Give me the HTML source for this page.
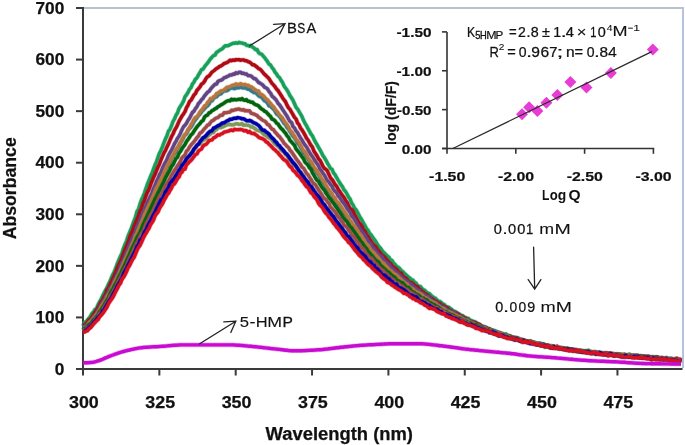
<!DOCTYPE html>
<html><head><meta charset="utf-8"><style>
html,body{margin:0;padding:0;background:#fff;width:685px;height:445px;overflow:hidden}
svg{display:block;filter:blur(0.3px)}
text{font-family:"Liberation Sans",sans-serif;fill:#111}
.b17{font-size:17.2px;font-weight:bold;stroke:#111;stroke-width:0.25px}
.b18{font-size:18px;font-weight:bold;stroke:#111;stroke-width:0.25px}
.b13{font-size:13.5px;font-weight:bold;stroke:#111;stroke-width:0.2px}
.b14{font-size:14px;font-weight:bold;stroke:#111;stroke-width:0.2px}
.r13{font-size:13px}
.r15{font-size:15.8px;stroke:#111;stroke-width:0.25px}
</style></head><body>
<svg width="685" height="445" viewBox="0 0 685 445">
<rect width="685" height="445" fill="#fff"/>
<rect x="84" y="7" width="600" height="2" fill="#B9C2CC"/><rect x="682" y="7" width="2" height="361" fill="#B6C3DC"/><rect x="82" y="7" width="2" height="363" fill="#3a3a3a"/><rect x="76" y="368" width="606.5" height="2" fill="#3a3a3a"/>
<g fill="none" stroke-width="3.4" stroke-linejoin="round" stroke-linecap="butt">
<path d="M83.0,325.8 L84.5,322.3 L86.0,322.1 L87.5,319.9 L89.0,318.2 L90.5,316.3 L92.0,313.4 L93.5,312.0 L95.0,309.4 L96.5,308.9 L98.0,304.9 L99.5,302.0 L101.0,299.3 L102.5,296.3 L104.0,293.1 L105.5,290.4 L107.0,287.7 L108.5,284.1 L110.0,281.4 L111.5,277.5 L113.0,274.2 L114.5,271.3 L116.0,267.3 L117.5,263.2 L119.0,259.7 L120.5,256.3 L122.0,253.1 L123.5,248.3 L125.0,244.4 L126.5,241.1 L128.0,236.3 L129.5,232.6 L131.0,229.2 L132.5,225.0 L134.0,220.8 L135.5,217.0 L137.0,211.4 L138.5,209.1 L140.0,204.1 L141.5,199.8 L143.0,196.6 L144.5,192.8 L146.0,188.2 L147.5,184.0 L149.0,180.5 L150.5,176.5 L152.0,173.2 L153.5,169.1 L155.0,165.0 L156.5,161.6 L158.0,157.2 L159.5,153.2 L161.0,150.2 L162.5,146.6 L164.0,142.6 L165.5,138.8 L167.0,135.8 L168.5,131.1 L170.0,129.2 L171.5,125.7 L173.0,121.5 L174.5,119.0 L176.0,115.3 L177.5,113.0 L179.0,108.6 L180.5,106.1 L182.0,103.9 L183.5,101.2 L185.0,96.8 L186.5,94.8 L188.0,92.4 L189.5,89.3 L191.0,87.7 L192.5,83.9 L194.0,82.1 L195.5,79.0 L197.0,77.8 L198.5,74.9 L200.0,72.5 L201.5,69.7 L203.0,69.2 L204.5,66.8 L206.0,64.8 L207.5,63.1 L209.0,61.0 L210.5,58.8 L212.0,57.1 L213.5,55.6 L215.0,55.1 L216.5,52.4 L218.0,51.5 L219.5,50.4 L221.0,49.5 L222.5,48.6 L224.0,46.8 L225.5,45.7 L227.0,45.7 L228.5,45.5 L230.0,44.7 L231.5,44.0 L233.0,43.3 L234.5,43.3 L236.0,42.8 L237.5,43.2 L239.0,42.4 L240.5,42.9 L242.0,43.0 L243.5,43.6 L245.0,43.8 L246.5,45.3 L248.0,45.5 L249.5,46.2 L251.0,45.4 L252.5,47.1 L254.0,48.0 L255.5,49.6 L257.0,49.5 L258.5,52.4 L260.0,53.7 L261.5,54.1 L263.0,55.8 L264.5,57.5 L266.0,59.6 L267.5,61.6 L269.0,64.1 L270.5,65.0 L272.0,67.5 L273.5,69.3 L275.0,72.1 L276.5,73.8 L278.0,76.4 L279.5,77.5 L281.0,80.3 L282.5,82.4 L284.0,85.9 L285.5,88.0 L287.0,90.1 L288.5,92.7 L290.0,95.7 L291.5,97.8 L293.0,100.4 L294.5,103.7 L296.0,107.3 L297.5,108.9 L299.0,111.5 L300.5,114.0 L302.0,116.7 L303.5,120.3 L305.0,123.3 L306.5,125.7 L308.0,128.6 L309.5,131.3 L311.0,134.1 L312.5,136.1 L314.0,139.3 L315.5,142.3 L317.0,144.6 L318.5,147.4 L320.0,149.9 L321.5,152.7 L323.0,155.8 L324.5,157.8 L326.0,160.4 L327.5,163.3 L329.0,165.7 L330.5,168.5 L332.0,169.2 L333.5,172.9 L335.0,174.7 L336.5,177.3 L338.0,180.0 L339.5,182.5 L341.0,184.8 L342.5,186.8 L344.0,189.9 L345.5,191.5 L347.0,194.0 L348.5,197.0 L350.0,198.9 L351.5,202.7 L353.0,204.9 L354.5,208.1 L356.0,209.7 L357.5,212.3 L359.0,215.2 L360.5,218.1 L362.0,220.2 L363.5,223.2 L365.0,225.6 L366.5,228.8 L368.0,230.2 L369.5,233.3 L371.0,234.8 L372.5,236.9 L374.0,239.2 L375.5,241.0 L377.0,243.7 L378.5,246.0 L380.0,247.6 L381.5,249.6 L383.0,251.9 L384.5,253.1 L386.0,254.8 L387.5,256.2 L389.0,257.3 L390.5,260.0 L392.0,260.4 L393.5,263.0 L395.0,264.3 L396.5,266.3 L398.0,267.2 L399.5,268.3 L401.0,270.3 L402.5,271.3 L404.0,272.9 L405.5,274.4 L407.0,275.7 L408.5,277.0 L410.0,278.1 L411.5,279.7 L413.0,280.1 L414.5,282.3 L416.0,283.1 L417.5,285.4 L419.0,286.7 L420.5,286.5 L422.0,288.7 L423.5,289.7 L425.0,290.5 L426.5,292.4 L428.0,293.1 L429.5,293.6 L431.0,295.4 L432.5,296.6 L434.0,297.8 L435.5,298.3 L437.0,300.2 L438.5,301.3 L440.0,301.5 L441.5,302.7 L443.0,304.0 L444.5,304.7 L446.0,306.8 L447.5,307.0 L449.0,307.4 L450.5,308.5 L452.0,309.7 L453.5,311.7 L455.0,311.5 L456.5,312.5 L458.0,313.5 L459.5,314.1 L461.0,316.0 L462.5,315.6 L464.0,317.0 L465.5,317.5 L467.0,318.5 L468.5,318.5 L470.0,320.6 L471.5,320.5 L473.0,321.3 L474.5,321.6 L476.0,322.4 L477.5,323.7 L479.0,324.6 L480.5,325.2 L482.0,326.1 L483.5,326.5 L485.0,326.8 L486.5,327.8 L488.0,328.4 L489.5,328.7 L491.0,329.7 L492.5,330.5 L494.0,330.6 L495.5,330.9 L497.0,332.0 L498.5,333.1 L500.0,332.7 L501.5,333.3 L503.0,333.8 L504.5,334.9 L506.0,334.1 L507.5,335.5 L509.0,336.4 L510.5,336.0 L512.0,337.5 L513.5,337.5 L515.0,337.5 L516.5,338.3 L518.0,337.9 L519.5,338.8 L521.0,340.3 L522.5,339.5 L524.0,341.1 L525.5,340.7 L527.0,341.5 L528.5,341.5 L530.0,340.8 L531.5,342.0 L533.0,342.7 L534.5,342.4 L536.0,342.7 L537.5,343.8 L539.0,343.7 L540.5,343.5 L542.0,344.3 L543.5,345.3 L545.0,345.0 L546.5,345.9 L548.0,346.5 L549.5,346.1 L551.0,345.8 L552.5,346.0 L554.0,346.9 L555.5,347.6 L557.0,347.5 L558.5,347.9 L560.0,347.7 L561.5,348.3 L563.0,348.2 L564.5,348.5 L566.0,348.3 L567.5,348.3 L569.0,349.1 L570.5,349.0 L572.0,349.3 L573.5,350.2 L575.0,350.0 L576.5,351.6 L578.0,350.9 L579.5,350.4 L581.0,351.2 L582.5,351.2 L584.0,350.9 L585.5,351.8 L587.0,351.2 L588.5,350.3 L590.0,352.2 L591.5,351.7 L593.0,352.8 L594.5,352.0 L596.0,351.9 L597.5,353.3 L599.0,352.2 L600.5,353.0 L602.0,353.7 L603.5,353.2 L605.0,353.2 L606.5,353.5 L608.0,353.9 L609.5,353.3 L611.0,354.1 L612.5,354.2 L614.0,355.1 L615.5,354.0 L617.0,353.9 L618.5,354.7 L620.0,354.3 L621.5,354.8 L623.0,354.8 L624.5,355.4 L626.0,354.7 L627.5,355.1 L629.0,354.1 L630.5,354.9 L632.0,356.1 L633.5,355.3 L635.0,355.4 L636.5,355.2 L638.0,356.2 L639.5,356.1 L641.0,355.6 L642.5,356.6 L644.0,356.5 L645.5,356.8 L647.0,356.3 L648.5,357.5 L650.0,357.0 L651.5,356.9 L653.0,356.9 L654.5,357.1 L656.0,357.8 L657.5,357.4 L659.0,358.1 L660.5,358.0 L662.0,358.5 L663.5,358.4 L665.0,358.2 L666.5,357.5 L668.0,358.6 L669.5,359.0 L671.0,358.8 L672.5,359.2 L674.0,358.9 L675.5,359.1 L677.0,359.0 L678.5,360.2 L680.0,359.8 L681.0,359.7" stroke="#16A05A" stroke-width="4.6" stroke-opacity="0.35"/><path d="M83.0,325.8 L84.5,322.3 L86.0,322.1 L87.5,319.9 L89.0,318.2 L90.5,316.3 L92.0,313.4 L93.5,312.0 L95.0,309.4 L96.5,308.9 L98.0,304.9 L99.5,302.0 L101.0,299.3 L102.5,296.3 L104.0,293.1 L105.5,290.4 L107.0,287.7 L108.5,284.1 L110.0,281.4 L111.5,277.5 L113.0,274.2 L114.5,271.3 L116.0,267.3 L117.5,263.2 L119.0,259.7 L120.5,256.3 L122.0,253.1 L123.5,248.3 L125.0,244.4 L126.5,241.1 L128.0,236.3 L129.5,232.6 L131.0,229.2 L132.5,225.0 L134.0,220.8 L135.5,217.0 L137.0,211.4 L138.5,209.1 L140.0,204.1 L141.5,199.8 L143.0,196.6 L144.5,192.8 L146.0,188.2 L147.5,184.0 L149.0,180.5 L150.5,176.5 L152.0,173.2 L153.5,169.1 L155.0,165.0 L156.5,161.6 L158.0,157.2 L159.5,153.2 L161.0,150.2 L162.5,146.6 L164.0,142.6 L165.5,138.8 L167.0,135.8 L168.5,131.1 L170.0,129.2 L171.5,125.7 L173.0,121.5 L174.5,119.0 L176.0,115.3 L177.5,113.0 L179.0,108.6 L180.5,106.1 L182.0,103.9 L183.5,101.2 L185.0,96.8 L186.5,94.8 L188.0,92.4 L189.5,89.3 L191.0,87.7 L192.5,83.9 L194.0,82.1 L195.5,79.0 L197.0,77.8 L198.5,74.9 L200.0,72.5 L201.5,69.7 L203.0,69.2 L204.5,66.8 L206.0,64.8 L207.5,63.1 L209.0,61.0 L210.5,58.8 L212.0,57.1 L213.5,55.6 L215.0,55.1 L216.5,52.4 L218.0,51.5 L219.5,50.4 L221.0,49.5 L222.5,48.6 L224.0,46.8 L225.5,45.7 L227.0,45.7 L228.5,45.5 L230.0,44.7 L231.5,44.0 L233.0,43.3 L234.5,43.3 L236.0,42.8 L237.5,43.2 L239.0,42.4 L240.5,42.9 L242.0,43.0 L243.5,43.6 L245.0,43.8 L246.5,45.3 L248.0,45.5 L249.5,46.2 L251.0,45.4 L252.5,47.1 L254.0,48.0 L255.5,49.6 L257.0,49.5 L258.5,52.4 L260.0,53.7 L261.5,54.1 L263.0,55.8 L264.5,57.5 L266.0,59.6 L267.5,61.6 L269.0,64.1 L270.5,65.0 L272.0,67.5 L273.5,69.3 L275.0,72.1 L276.5,73.8 L278.0,76.4 L279.5,77.5 L281.0,80.3 L282.5,82.4 L284.0,85.9 L285.5,88.0 L287.0,90.1 L288.5,92.7 L290.0,95.7 L291.5,97.8 L293.0,100.4 L294.5,103.7 L296.0,107.3 L297.5,108.9 L299.0,111.5 L300.5,114.0 L302.0,116.7 L303.5,120.3 L305.0,123.3 L306.5,125.7 L308.0,128.6 L309.5,131.3 L311.0,134.1 L312.5,136.1 L314.0,139.3 L315.5,142.3 L317.0,144.6 L318.5,147.4 L320.0,149.9 L321.5,152.7 L323.0,155.8 L324.5,157.8 L326.0,160.4 L327.5,163.3 L329.0,165.7 L330.5,168.5 L332.0,169.2 L333.5,172.9 L335.0,174.7 L336.5,177.3 L338.0,180.0 L339.5,182.5 L341.0,184.8 L342.5,186.8 L344.0,189.9 L345.5,191.5 L347.0,194.0 L348.5,197.0 L350.0,198.9 L351.5,202.7 L353.0,204.9 L354.5,208.1 L356.0,209.7 L357.5,212.3 L359.0,215.2 L360.5,218.1 L362.0,220.2 L363.5,223.2 L365.0,225.6 L366.5,228.8 L368.0,230.2 L369.5,233.3 L371.0,234.8 L372.5,236.9 L374.0,239.2 L375.5,241.0 L377.0,243.7 L378.5,246.0 L380.0,247.6 L381.5,249.6 L383.0,251.9 L384.5,253.1 L386.0,254.8 L387.5,256.2 L389.0,257.3 L390.5,260.0 L392.0,260.4 L393.5,263.0 L395.0,264.3 L396.5,266.3 L398.0,267.2 L399.5,268.3 L401.0,270.3 L402.5,271.3 L404.0,272.9 L405.5,274.4 L407.0,275.7 L408.5,277.0 L410.0,278.1 L411.5,279.7 L413.0,280.1 L414.5,282.3 L416.0,283.1 L417.5,285.4 L419.0,286.7 L420.5,286.5 L422.0,288.7 L423.5,289.7 L425.0,290.5 L426.5,292.4 L428.0,293.1 L429.5,293.6 L431.0,295.4 L432.5,296.6 L434.0,297.8 L435.5,298.3 L437.0,300.2 L438.5,301.3 L440.0,301.5 L441.5,302.7 L443.0,304.0 L444.5,304.7 L446.0,306.8 L447.5,307.0 L449.0,307.4 L450.5,308.5 L452.0,309.7 L453.5,311.7 L455.0,311.5 L456.5,312.5 L458.0,313.5 L459.5,314.1 L461.0,316.0 L462.5,315.6 L464.0,317.0 L465.5,317.5 L467.0,318.5 L468.5,318.5 L470.0,320.6 L471.5,320.5 L473.0,321.3 L474.5,321.6 L476.0,322.4 L477.5,323.7 L479.0,324.6 L480.5,325.2 L482.0,326.1 L483.5,326.5 L485.0,326.8 L486.5,327.8 L488.0,328.4 L489.5,328.7 L491.0,329.7 L492.5,330.5 L494.0,330.6 L495.5,330.9 L497.0,332.0 L498.5,333.1 L500.0,332.7 L501.5,333.3 L503.0,333.8 L504.5,334.9 L506.0,334.1 L507.5,335.5 L509.0,336.4 L510.5,336.0 L512.0,337.5 L513.5,337.5 L515.0,337.5 L516.5,338.3 L518.0,337.9 L519.5,338.8 L521.0,340.3 L522.5,339.5 L524.0,341.1 L525.5,340.7 L527.0,341.5 L528.5,341.5 L530.0,340.8 L531.5,342.0 L533.0,342.7 L534.5,342.4 L536.0,342.7 L537.5,343.8 L539.0,343.7 L540.5,343.5 L542.0,344.3 L543.5,345.3 L545.0,345.0 L546.5,345.9 L548.0,346.5 L549.5,346.1 L551.0,345.8 L552.5,346.0 L554.0,346.9 L555.5,347.6 L557.0,347.5 L558.5,347.9 L560.0,347.7 L561.5,348.3 L563.0,348.2 L564.5,348.5 L566.0,348.3 L567.5,348.3 L569.0,349.1 L570.5,349.0 L572.0,349.3 L573.5,350.2 L575.0,350.0 L576.5,351.6 L578.0,350.9 L579.5,350.4 L581.0,351.2 L582.5,351.2 L584.0,350.9 L585.5,351.8 L587.0,351.2 L588.5,350.3 L590.0,352.2 L591.5,351.7 L593.0,352.8 L594.5,352.0 L596.0,351.9 L597.5,353.3 L599.0,352.2 L600.5,353.0 L602.0,353.7 L603.5,353.2 L605.0,353.2 L606.5,353.5 L608.0,353.9 L609.5,353.3 L611.0,354.1 L612.5,354.2 L614.0,355.1 L615.5,354.0 L617.0,353.9 L618.5,354.7 L620.0,354.3 L621.5,354.8 L623.0,354.8 L624.5,355.4 L626.0,354.7 L627.5,355.1 L629.0,354.1 L630.5,354.9 L632.0,356.1 L633.5,355.3 L635.0,355.4 L636.5,355.2 L638.0,356.2 L639.5,356.1 L641.0,355.6 L642.5,356.6 L644.0,356.5 L645.5,356.8 L647.0,356.3 L648.5,357.5 L650.0,357.0 L651.5,356.9 L653.0,356.9 L654.5,357.1 L656.0,357.8 L657.5,357.4 L659.0,358.1 L660.5,358.0 L662.0,358.5 L663.5,358.4 L665.0,358.2 L666.5,357.5 L668.0,358.6 L669.5,359.0 L671.0,358.8 L672.5,359.2 L674.0,358.9 L675.5,359.1 L677.0,359.0 L678.5,360.2 L680.0,359.8 L681.0,359.7" stroke="#16A05A"/><path d="M83.0,325.6 L84.5,324.9 L86.0,324.1 L87.5,322.1 L89.0,319.9 L90.5,319.0 L92.0,317.1 L93.5,314.8 L95.0,312.5 L96.5,310.4 L98.0,307.7 L99.5,305.3 L101.0,301.9 L102.5,300.3 L104.0,296.9 L105.5,294.8 L107.0,290.0 L108.5,288.1 L110.0,285.1 L111.5,281.3 L113.0,278.4 L114.5,275.2 L116.0,271.7 L117.5,267.7 L119.0,264.4 L120.5,261.3 L122.0,257.8 L123.5,253.6 L125.0,249.9 L126.5,246.3 L128.0,242.9 L129.5,238.2 L131.0,234.3 L132.5,231.1 L134.0,226.7 L135.5,223.1 L137.0,219.6 L138.5,215.9 L140.0,211.4 L141.5,208.4 L143.0,203.4 L144.5,200.6 L146.0,195.8 L147.5,192.2 L149.0,189.3 L150.5,185.1 L152.0,181.2 L153.5,177.7 L155.0,174.4 L156.5,170.6 L158.0,167.0 L159.5,164.0 L161.0,159.7 L162.5,156.4 L164.0,152.9 L165.5,150.3 L167.0,146.9 L168.5,143.8 L170.0,140.0 L171.5,136.7 L173.0,134.0 L174.5,130.4 L176.0,127.9 L177.5,124.9 L179.0,121.3 L180.5,118.7 L182.0,115.9 L183.5,113.9 L185.0,111.6 L186.5,107.7 L188.0,105.2 L189.5,101.6 L191.0,100.2 L192.5,97.7 L194.0,94.9 L195.5,93.5 L197.0,90.2 L198.5,88.7 L200.0,86.8 L201.5,84.1 L203.0,83.2 L204.5,81.4 L206.0,78.5 L207.5,76.7 L209.0,76.0 L210.5,74.1 L212.0,72.1 L213.5,71.0 L215.0,69.8 L216.5,68.5 L218.0,67.7 L219.5,66.4 L221.0,66.0 L222.5,64.9 L224.0,63.7 L225.5,63.1 L227.0,62.5 L228.5,61.6 L230.0,60.2 L231.5,60.7 L233.0,60.0 L234.5,60.4 L236.0,59.6 L237.5,59.7 L239.0,59.6 L240.5,60.3 L242.0,59.9 L243.5,59.9 L245.0,60.6 L246.5,60.8 L248.0,61.6 L249.5,62.2 L251.0,63.2 L252.5,64.8 L254.0,64.7 L255.5,66.0 L257.0,67.0 L258.5,68.6 L260.0,69.1 L261.5,70.7 L263.0,72.5 L264.5,74.3 L266.0,75.6 L267.5,77.1 L269.0,78.7 L270.5,81.1 L272.0,83.4 L273.5,84.9 L275.0,86.8 L276.5,89.0 L278.0,90.5 L279.5,92.9 L281.0,95.2 L282.5,97.7 L284.0,99.9 L285.5,101.7 L287.0,105.1 L288.5,107.8 L290.0,109.4 L291.5,112.2 L293.0,114.6 L294.5,117.4 L296.0,118.9 L297.5,122.9 L299.0,124.6 L300.5,128.0 L302.0,130.0 L303.5,132.4 L305.0,135.1 L306.5,138.2 L308.0,140.0 L309.5,142.8 L311.0,145.3 L312.5,147.3 L314.0,151.3 L315.5,153.5 L317.0,155.7 L318.5,158.8 L320.0,160.3 L321.5,163.2 L323.0,166.4 L324.5,168.5 L326.0,169.4 L327.5,171.3 L329.0,174.6 L330.5,177.9 L332.0,179.5 L333.5,181.8 L335.0,184.5 L336.5,186.1 L338.0,188.8 L339.5,191.3 L341.0,193.5 L342.5,195.7 L344.0,197.5 L345.5,200.4 L347.0,202.3 L348.5,205.4 L350.0,208.4 L351.5,209.4 L353.0,211.2 L354.5,214.5 L356.0,217.4 L357.5,220.2 L359.0,222.7 L360.5,224.3 L362.0,226.8 L363.5,230.1 L365.0,231.5 L366.5,234.8 L368.0,236.4 L369.5,239.1 L371.0,241.2 L372.5,243.3 L374.0,245.3 L375.5,246.5 L377.0,249.0 L378.5,250.7 L380.0,252.6 L381.5,254.8 L383.0,255.9 L384.5,257.3 L386.0,259.0 L387.5,260.7 L389.0,262.8 L390.5,263.6 L392.0,266.0 L393.5,267.1 L395.0,268.3 L396.5,269.2 L398.0,271.3 L399.5,272.9 L401.0,273.1 L402.5,275.8 L404.0,277.3 L405.5,278.0 L407.0,279.4 L408.5,281.5 L410.0,282.3 L411.5,282.6 L413.0,284.2 L414.5,285.3 L416.0,286.5 L417.5,286.7 L419.0,289.3 L420.5,289.8 L422.0,291.4 L423.5,292.3 L425.0,293.9 L426.5,294.5 L428.0,295.3 L429.5,297.0 L431.0,298.5 L432.5,298.7 L434.0,300.5 L435.5,301.0 L437.0,301.7 L438.5,303.6 L440.0,303.5 L441.5,305.3 L443.0,305.6 L444.5,307.0 L446.0,307.1 L447.5,308.2 L449.0,310.0 L450.5,310.5 L452.0,311.3 L453.5,311.9 L455.0,313.2 L456.5,313.2 L458.0,314.1 L459.5,315.4 L461.0,315.9 L462.5,316.7 L464.0,317.8 L465.5,318.5 L467.0,319.2 L468.5,320.8 L470.0,321.3 L471.5,322.1 L473.0,322.2 L474.5,322.7 L476.0,323.0 L477.5,324.2 L479.0,324.0 L480.5,325.4 L482.0,326.6 L483.5,327.6 L485.0,328.0 L486.5,327.8 L488.0,329.0 L489.5,329.0 L491.0,330.3 L492.5,330.5 L494.0,331.5 L495.5,332.8 L497.0,332.6 L498.5,333.8 L500.0,333.3 L501.5,333.6 L503.0,334.9 L504.5,335.6 L506.0,335.0 L507.5,335.8 L509.0,335.6 L510.5,336.6 L512.0,337.6 L513.5,337.6 L515.0,337.8 L516.5,337.9 L518.0,339.1 L519.5,339.7 L521.0,340.0 L522.5,340.3 L524.0,340.0 L525.5,341.7 L527.0,341.3 L528.5,341.6 L530.0,342.4 L531.5,341.4 L533.0,342.7 L534.5,343.1 L536.0,343.6 L537.5,344.4 L539.0,344.3 L540.5,343.6 L542.0,344.6 L543.5,345.1 L545.0,345.4 L546.5,345.1 L548.0,345.2 L549.5,346.5 L551.0,346.6 L552.5,346.8 L554.0,346.3 L555.5,348.1 L557.0,346.2 L558.5,347.6 L560.0,349.0 L561.5,348.2 L563.0,348.6 L564.5,348.2 L566.0,349.6 L567.5,348.6 L569.0,349.5 L570.5,349.7 L572.0,349.3 L573.5,350.4 L575.0,349.6 L576.5,350.1 L578.0,350.6 L579.5,350.6 L581.0,351.2 L582.5,351.6 L584.0,351.2 L585.5,351.3 L587.0,351.4 L588.5,351.7 L590.0,352.4 L591.5,352.1 L593.0,352.5 L594.5,352.4 L596.0,352.2 L597.5,353.2 L599.0,352.4 L600.5,353.1 L602.0,353.9 L603.5,352.8 L605.0,353.5 L606.5,352.9 L608.0,353.5 L609.5,353.2 L611.0,353.8 L612.5,353.9 L614.0,354.3 L615.5,355.1 L617.0,354.6 L618.5,354.9 L620.0,354.7 L621.5,354.8 L623.0,354.6 L624.5,354.3 L626.0,355.3 L627.5,356.1 L629.0,355.7 L630.5,355.4 L632.0,356.5 L633.5,355.6 L635.0,355.7 L636.5,355.5 L638.0,355.8 L639.5,356.2 L641.0,357.3 L642.5,356.5 L644.0,356.2 L645.5,356.5 L647.0,356.8 L648.5,356.3 L650.0,357.2 L651.5,357.6 L653.0,357.5 L654.5,357.8 L656.0,357.1 L657.5,357.0 L659.0,358.5 L660.5,358.5 L662.0,357.5 L663.5,358.4 L665.0,358.5 L666.5,358.8 L668.0,358.8 L669.5,358.7 L671.0,359.1 L672.5,359.3 L674.0,359.3 L675.5,358.7 L677.0,358.3 L678.5,359.5 L680.0,359.2 L681.0,360.2" stroke="#B00A14" stroke-width="4.6" stroke-opacity="0.35"/><path d="M83.0,325.6 L84.5,324.9 L86.0,324.1 L87.5,322.1 L89.0,319.9 L90.5,319.0 L92.0,317.1 L93.5,314.8 L95.0,312.5 L96.5,310.4 L98.0,307.7 L99.5,305.3 L101.0,301.9 L102.5,300.3 L104.0,296.9 L105.5,294.8 L107.0,290.0 L108.5,288.1 L110.0,285.1 L111.5,281.3 L113.0,278.4 L114.5,275.2 L116.0,271.7 L117.5,267.7 L119.0,264.4 L120.5,261.3 L122.0,257.8 L123.5,253.6 L125.0,249.9 L126.5,246.3 L128.0,242.9 L129.5,238.2 L131.0,234.3 L132.5,231.1 L134.0,226.7 L135.5,223.1 L137.0,219.6 L138.5,215.9 L140.0,211.4 L141.5,208.4 L143.0,203.4 L144.5,200.6 L146.0,195.8 L147.5,192.2 L149.0,189.3 L150.5,185.1 L152.0,181.2 L153.5,177.7 L155.0,174.4 L156.5,170.6 L158.0,167.0 L159.5,164.0 L161.0,159.7 L162.5,156.4 L164.0,152.9 L165.5,150.3 L167.0,146.9 L168.5,143.8 L170.0,140.0 L171.5,136.7 L173.0,134.0 L174.5,130.4 L176.0,127.9 L177.5,124.9 L179.0,121.3 L180.5,118.7 L182.0,115.9 L183.5,113.9 L185.0,111.6 L186.5,107.7 L188.0,105.2 L189.5,101.6 L191.0,100.2 L192.5,97.7 L194.0,94.9 L195.5,93.5 L197.0,90.2 L198.5,88.7 L200.0,86.8 L201.5,84.1 L203.0,83.2 L204.5,81.4 L206.0,78.5 L207.5,76.7 L209.0,76.0 L210.5,74.1 L212.0,72.1 L213.5,71.0 L215.0,69.8 L216.5,68.5 L218.0,67.7 L219.5,66.4 L221.0,66.0 L222.5,64.9 L224.0,63.7 L225.5,63.1 L227.0,62.5 L228.5,61.6 L230.0,60.2 L231.5,60.7 L233.0,60.0 L234.5,60.4 L236.0,59.6 L237.5,59.7 L239.0,59.6 L240.5,60.3 L242.0,59.9 L243.5,59.9 L245.0,60.6 L246.5,60.8 L248.0,61.6 L249.5,62.2 L251.0,63.2 L252.5,64.8 L254.0,64.7 L255.5,66.0 L257.0,67.0 L258.5,68.6 L260.0,69.1 L261.5,70.7 L263.0,72.5 L264.5,74.3 L266.0,75.6 L267.5,77.1 L269.0,78.7 L270.5,81.1 L272.0,83.4 L273.5,84.9 L275.0,86.8 L276.5,89.0 L278.0,90.5 L279.5,92.9 L281.0,95.2 L282.5,97.7 L284.0,99.9 L285.5,101.7 L287.0,105.1 L288.5,107.8 L290.0,109.4 L291.5,112.2 L293.0,114.6 L294.5,117.4 L296.0,118.9 L297.5,122.9 L299.0,124.6 L300.5,128.0 L302.0,130.0 L303.5,132.4 L305.0,135.1 L306.5,138.2 L308.0,140.0 L309.5,142.8 L311.0,145.3 L312.5,147.3 L314.0,151.3 L315.5,153.5 L317.0,155.7 L318.5,158.8 L320.0,160.3 L321.5,163.2 L323.0,166.4 L324.5,168.5 L326.0,169.4 L327.5,171.3 L329.0,174.6 L330.5,177.9 L332.0,179.5 L333.5,181.8 L335.0,184.5 L336.5,186.1 L338.0,188.8 L339.5,191.3 L341.0,193.5 L342.5,195.7 L344.0,197.5 L345.5,200.4 L347.0,202.3 L348.5,205.4 L350.0,208.4 L351.5,209.4 L353.0,211.2 L354.5,214.5 L356.0,217.4 L357.5,220.2 L359.0,222.7 L360.5,224.3 L362.0,226.8 L363.5,230.1 L365.0,231.5 L366.5,234.8 L368.0,236.4 L369.5,239.1 L371.0,241.2 L372.5,243.3 L374.0,245.3 L375.5,246.5 L377.0,249.0 L378.5,250.7 L380.0,252.6 L381.5,254.8 L383.0,255.9 L384.5,257.3 L386.0,259.0 L387.5,260.7 L389.0,262.8 L390.5,263.6 L392.0,266.0 L393.5,267.1 L395.0,268.3 L396.5,269.2 L398.0,271.3 L399.5,272.9 L401.0,273.1 L402.5,275.8 L404.0,277.3 L405.5,278.0 L407.0,279.4 L408.5,281.5 L410.0,282.3 L411.5,282.6 L413.0,284.2 L414.5,285.3 L416.0,286.5 L417.5,286.7 L419.0,289.3 L420.5,289.8 L422.0,291.4 L423.5,292.3 L425.0,293.9 L426.5,294.5 L428.0,295.3 L429.5,297.0 L431.0,298.5 L432.5,298.7 L434.0,300.5 L435.5,301.0 L437.0,301.7 L438.5,303.6 L440.0,303.5 L441.5,305.3 L443.0,305.6 L444.5,307.0 L446.0,307.1 L447.5,308.2 L449.0,310.0 L450.5,310.5 L452.0,311.3 L453.5,311.9 L455.0,313.2 L456.5,313.2 L458.0,314.1 L459.5,315.4 L461.0,315.9 L462.5,316.7 L464.0,317.8 L465.5,318.5 L467.0,319.2 L468.5,320.8 L470.0,321.3 L471.5,322.1 L473.0,322.2 L474.5,322.7 L476.0,323.0 L477.5,324.2 L479.0,324.0 L480.5,325.4 L482.0,326.6 L483.5,327.6 L485.0,328.0 L486.5,327.8 L488.0,329.0 L489.5,329.0 L491.0,330.3 L492.5,330.5 L494.0,331.5 L495.5,332.8 L497.0,332.6 L498.5,333.8 L500.0,333.3 L501.5,333.6 L503.0,334.9 L504.5,335.6 L506.0,335.0 L507.5,335.8 L509.0,335.6 L510.5,336.6 L512.0,337.6 L513.5,337.6 L515.0,337.8 L516.5,337.9 L518.0,339.1 L519.5,339.7 L521.0,340.0 L522.5,340.3 L524.0,340.0 L525.5,341.7 L527.0,341.3 L528.5,341.6 L530.0,342.4 L531.5,341.4 L533.0,342.7 L534.5,343.1 L536.0,343.6 L537.5,344.4 L539.0,344.3 L540.5,343.6 L542.0,344.6 L543.5,345.1 L545.0,345.4 L546.5,345.1 L548.0,345.2 L549.5,346.5 L551.0,346.6 L552.5,346.8 L554.0,346.3 L555.5,348.1 L557.0,346.2 L558.5,347.6 L560.0,349.0 L561.5,348.2 L563.0,348.6 L564.5,348.2 L566.0,349.6 L567.5,348.6 L569.0,349.5 L570.5,349.7 L572.0,349.3 L573.5,350.4 L575.0,349.6 L576.5,350.1 L578.0,350.6 L579.5,350.6 L581.0,351.2 L582.5,351.6 L584.0,351.2 L585.5,351.3 L587.0,351.4 L588.5,351.7 L590.0,352.4 L591.5,352.1 L593.0,352.5 L594.5,352.4 L596.0,352.2 L597.5,353.2 L599.0,352.4 L600.5,353.1 L602.0,353.9 L603.5,352.8 L605.0,353.5 L606.5,352.9 L608.0,353.5 L609.5,353.2 L611.0,353.8 L612.5,353.9 L614.0,354.3 L615.5,355.1 L617.0,354.6 L618.5,354.9 L620.0,354.7 L621.5,354.8 L623.0,354.6 L624.5,354.3 L626.0,355.3 L627.5,356.1 L629.0,355.7 L630.5,355.4 L632.0,356.5 L633.5,355.6 L635.0,355.7 L636.5,355.5 L638.0,355.8 L639.5,356.2 L641.0,357.3 L642.5,356.5 L644.0,356.2 L645.5,356.5 L647.0,356.8 L648.5,356.3 L650.0,357.2 L651.5,357.6 L653.0,357.5 L654.5,357.8 L656.0,357.1 L657.5,357.0 L659.0,358.5 L660.5,358.5 L662.0,357.5 L663.5,358.4 L665.0,358.5 L666.5,358.8 L668.0,358.8 L669.5,358.7 L671.0,359.1 L672.5,359.3 L674.0,359.3 L675.5,358.7 L677.0,358.3 L678.5,359.5 L680.0,359.2 L681.0,360.2" stroke="#B00A14"/><path d="M83.0,328.1 L84.5,326.8 L86.0,325.2 L87.5,324.0 L89.0,322.9 L90.5,320.4 L92.0,319.3 L93.5,317.3 L95.0,315.0 L96.5,313.4 L98.0,310.2 L99.5,308.5 L101.0,305.2 L102.5,302.7 L104.0,300.0 L105.5,297.9 L107.0,294.5 L108.5,292.0 L110.0,288.5 L111.5,286.5 L113.0,283.7 L114.5,279.8 L116.0,277.2 L117.5,273.5 L119.0,270.9 L120.5,266.5 L122.0,262.4 L123.5,260.3 L125.0,256.1 L126.5,252.2 L128.0,248.8 L129.5,244.8 L131.0,241.9 L132.5,237.9 L134.0,235.5 L135.5,231.5 L137.0,226.8 L138.5,223.3 L140.0,220.1 L141.5,215.9 L143.0,213.1 L144.5,209.6 L146.0,205.7 L147.5,202.3 L149.0,199.2 L150.5,196.1 L152.0,192.7 L153.5,188.6 L155.0,185.5 L156.5,181.4 L158.0,178.6 L159.5,174.7 L161.0,172.1 L162.5,168.0 L164.0,164.9 L165.5,162.2 L167.0,159.3 L168.5,155.4 L170.0,152.7 L171.5,150.0 L173.0,147.1 L174.5,143.7 L176.0,141.3 L177.5,138.3 L179.0,136.3 L180.5,133.2 L182.0,129.7 L183.5,126.7 L185.0,125.2 L186.5,123.2 L188.0,120.3 L189.5,118.2 L191.0,115.2 L192.5,112.4 L194.0,111.1 L195.5,108.5 L197.0,106.6 L198.5,103.5 L200.0,102.1 L201.5,99.7 L203.0,98.4 L204.5,95.9 L206.0,94.1 L207.5,92.3 L209.0,91.4 L210.5,89.3 L212.0,87.4 L213.5,85.8 L215.0,84.3 L216.5,84.1 L218.0,81.4 L219.5,80.6 L221.0,80.2 L222.5,79.4 L224.0,77.8 L225.5,77.4 L227.0,76.6 L228.5,76.0 L230.0,74.9 L231.5,75.1 L233.0,74.0 L234.5,74.2 L236.0,72.7 L237.5,73.4 L239.0,72.3 L240.5,72.2 L242.0,73.4 L243.5,73.1 L245.0,74.0 L246.5,73.9 L248.0,75.6 L249.5,75.6 L251.0,75.9 L252.5,77.3 L254.0,78.6 L255.5,78.8 L257.0,80.5 L258.5,82.4 L260.0,83.1 L261.5,84.1 L263.0,85.2 L264.5,87.2 L266.0,87.8 L267.5,88.8 L269.0,91.5 L270.5,93.1 L272.0,96.1 L273.5,97.3 L275.0,98.7 L276.5,100.5 L278.0,103.3 L279.5,104.8 L281.0,107.0 L282.5,109.4 L284.0,111.6 L285.5,113.9 L287.0,116.1 L288.5,119.0 L290.0,121.5 L291.5,122.4 L293.0,126.6 L294.5,128.0 L296.0,130.9 L297.5,132.5 L299.0,135.4 L300.5,137.8 L302.0,140.1 L303.5,142.8 L305.0,145.1 L306.5,146.8 L308.0,149.6 L309.5,152.4 L311.0,154.7 L312.5,156.7 L314.0,159.1 L315.5,161.5 L317.0,163.5 L318.5,165.7 L320.0,169.4 L321.5,170.8 L323.0,173.3 L324.5,175.2 L326.0,178.3 L327.5,180.8 L329.0,182.1 L330.5,184.6 L332.0,186.2 L333.5,189.5 L335.0,191.3 L336.5,192.6 L338.0,195.7 L339.5,197.4 L341.0,199.6 L342.5,201.8 L344.0,203.5 L345.5,205.7 L347.0,208.4 L348.5,210.4 L350.0,212.2 L351.5,215.9 L353.0,217.3 L354.5,219.5 L356.0,221.9 L357.5,224.9 L359.0,227.4 L360.5,229.4 L362.0,232.1 L363.5,233.3 L365.0,236.1 L366.5,238.2 L368.0,240.6 L369.5,242.9 L371.0,243.8 L372.5,248.1 L374.0,248.3 L375.5,250.7 L377.0,252.7 L378.5,254.5 L380.0,256.0 L381.5,256.3 L383.0,258.7 L384.5,261.2 L386.0,262.0 L387.5,263.4 L389.0,264.4 L390.5,267.4 L392.0,268.5 L393.5,269.3 L395.0,271.0 L396.5,272.4 L398.0,273.3 L399.5,275.0 L401.0,276.5 L402.5,278.0 L404.0,279.5 L405.5,280.2 L407.0,281.3 L408.5,282.9 L410.0,283.6 L411.5,284.5 L413.0,286.8 L414.5,287.3 L416.0,288.6 L417.5,290.0 L419.0,290.4 L420.5,292.3 L422.0,293.3 L423.5,294.1 L425.0,295.4 L426.5,295.9 L428.0,296.3 L429.5,298.2 L431.0,299.0 L432.5,300.8 L434.0,301.5 L435.5,302.1 L437.0,303.3 L438.5,304.9 L440.0,305.7 L441.5,306.3 L443.0,307.2 L444.5,307.8 L446.0,308.8 L447.5,310.0 L449.0,310.5 L450.5,311.6 L452.0,311.8 L453.5,312.4 L455.0,313.2 L456.5,314.5 L458.0,316.1 L459.5,316.8 L461.0,316.6 L462.5,317.2 L464.0,319.0 L465.5,319.6 L467.0,319.5 L468.5,321.3 L470.0,321.6 L471.5,322.8 L473.0,323.0 L474.5,324.0 L476.0,324.4 L477.5,324.5 L479.0,325.4 L480.5,325.9 L482.0,327.2 L483.5,327.0 L485.0,327.3 L486.5,328.9 L488.0,329.7 L489.5,330.4 L491.0,330.8 L492.5,330.2 L494.0,331.2 L495.5,331.8 L497.0,332.5 L498.5,332.1 L500.0,333.6 L501.5,334.2 L503.0,334.2 L504.5,335.1 L506.0,336.1 L507.5,336.1 L509.0,337.0 L510.5,337.4 L512.0,337.6 L513.5,338.0 L515.0,338.1 L516.5,339.3 L518.0,338.9 L519.5,339.2 L521.0,340.3 L522.5,340.0 L524.0,340.9 L525.5,341.6 L527.0,341.5 L528.5,341.9 L530.0,342.6 L531.5,342.9 L533.0,342.2 L534.5,342.7 L536.0,344.2 L537.5,344.1 L539.0,343.3 L540.5,343.9 L542.0,344.9 L543.5,344.7 L545.0,345.7 L546.5,345.8 L548.0,346.3 L549.5,345.8 L551.0,346.9 L552.5,347.7 L554.0,346.8 L555.5,348.0 L557.0,348.1 L558.5,348.2 L560.0,348.1 L561.5,347.8 L563.0,348.2 L564.5,349.2 L566.0,349.5 L567.5,349.8 L569.0,349.9 L570.5,350.1 L572.0,349.7 L573.5,349.6 L575.0,350.4 L576.5,350.7 L578.0,350.7 L579.5,350.2 L581.0,350.8 L582.5,350.6 L584.0,351.5 L585.5,351.1 L587.0,351.7 L588.5,352.1 L590.0,352.2 L591.5,352.9 L593.0,351.9 L594.5,351.6 L596.0,353.2 L597.5,353.5 L599.0,353.7 L600.5,353.3 L602.0,353.6 L603.5,353.5 L605.0,353.0 L606.5,353.5 L608.0,354.1 L609.5,353.8 L611.0,355.0 L612.5,353.6 L614.0,354.2 L615.5,355.1 L617.0,354.4 L618.5,354.3 L620.0,354.3 L621.5,354.7 L623.0,355.9 L624.5,355.5 L626.0,355.7 L627.5,355.3 L629.0,356.1 L630.5,355.8 L632.0,355.5 L633.5,355.8 L635.0,356.2 L636.5,356.8 L638.0,356.4 L639.5,356.7 L641.0,357.5 L642.5,356.4 L644.0,356.3 L645.5,357.4 L647.0,357.3 L648.5,357.2 L650.0,357.5 L651.5,357.3 L653.0,357.8 L654.5,357.6 L656.0,358.2 L657.5,357.5 L659.0,357.7 L660.5,358.3 L662.0,358.2 L663.5,358.8 L665.0,358.6 L666.5,358.5 L668.0,359.0 L669.5,358.8 L671.0,358.5 L672.5,358.9 L674.0,359.2 L675.5,359.5 L677.0,359.9 L678.5,360.4 L680.0,360.4 L681.0,361.0" stroke="#634485" stroke-width="4.6" stroke-opacity="0.35"/><path d="M83.0,328.1 L84.5,326.8 L86.0,325.2 L87.5,324.0 L89.0,322.9 L90.5,320.4 L92.0,319.3 L93.5,317.3 L95.0,315.0 L96.5,313.4 L98.0,310.2 L99.5,308.5 L101.0,305.2 L102.5,302.7 L104.0,300.0 L105.5,297.9 L107.0,294.5 L108.5,292.0 L110.0,288.5 L111.5,286.5 L113.0,283.7 L114.5,279.8 L116.0,277.2 L117.5,273.5 L119.0,270.9 L120.5,266.5 L122.0,262.4 L123.5,260.3 L125.0,256.1 L126.5,252.2 L128.0,248.8 L129.5,244.8 L131.0,241.9 L132.5,237.9 L134.0,235.5 L135.5,231.5 L137.0,226.8 L138.5,223.3 L140.0,220.1 L141.5,215.9 L143.0,213.1 L144.5,209.6 L146.0,205.7 L147.5,202.3 L149.0,199.2 L150.5,196.1 L152.0,192.7 L153.5,188.6 L155.0,185.5 L156.5,181.4 L158.0,178.6 L159.5,174.7 L161.0,172.1 L162.5,168.0 L164.0,164.9 L165.5,162.2 L167.0,159.3 L168.5,155.4 L170.0,152.7 L171.5,150.0 L173.0,147.1 L174.5,143.7 L176.0,141.3 L177.5,138.3 L179.0,136.3 L180.5,133.2 L182.0,129.7 L183.5,126.7 L185.0,125.2 L186.5,123.2 L188.0,120.3 L189.5,118.2 L191.0,115.2 L192.5,112.4 L194.0,111.1 L195.5,108.5 L197.0,106.6 L198.5,103.5 L200.0,102.1 L201.5,99.7 L203.0,98.4 L204.5,95.9 L206.0,94.1 L207.5,92.3 L209.0,91.4 L210.5,89.3 L212.0,87.4 L213.5,85.8 L215.0,84.3 L216.5,84.1 L218.0,81.4 L219.5,80.6 L221.0,80.2 L222.5,79.4 L224.0,77.8 L225.5,77.4 L227.0,76.6 L228.5,76.0 L230.0,74.9 L231.5,75.1 L233.0,74.0 L234.5,74.2 L236.0,72.7 L237.5,73.4 L239.0,72.3 L240.5,72.2 L242.0,73.4 L243.5,73.1 L245.0,74.0 L246.5,73.9 L248.0,75.6 L249.5,75.6 L251.0,75.9 L252.5,77.3 L254.0,78.6 L255.5,78.8 L257.0,80.5 L258.5,82.4 L260.0,83.1 L261.5,84.1 L263.0,85.2 L264.5,87.2 L266.0,87.8 L267.5,88.8 L269.0,91.5 L270.5,93.1 L272.0,96.1 L273.5,97.3 L275.0,98.7 L276.5,100.5 L278.0,103.3 L279.5,104.8 L281.0,107.0 L282.5,109.4 L284.0,111.6 L285.5,113.9 L287.0,116.1 L288.5,119.0 L290.0,121.5 L291.5,122.4 L293.0,126.6 L294.5,128.0 L296.0,130.9 L297.5,132.5 L299.0,135.4 L300.5,137.8 L302.0,140.1 L303.5,142.8 L305.0,145.1 L306.5,146.8 L308.0,149.6 L309.5,152.4 L311.0,154.7 L312.5,156.7 L314.0,159.1 L315.5,161.5 L317.0,163.5 L318.5,165.7 L320.0,169.4 L321.5,170.8 L323.0,173.3 L324.5,175.2 L326.0,178.3 L327.5,180.8 L329.0,182.1 L330.5,184.6 L332.0,186.2 L333.5,189.5 L335.0,191.3 L336.5,192.6 L338.0,195.7 L339.5,197.4 L341.0,199.6 L342.5,201.8 L344.0,203.5 L345.5,205.7 L347.0,208.4 L348.5,210.4 L350.0,212.2 L351.5,215.9 L353.0,217.3 L354.5,219.5 L356.0,221.9 L357.5,224.9 L359.0,227.4 L360.5,229.4 L362.0,232.1 L363.5,233.3 L365.0,236.1 L366.5,238.2 L368.0,240.6 L369.5,242.9 L371.0,243.8 L372.5,248.1 L374.0,248.3 L375.5,250.7 L377.0,252.7 L378.5,254.5 L380.0,256.0 L381.5,256.3 L383.0,258.7 L384.5,261.2 L386.0,262.0 L387.5,263.4 L389.0,264.4 L390.5,267.4 L392.0,268.5 L393.5,269.3 L395.0,271.0 L396.5,272.4 L398.0,273.3 L399.5,275.0 L401.0,276.5 L402.5,278.0 L404.0,279.5 L405.5,280.2 L407.0,281.3 L408.5,282.9 L410.0,283.6 L411.5,284.5 L413.0,286.8 L414.5,287.3 L416.0,288.6 L417.5,290.0 L419.0,290.4 L420.5,292.3 L422.0,293.3 L423.5,294.1 L425.0,295.4 L426.5,295.9 L428.0,296.3 L429.5,298.2 L431.0,299.0 L432.5,300.8 L434.0,301.5 L435.5,302.1 L437.0,303.3 L438.5,304.9 L440.0,305.7 L441.5,306.3 L443.0,307.2 L444.5,307.8 L446.0,308.8 L447.5,310.0 L449.0,310.5 L450.5,311.6 L452.0,311.8 L453.5,312.4 L455.0,313.2 L456.5,314.5 L458.0,316.1 L459.5,316.8 L461.0,316.6 L462.5,317.2 L464.0,319.0 L465.5,319.6 L467.0,319.5 L468.5,321.3 L470.0,321.6 L471.5,322.8 L473.0,323.0 L474.5,324.0 L476.0,324.4 L477.5,324.5 L479.0,325.4 L480.5,325.9 L482.0,327.2 L483.5,327.0 L485.0,327.3 L486.5,328.9 L488.0,329.7 L489.5,330.4 L491.0,330.8 L492.5,330.2 L494.0,331.2 L495.5,331.8 L497.0,332.5 L498.5,332.1 L500.0,333.6 L501.5,334.2 L503.0,334.2 L504.5,335.1 L506.0,336.1 L507.5,336.1 L509.0,337.0 L510.5,337.4 L512.0,337.6 L513.5,338.0 L515.0,338.1 L516.5,339.3 L518.0,338.9 L519.5,339.2 L521.0,340.3 L522.5,340.0 L524.0,340.9 L525.5,341.6 L527.0,341.5 L528.5,341.9 L530.0,342.6 L531.5,342.9 L533.0,342.2 L534.5,342.7 L536.0,344.2 L537.5,344.1 L539.0,343.3 L540.5,343.9 L542.0,344.9 L543.5,344.7 L545.0,345.7 L546.5,345.8 L548.0,346.3 L549.5,345.8 L551.0,346.9 L552.5,347.7 L554.0,346.8 L555.5,348.0 L557.0,348.1 L558.5,348.2 L560.0,348.1 L561.5,347.8 L563.0,348.2 L564.5,349.2 L566.0,349.5 L567.5,349.8 L569.0,349.9 L570.5,350.1 L572.0,349.7 L573.5,349.6 L575.0,350.4 L576.5,350.7 L578.0,350.7 L579.5,350.2 L581.0,350.8 L582.5,350.6 L584.0,351.5 L585.5,351.1 L587.0,351.7 L588.5,352.1 L590.0,352.2 L591.5,352.9 L593.0,351.9 L594.5,351.6 L596.0,353.2 L597.5,353.5 L599.0,353.7 L600.5,353.3 L602.0,353.6 L603.5,353.5 L605.0,353.0 L606.5,353.5 L608.0,354.1 L609.5,353.8 L611.0,355.0 L612.5,353.6 L614.0,354.2 L615.5,355.1 L617.0,354.4 L618.5,354.3 L620.0,354.3 L621.5,354.7 L623.0,355.9 L624.5,355.5 L626.0,355.7 L627.5,355.3 L629.0,356.1 L630.5,355.8 L632.0,355.5 L633.5,355.8 L635.0,356.2 L636.5,356.8 L638.0,356.4 L639.5,356.7 L641.0,357.5 L642.5,356.4 L644.0,356.3 L645.5,357.4 L647.0,357.3 L648.5,357.2 L650.0,357.5 L651.5,357.3 L653.0,357.8 L654.5,357.6 L656.0,358.2 L657.5,357.5 L659.0,357.7 L660.5,358.3 L662.0,358.2 L663.5,358.8 L665.0,358.6 L666.5,358.5 L668.0,359.0 L669.5,358.8 L671.0,358.5 L672.5,358.9 L674.0,359.2 L675.5,359.5 L677.0,359.9 L678.5,360.4 L680.0,360.4 L681.0,361.0" stroke="#634485"/><path d="M83.0,329.6 L84.5,327.8 L86.0,327.5 L87.5,325.9 L89.0,323.7 L90.5,322.5 L92.0,321.1 L93.5,318.9 L95.0,317.3 L96.5,315.0 L98.0,313.0 L99.5,310.3 L101.0,308.2 L102.5,305.5 L104.0,303.4 L105.5,299.7 L107.0,297.9 L108.5,295.6 L110.0,292.4 L111.5,289.2 L113.0,286.5 L114.5,282.8 L116.0,279.8 L117.5,276.8 L119.0,273.7 L120.5,271.0 L122.0,266.9 L123.5,264.4 L125.0,259.9 L126.5,256.9 L128.0,253.9 L129.5,251.0 L131.0,246.8 L132.5,242.7 L134.0,240.4 L135.5,236.8 L137.0,232.8 L138.5,229.4 L140.0,226.2 L141.5,223.1 L143.0,219.9 L144.5,215.6 L146.0,213.9 L147.5,209.5 L149.0,205.9 L150.5,203.1 L152.0,199.5 L153.5,197.2 L155.0,193.4 L156.5,189.6 L158.0,186.4 L159.5,183.2 L161.0,180.1 L162.5,177.5 L164.0,173.8 L165.5,171.8 L167.0,168.1 L168.5,165.1 L170.0,162.7 L171.5,158.5 L173.0,156.2 L174.5,154.1 L176.0,151.1 L177.5,148.4 L179.0,146.0 L180.5,142.9 L182.0,140.6 L183.5,137.5 L185.0,134.9 L186.5,133.9 L188.0,130.6 L189.5,128.4 L191.0,127.1 L192.5,124.7 L194.0,121.8 L195.5,119.6 L197.0,117.8 L198.5,115.4 L200.0,114.1 L201.5,112.0 L203.0,110.2 L204.5,108.7 L206.0,107.0 L207.5,105.8 L209.0,104.1 L210.5,101.2 L212.0,100.9 L213.5,98.6 L215.0,97.2 L216.5,96.9 L218.0,95.1 L219.5,94.2 L221.0,93.8 L222.5,92.1 L224.0,91.1 L225.5,90.9 L227.0,90.6 L228.5,89.7 L230.0,88.2 L231.5,88.1 L233.0,87.9 L234.5,88.6 L236.0,87.9 L237.5,87.7 L239.0,87.8 L240.5,87.1 L242.0,87.7 L243.5,88.0 L245.0,87.7 L246.5,88.5 L248.0,89.3 L249.5,89.2 L251.0,90.7 L252.5,91.5 L254.0,92.5 L255.5,92.6 L257.0,94.0 L258.5,95.7 L260.0,96.6 L261.5,97.1 L263.0,98.9 L264.5,100.8 L266.0,101.5 L267.5,103.2 L269.0,105.8 L270.5,106.2 L272.0,107.8 L273.5,109.1 L275.0,111.1 L276.5,113.8 L278.0,115.0 L279.5,116.4 L281.0,118.5 L282.5,120.9 L284.0,123.3 L285.5,124.7 L287.0,127.5 L288.5,129.1 L290.0,131.6 L291.5,133.9 L293.0,136.2 L294.5,138.0 L296.0,140.4 L297.5,143.0 L299.0,144.5 L300.5,147.5 L302.0,149.9 L303.5,152.5 L305.0,154.4 L306.5,156.7 L308.0,159.2 L309.5,161.1 L311.0,163.7 L312.5,166.4 L314.0,168.7 L315.5,170.4 L317.0,173.1 L318.5,174.6 L320.0,178.2 L321.5,179.9 L323.0,182.6 L324.5,184.2 L326.0,186.9 L327.5,189.4 L329.0,191.8 L330.5,193.0 L332.0,196.1 L333.5,197.8 L335.0,199.7 L336.5,202.4 L338.0,204.2 L339.5,206.4 L341.0,208.3 L342.5,210.9 L344.0,212.9 L345.5,215.0 L347.0,216.8 L348.5,219.1 L350.0,221.7 L351.5,224.3 L353.0,226.0 L354.5,228.8 L356.0,230.4 L357.5,232.1 L359.0,235.1 L360.5,236.5 L362.0,239.3 L363.5,241.7 L365.0,243.1 L366.5,245.3 L368.0,248.4 L369.5,249.3 L371.0,251.2 L372.5,253.3 L374.0,254.7 L375.5,256.4 L377.0,258.3 L378.5,258.8 L380.0,262.1 L381.5,262.5 L383.0,264.1 L384.5,266.3 L386.0,267.5 L387.5,268.4 L389.0,270.4 L390.5,271.2 L392.0,272.7 L393.5,273.7 L395.0,275.2 L396.5,277.1 L398.0,278.2 L399.5,279.5 L401.0,281.0 L402.5,281.7 L404.0,282.6 L405.5,284.0 L407.0,286.0 L408.5,286.4 L410.0,287.6 L411.5,288.6 L413.0,289.8 L414.5,291.0 L416.0,291.9 L417.5,292.8 L419.0,293.6 L420.5,294.6 L422.0,296.2 L423.5,297.4 L425.0,298.4 L426.5,299.0 L428.0,299.6 L429.5,301.2 L431.0,302.2 L432.5,302.1 L434.0,304.1 L435.5,304.9 L437.0,306.3 L438.5,305.9 L440.0,306.7 L441.5,308.5 L443.0,308.2 L444.5,309.6 L446.0,310.2 L447.5,311.1 L449.0,311.5 L450.5,313.1 L452.0,314.4 L453.5,314.9 L455.0,315.7 L456.5,316.1 L458.0,317.7 L459.5,318.0 L461.0,318.9 L462.5,318.5 L464.0,320.1 L465.5,320.1 L467.0,321.4 L468.5,322.1 L470.0,322.1 L471.5,323.4 L473.0,324.5 L474.5,324.8 L476.0,325.5 L477.5,325.4 L479.0,326.1 L480.5,326.6 L482.0,327.7 L483.5,328.8 L485.0,329.0 L486.5,329.4 L488.0,329.4 L489.5,330.7 L491.0,330.9 L492.5,330.7 L494.0,331.3 L495.5,332.5 L497.0,332.7 L498.5,334.4 L500.0,334.1 L501.5,334.1 L503.0,334.9 L504.5,336.3 L506.0,335.6 L507.5,336.8 L509.0,337.1 L510.5,338.0 L512.0,338.0 L513.5,338.0 L515.0,338.9 L516.5,339.1 L518.0,339.9 L519.5,339.8 L521.0,341.1 L522.5,340.6 L524.0,341.2 L525.5,341.1 L527.0,341.8 L528.5,342.1 L530.0,342.5 L531.5,343.2 L533.0,342.9 L534.5,343.1 L536.0,344.3 L537.5,344.0 L539.0,344.1 L540.5,345.2 L542.0,345.4 L543.5,344.1 L545.0,345.4 L546.5,346.3 L548.0,346.6 L549.5,346.2 L551.0,347.4 L552.5,346.6 L554.0,347.2 L555.5,347.6 L557.0,347.8 L558.5,348.4 L560.0,348.7 L561.5,348.5 L563.0,349.4 L564.5,348.7 L566.0,349.1 L567.5,350.2 L569.0,349.7 L570.5,350.3 L572.0,349.9 L573.5,350.1 L575.0,350.4 L576.5,350.7 L578.0,350.7 L579.5,351.1 L581.0,351.5 L582.5,352.0 L584.0,351.7 L585.5,352.1 L587.0,352.4 L588.5,351.7 L590.0,351.6 L591.5,353.2 L593.0,353.2 L594.5,352.8 L596.0,353.1 L597.5,352.7 L599.0,352.6 L600.5,353.6 L602.0,352.9 L603.5,354.1 L605.0,353.6 L606.5,354.1 L608.0,355.0 L609.5,355.1 L611.0,354.3 L612.5,355.0 L614.0,354.2 L615.5,354.6 L617.0,355.1 L618.5,355.7 L620.0,355.0 L621.5,355.6 L623.0,355.5 L624.5,355.0 L626.0,355.7 L627.5,356.5 L629.0,355.9 L630.5,356.3 L632.0,356.6 L633.5,356.0 L635.0,357.0 L636.5,357.3 L638.0,357.4 L639.5,357.4 L641.0,356.7 L642.5,356.8 L644.0,356.8 L645.5,356.9 L647.0,357.1 L648.5,358.0 L650.0,358.3 L651.5,357.5 L653.0,358.3 L654.5,357.5 L656.0,358.0 L657.5,357.8 L659.0,357.7 L660.5,358.6 L662.0,358.7 L663.5,358.6 L665.0,358.7 L666.5,358.6 L668.0,359.2 L669.5,359.1 L671.0,359.6 L672.5,359.1 L674.0,359.9 L675.5,360.1 L677.0,360.6 L678.5,360.7 L680.0,360.4 L681.0,360.2" stroke="#327A8C" stroke-width="4.6" stroke-opacity="0.35"/><path d="M83.0,329.6 L84.5,327.8 L86.0,327.5 L87.5,325.9 L89.0,323.7 L90.5,322.5 L92.0,321.1 L93.5,318.9 L95.0,317.3 L96.5,315.0 L98.0,313.0 L99.5,310.3 L101.0,308.2 L102.5,305.5 L104.0,303.4 L105.5,299.7 L107.0,297.9 L108.5,295.6 L110.0,292.4 L111.5,289.2 L113.0,286.5 L114.5,282.8 L116.0,279.8 L117.5,276.8 L119.0,273.7 L120.5,271.0 L122.0,266.9 L123.5,264.4 L125.0,259.9 L126.5,256.9 L128.0,253.9 L129.5,251.0 L131.0,246.8 L132.5,242.7 L134.0,240.4 L135.5,236.8 L137.0,232.8 L138.5,229.4 L140.0,226.2 L141.5,223.1 L143.0,219.9 L144.5,215.6 L146.0,213.9 L147.5,209.5 L149.0,205.9 L150.5,203.1 L152.0,199.5 L153.5,197.2 L155.0,193.4 L156.5,189.6 L158.0,186.4 L159.5,183.2 L161.0,180.1 L162.5,177.5 L164.0,173.8 L165.5,171.8 L167.0,168.1 L168.5,165.1 L170.0,162.7 L171.5,158.5 L173.0,156.2 L174.5,154.1 L176.0,151.1 L177.5,148.4 L179.0,146.0 L180.5,142.9 L182.0,140.6 L183.5,137.5 L185.0,134.9 L186.5,133.9 L188.0,130.6 L189.5,128.4 L191.0,127.1 L192.5,124.7 L194.0,121.8 L195.5,119.6 L197.0,117.8 L198.5,115.4 L200.0,114.1 L201.5,112.0 L203.0,110.2 L204.5,108.7 L206.0,107.0 L207.5,105.8 L209.0,104.1 L210.5,101.2 L212.0,100.9 L213.5,98.6 L215.0,97.2 L216.5,96.9 L218.0,95.1 L219.5,94.2 L221.0,93.8 L222.5,92.1 L224.0,91.1 L225.5,90.9 L227.0,90.6 L228.5,89.7 L230.0,88.2 L231.5,88.1 L233.0,87.9 L234.5,88.6 L236.0,87.9 L237.5,87.7 L239.0,87.8 L240.5,87.1 L242.0,87.7 L243.5,88.0 L245.0,87.7 L246.5,88.5 L248.0,89.3 L249.5,89.2 L251.0,90.7 L252.5,91.5 L254.0,92.5 L255.5,92.6 L257.0,94.0 L258.5,95.7 L260.0,96.6 L261.5,97.1 L263.0,98.9 L264.5,100.8 L266.0,101.5 L267.5,103.2 L269.0,105.8 L270.5,106.2 L272.0,107.8 L273.5,109.1 L275.0,111.1 L276.5,113.8 L278.0,115.0 L279.5,116.4 L281.0,118.5 L282.5,120.9 L284.0,123.3 L285.5,124.7 L287.0,127.5 L288.5,129.1 L290.0,131.6 L291.5,133.9 L293.0,136.2 L294.5,138.0 L296.0,140.4 L297.5,143.0 L299.0,144.5 L300.5,147.5 L302.0,149.9 L303.5,152.5 L305.0,154.4 L306.5,156.7 L308.0,159.2 L309.5,161.1 L311.0,163.7 L312.5,166.4 L314.0,168.7 L315.5,170.4 L317.0,173.1 L318.5,174.6 L320.0,178.2 L321.5,179.9 L323.0,182.6 L324.5,184.2 L326.0,186.9 L327.5,189.4 L329.0,191.8 L330.5,193.0 L332.0,196.1 L333.5,197.8 L335.0,199.7 L336.5,202.4 L338.0,204.2 L339.5,206.4 L341.0,208.3 L342.5,210.9 L344.0,212.9 L345.5,215.0 L347.0,216.8 L348.5,219.1 L350.0,221.7 L351.5,224.3 L353.0,226.0 L354.5,228.8 L356.0,230.4 L357.5,232.1 L359.0,235.1 L360.5,236.5 L362.0,239.3 L363.5,241.7 L365.0,243.1 L366.5,245.3 L368.0,248.4 L369.5,249.3 L371.0,251.2 L372.5,253.3 L374.0,254.7 L375.5,256.4 L377.0,258.3 L378.5,258.8 L380.0,262.1 L381.5,262.5 L383.0,264.1 L384.5,266.3 L386.0,267.5 L387.5,268.4 L389.0,270.4 L390.5,271.2 L392.0,272.7 L393.5,273.7 L395.0,275.2 L396.5,277.1 L398.0,278.2 L399.5,279.5 L401.0,281.0 L402.5,281.7 L404.0,282.6 L405.5,284.0 L407.0,286.0 L408.5,286.4 L410.0,287.6 L411.5,288.6 L413.0,289.8 L414.5,291.0 L416.0,291.9 L417.5,292.8 L419.0,293.6 L420.5,294.6 L422.0,296.2 L423.5,297.4 L425.0,298.4 L426.5,299.0 L428.0,299.6 L429.5,301.2 L431.0,302.2 L432.5,302.1 L434.0,304.1 L435.5,304.9 L437.0,306.3 L438.5,305.9 L440.0,306.7 L441.5,308.5 L443.0,308.2 L444.5,309.6 L446.0,310.2 L447.5,311.1 L449.0,311.5 L450.5,313.1 L452.0,314.4 L453.5,314.9 L455.0,315.7 L456.5,316.1 L458.0,317.7 L459.5,318.0 L461.0,318.9 L462.5,318.5 L464.0,320.1 L465.5,320.1 L467.0,321.4 L468.5,322.1 L470.0,322.1 L471.5,323.4 L473.0,324.5 L474.5,324.8 L476.0,325.5 L477.5,325.4 L479.0,326.1 L480.5,326.6 L482.0,327.7 L483.5,328.8 L485.0,329.0 L486.5,329.4 L488.0,329.4 L489.5,330.7 L491.0,330.9 L492.5,330.7 L494.0,331.3 L495.5,332.5 L497.0,332.7 L498.5,334.4 L500.0,334.1 L501.5,334.1 L503.0,334.9 L504.5,336.3 L506.0,335.6 L507.5,336.8 L509.0,337.1 L510.5,338.0 L512.0,338.0 L513.5,338.0 L515.0,338.9 L516.5,339.1 L518.0,339.9 L519.5,339.8 L521.0,341.1 L522.5,340.6 L524.0,341.2 L525.5,341.1 L527.0,341.8 L528.5,342.1 L530.0,342.5 L531.5,343.2 L533.0,342.9 L534.5,343.1 L536.0,344.3 L537.5,344.0 L539.0,344.1 L540.5,345.2 L542.0,345.4 L543.5,344.1 L545.0,345.4 L546.5,346.3 L548.0,346.6 L549.5,346.2 L551.0,347.4 L552.5,346.6 L554.0,347.2 L555.5,347.6 L557.0,347.8 L558.5,348.4 L560.0,348.7 L561.5,348.5 L563.0,349.4 L564.5,348.7 L566.0,349.1 L567.5,350.2 L569.0,349.7 L570.5,350.3 L572.0,349.9 L573.5,350.1 L575.0,350.4 L576.5,350.7 L578.0,350.7 L579.5,351.1 L581.0,351.5 L582.5,352.0 L584.0,351.7 L585.5,352.1 L587.0,352.4 L588.5,351.7 L590.0,351.6 L591.5,353.2 L593.0,353.2 L594.5,352.8 L596.0,353.1 L597.5,352.7 L599.0,352.6 L600.5,353.6 L602.0,352.9 L603.5,354.1 L605.0,353.6 L606.5,354.1 L608.0,355.0 L609.5,355.1 L611.0,354.3 L612.5,355.0 L614.0,354.2 L615.5,354.6 L617.0,355.1 L618.5,355.7 L620.0,355.0 L621.5,355.6 L623.0,355.5 L624.5,355.0 L626.0,355.7 L627.5,356.5 L629.0,355.9 L630.5,356.3 L632.0,356.6 L633.5,356.0 L635.0,357.0 L636.5,357.3 L638.0,357.4 L639.5,357.4 L641.0,356.7 L642.5,356.8 L644.0,356.8 L645.5,356.9 L647.0,357.1 L648.5,358.0 L650.0,358.3 L651.5,357.5 L653.0,358.3 L654.5,357.5 L656.0,358.0 L657.5,357.8 L659.0,357.7 L660.5,358.6 L662.0,358.7 L663.5,358.6 L665.0,358.7 L666.5,358.6 L668.0,359.2 L669.5,359.1 L671.0,359.6 L672.5,359.1 L674.0,359.9 L675.5,360.1 L677.0,360.6 L678.5,360.7 L680.0,360.4 L681.0,360.2" stroke="#327A8C"/><path d="M83.0,328.0 L84.5,327.7 L86.0,327.2 L87.5,325.9 L89.0,322.6 L90.5,321.8 L92.0,320.2 L93.5,318.1 L95.0,316.7 L96.5,314.6 L98.0,312.1 L99.5,310.1 L101.0,307.0 L102.5,304.8 L104.0,302.3 L105.5,300.5 L107.0,296.6 L108.5,294.5 L110.0,292.1 L111.5,288.8 L113.0,286.2 L114.5,282.4 L116.0,279.8 L117.5,276.9 L119.0,274.3 L120.5,270.3 L122.0,267.4 L123.5,263.4 L125.0,260.1 L126.5,257.3 L128.0,253.5 L129.5,250.5 L131.0,246.7 L132.5,243.9 L134.0,240.5 L135.5,235.6 L137.0,233.4 L138.5,229.3 L140.0,225.9 L141.5,222.1 L143.0,219.1 L144.5,214.8 L146.0,211.6 L147.5,208.2 L149.0,205.3 L150.5,202.2 L152.0,198.8 L153.5,195.3 L155.0,191.6 L156.5,187.9 L158.0,185.6 L159.5,182.3 L161.0,179.3 L162.5,176.7 L164.0,172.9 L165.5,169.8 L167.0,165.9 L168.5,164.2 L170.0,161.0 L171.5,157.8 L173.0,155.5 L174.5,152.1 L176.0,149.5 L177.5,148.0 L179.0,144.8 L180.5,142.2 L182.0,139.6 L183.5,137.0 L185.0,134.4 L186.5,132.9 L188.0,129.5 L189.5,127.6 L191.0,124.8 L192.5,122.5 L194.0,119.3 L195.5,117.4 L197.0,116.8 L198.5,114.7 L200.0,111.8 L201.5,110.1 L203.0,108.5 L204.5,105.9 L206.0,105.4 L207.5,102.4 L209.0,101.0 L210.5,98.5 L212.0,98.9 L213.5,96.8 L215.0,96.2 L216.5,93.7 L218.0,93.1 L219.5,91.9 L221.0,90.8 L222.5,90.7 L224.0,89.9 L225.5,88.6 L227.0,87.1 L228.5,87.0 L230.0,86.6 L231.5,85.7 L233.0,85.2 L234.5,84.8 L236.0,83.9 L237.5,84.3 L239.0,84.8 L240.5,83.6 L242.0,84.3 L243.5,84.9 L245.0,84.3 L246.5,85.3 L248.0,85.2 L249.5,86.3 L251.0,86.7 L252.5,87.7 L254.0,88.8 L255.5,89.8 L257.0,90.9 L258.5,91.0 L260.0,94.0 L261.5,94.4 L263.0,95.4 L264.5,97.0 L266.0,98.9 L267.5,99.8 L269.0,101.7 L270.5,103.3 L272.0,105.4 L273.5,106.6 L275.0,109.0 L276.5,110.8 L278.0,112.5 L279.5,115.0 L281.0,116.5 L282.5,118.0 L284.0,120.7 L285.5,122.8 L287.0,124.8 L288.5,127.1 L290.0,130.3 L291.5,131.6 L293.0,134.0 L294.5,136.0 L296.0,139.0 L297.5,140.7 L299.0,142.7 L300.5,144.9 L302.0,148.0 L303.5,150.5 L305.0,151.8 L306.5,154.5 L308.0,157.5 L309.5,160.0 L311.0,161.4 L312.5,164.1 L314.0,167.0 L315.5,168.8 L317.0,171.2 L318.5,173.5 L320.0,175.4 L321.5,178.3 L323.0,180.7 L324.5,182.2 L326.0,185.2 L327.5,187.8 L329.0,189.6 L330.5,192.2 L332.0,193.7 L333.5,196.7 L335.0,197.9 L336.5,201.2 L338.0,202.3 L339.5,204.3 L341.0,206.4 L342.5,208.7 L344.0,210.9 L345.5,212.9 L347.0,215.2 L348.5,217.9 L350.0,220.2 L351.5,221.8 L353.0,224.8 L354.5,226.0 L356.0,228.3 L357.5,230.5 L359.0,233.5 L360.5,234.7 L362.0,237.0 L363.5,240.3 L365.0,242.6 L366.5,244.5 L368.0,245.3 L369.5,247.9 L371.0,250.2 L372.5,251.7 L374.0,252.8 L375.5,255.1 L377.0,256.2 L378.5,258.1 L380.0,261.3 L381.5,262.2 L383.0,262.8 L384.5,264.3 L386.0,266.7 L387.5,267.6 L389.0,269.6 L390.5,270.4 L392.0,272.0 L393.5,273.5 L395.0,274.2 L396.5,275.1 L398.0,276.7 L399.5,278.2 L401.0,279.6 L402.5,280.9 L404.0,282.1 L405.5,283.5 L407.0,284.1 L408.5,286.3 L410.0,287.7 L411.5,288.1 L413.0,289.1 L414.5,290.7 L416.0,291.5 L417.5,292.4 L419.0,293.3 L420.5,294.1 L422.0,294.9 L423.5,296.7 L425.0,298.0 L426.5,298.0 L428.0,299.4 L429.5,300.5 L431.0,301.2 L432.5,302.0 L434.0,303.1 L435.5,303.3 L437.0,305.1 L438.5,305.9 L440.0,307.8 L441.5,308.2 L443.0,308.5 L444.5,309.5 L446.0,311.1 L447.5,311.9 L449.0,312.1 L450.5,312.8 L452.0,313.0 L453.5,314.3 L455.0,315.1 L456.5,315.6 L458.0,317.5 L459.5,316.6 L461.0,318.1 L462.5,319.1 L464.0,319.8 L465.5,321.1 L467.0,320.4 L468.5,321.4 L470.0,322.4 L471.5,323.1 L473.0,323.6 L474.5,324.0 L476.0,325.5 L477.5,325.2 L479.0,326.0 L480.5,327.5 L482.0,328.2 L483.5,328.5 L485.0,328.3 L486.5,328.8 L488.0,329.4 L489.5,329.8 L491.0,330.7 L492.5,332.0 L494.0,332.1 L495.5,332.1 L497.0,332.6 L498.5,333.0 L500.0,334.5 L501.5,333.6 L503.0,335.1 L504.5,334.8 L506.0,335.4 L507.5,335.7 L509.0,337.2 L510.5,337.2 L512.0,338.9 L513.5,337.6 L515.0,338.0 L516.5,339.2 L518.0,339.6 L519.5,339.6 L521.0,339.2 L522.5,341.2 L524.0,341.2 L525.5,341.5 L527.0,341.4 L528.5,342.3 L530.0,342.1 L531.5,342.7 L533.0,343.0 L534.5,343.9 L536.0,343.5 L537.5,343.9 L539.0,344.8 L540.5,344.8 L542.0,345.0 L543.5,345.2 L545.0,346.0 L546.5,345.5 L548.0,346.3 L549.5,347.3 L551.0,346.9 L552.5,346.6 L554.0,346.7 L555.5,347.5 L557.0,347.2 L558.5,347.2 L560.0,347.9 L561.5,347.9 L563.0,349.1 L564.5,348.3 L566.0,349.8 L567.5,349.0 L569.0,349.6 L570.5,350.1 L572.0,350.1 L573.5,350.5 L575.0,350.0 L576.5,349.6 L578.0,350.7 L579.5,350.2 L581.0,350.9 L582.5,351.8 L584.0,351.4 L585.5,351.4 L587.0,351.4 L588.5,351.9 L590.0,352.1 L591.5,351.7 L593.0,352.7 L594.5,352.2 L596.0,353.0 L597.5,352.8 L599.0,353.6 L600.5,353.7 L602.0,353.5 L603.5,353.6 L605.0,354.0 L606.5,354.5 L608.0,354.5 L609.5,354.3 L611.0,354.5 L612.5,355.2 L614.0,353.9 L615.5,355.0 L617.0,354.5 L618.5,355.6 L620.0,354.9 L621.5,355.2 L623.0,354.9 L624.5,355.5 L626.0,356.0 L627.5,356.5 L629.0,355.3 L630.5,355.8 L632.0,357.9 L633.5,356.7 L635.0,356.4 L636.5,356.7 L638.0,355.4 L639.5,357.5 L641.0,356.9 L642.5,356.3 L644.0,357.6 L645.5,356.9 L647.0,356.9 L648.5,357.7 L650.0,357.8 L651.5,357.5 L653.0,357.8 L654.5,357.4 L656.0,357.4 L657.5,358.6 L659.0,358.9 L660.5,358.7 L662.0,358.8 L663.5,358.6 L665.0,358.8 L666.5,358.6 L668.0,359.9 L669.5,359.0 L671.0,359.6 L672.5,359.6 L674.0,359.1 L675.5,360.7 L677.0,359.8 L678.5,359.8 L680.0,360.4 L681.0,360.0" stroke="#B8763E" stroke-width="4.6" stroke-opacity="0.35"/><path d="M83.0,328.0 L84.5,327.7 L86.0,327.2 L87.5,325.9 L89.0,322.6 L90.5,321.8 L92.0,320.2 L93.5,318.1 L95.0,316.7 L96.5,314.6 L98.0,312.1 L99.5,310.1 L101.0,307.0 L102.5,304.8 L104.0,302.3 L105.5,300.5 L107.0,296.6 L108.5,294.5 L110.0,292.1 L111.5,288.8 L113.0,286.2 L114.5,282.4 L116.0,279.8 L117.5,276.9 L119.0,274.3 L120.5,270.3 L122.0,267.4 L123.5,263.4 L125.0,260.1 L126.5,257.3 L128.0,253.5 L129.5,250.5 L131.0,246.7 L132.5,243.9 L134.0,240.5 L135.5,235.6 L137.0,233.4 L138.5,229.3 L140.0,225.9 L141.5,222.1 L143.0,219.1 L144.5,214.8 L146.0,211.6 L147.5,208.2 L149.0,205.3 L150.5,202.2 L152.0,198.8 L153.5,195.3 L155.0,191.6 L156.5,187.9 L158.0,185.6 L159.5,182.3 L161.0,179.3 L162.5,176.7 L164.0,172.9 L165.5,169.8 L167.0,165.9 L168.5,164.2 L170.0,161.0 L171.5,157.8 L173.0,155.5 L174.5,152.1 L176.0,149.5 L177.5,148.0 L179.0,144.8 L180.5,142.2 L182.0,139.6 L183.5,137.0 L185.0,134.4 L186.5,132.9 L188.0,129.5 L189.5,127.6 L191.0,124.8 L192.5,122.5 L194.0,119.3 L195.5,117.4 L197.0,116.8 L198.5,114.7 L200.0,111.8 L201.5,110.1 L203.0,108.5 L204.5,105.9 L206.0,105.4 L207.5,102.4 L209.0,101.0 L210.5,98.5 L212.0,98.9 L213.5,96.8 L215.0,96.2 L216.5,93.7 L218.0,93.1 L219.5,91.9 L221.0,90.8 L222.5,90.7 L224.0,89.9 L225.5,88.6 L227.0,87.1 L228.5,87.0 L230.0,86.6 L231.5,85.7 L233.0,85.2 L234.5,84.8 L236.0,83.9 L237.5,84.3 L239.0,84.8 L240.5,83.6 L242.0,84.3 L243.5,84.9 L245.0,84.3 L246.5,85.3 L248.0,85.2 L249.5,86.3 L251.0,86.7 L252.5,87.7 L254.0,88.8 L255.5,89.8 L257.0,90.9 L258.5,91.0 L260.0,94.0 L261.5,94.4 L263.0,95.4 L264.5,97.0 L266.0,98.9 L267.5,99.8 L269.0,101.7 L270.5,103.3 L272.0,105.4 L273.5,106.6 L275.0,109.0 L276.5,110.8 L278.0,112.5 L279.5,115.0 L281.0,116.5 L282.5,118.0 L284.0,120.7 L285.5,122.8 L287.0,124.8 L288.5,127.1 L290.0,130.3 L291.5,131.6 L293.0,134.0 L294.5,136.0 L296.0,139.0 L297.5,140.7 L299.0,142.7 L300.5,144.9 L302.0,148.0 L303.5,150.5 L305.0,151.8 L306.5,154.5 L308.0,157.5 L309.5,160.0 L311.0,161.4 L312.5,164.1 L314.0,167.0 L315.5,168.8 L317.0,171.2 L318.5,173.5 L320.0,175.4 L321.5,178.3 L323.0,180.7 L324.5,182.2 L326.0,185.2 L327.5,187.8 L329.0,189.6 L330.5,192.2 L332.0,193.7 L333.5,196.7 L335.0,197.9 L336.5,201.2 L338.0,202.3 L339.5,204.3 L341.0,206.4 L342.5,208.7 L344.0,210.9 L345.5,212.9 L347.0,215.2 L348.5,217.9 L350.0,220.2 L351.5,221.8 L353.0,224.8 L354.5,226.0 L356.0,228.3 L357.5,230.5 L359.0,233.5 L360.5,234.7 L362.0,237.0 L363.5,240.3 L365.0,242.6 L366.5,244.5 L368.0,245.3 L369.5,247.9 L371.0,250.2 L372.5,251.7 L374.0,252.8 L375.5,255.1 L377.0,256.2 L378.5,258.1 L380.0,261.3 L381.5,262.2 L383.0,262.8 L384.5,264.3 L386.0,266.7 L387.5,267.6 L389.0,269.6 L390.5,270.4 L392.0,272.0 L393.5,273.5 L395.0,274.2 L396.5,275.1 L398.0,276.7 L399.5,278.2 L401.0,279.6 L402.5,280.9 L404.0,282.1 L405.5,283.5 L407.0,284.1 L408.5,286.3 L410.0,287.7 L411.5,288.1 L413.0,289.1 L414.5,290.7 L416.0,291.5 L417.5,292.4 L419.0,293.3 L420.5,294.1 L422.0,294.9 L423.5,296.7 L425.0,298.0 L426.5,298.0 L428.0,299.4 L429.5,300.5 L431.0,301.2 L432.5,302.0 L434.0,303.1 L435.5,303.3 L437.0,305.1 L438.5,305.9 L440.0,307.8 L441.5,308.2 L443.0,308.5 L444.5,309.5 L446.0,311.1 L447.5,311.9 L449.0,312.1 L450.5,312.8 L452.0,313.0 L453.5,314.3 L455.0,315.1 L456.5,315.6 L458.0,317.5 L459.5,316.6 L461.0,318.1 L462.5,319.1 L464.0,319.8 L465.5,321.1 L467.0,320.4 L468.5,321.4 L470.0,322.4 L471.5,323.1 L473.0,323.6 L474.5,324.0 L476.0,325.5 L477.5,325.2 L479.0,326.0 L480.5,327.5 L482.0,328.2 L483.5,328.5 L485.0,328.3 L486.5,328.8 L488.0,329.4 L489.5,329.8 L491.0,330.7 L492.5,332.0 L494.0,332.1 L495.5,332.1 L497.0,332.6 L498.5,333.0 L500.0,334.5 L501.5,333.6 L503.0,335.1 L504.5,334.8 L506.0,335.4 L507.5,335.7 L509.0,337.2 L510.5,337.2 L512.0,338.9 L513.5,337.6 L515.0,338.0 L516.5,339.2 L518.0,339.6 L519.5,339.6 L521.0,339.2 L522.5,341.2 L524.0,341.2 L525.5,341.5 L527.0,341.4 L528.5,342.3 L530.0,342.1 L531.5,342.7 L533.0,343.0 L534.5,343.9 L536.0,343.5 L537.5,343.9 L539.0,344.8 L540.5,344.8 L542.0,345.0 L543.5,345.2 L545.0,346.0 L546.5,345.5 L548.0,346.3 L549.5,347.3 L551.0,346.9 L552.5,346.6 L554.0,346.7 L555.5,347.5 L557.0,347.2 L558.5,347.2 L560.0,347.9 L561.5,347.9 L563.0,349.1 L564.5,348.3 L566.0,349.8 L567.5,349.0 L569.0,349.6 L570.5,350.1 L572.0,350.1 L573.5,350.5 L575.0,350.0 L576.5,349.6 L578.0,350.7 L579.5,350.2 L581.0,350.9 L582.5,351.8 L584.0,351.4 L585.5,351.4 L587.0,351.4 L588.5,351.9 L590.0,352.1 L591.5,351.7 L593.0,352.7 L594.5,352.2 L596.0,353.0 L597.5,352.8 L599.0,353.6 L600.5,353.7 L602.0,353.5 L603.5,353.6 L605.0,354.0 L606.5,354.5 L608.0,354.5 L609.5,354.3 L611.0,354.5 L612.5,355.2 L614.0,353.9 L615.5,355.0 L617.0,354.5 L618.5,355.6 L620.0,354.9 L621.5,355.2 L623.0,354.9 L624.5,355.5 L626.0,356.0 L627.5,356.5 L629.0,355.3 L630.5,355.8 L632.0,357.9 L633.5,356.7 L635.0,356.4 L636.5,356.7 L638.0,355.4 L639.5,357.5 L641.0,356.9 L642.5,356.3 L644.0,357.6 L645.5,356.9 L647.0,356.9 L648.5,357.7 L650.0,357.8 L651.5,357.5 L653.0,357.8 L654.5,357.4 L656.0,357.4 L657.5,358.6 L659.0,358.9 L660.5,358.7 L662.0,358.8 L663.5,358.6 L665.0,358.8 L666.5,358.6 L668.0,359.9 L669.5,359.0 L671.0,359.6 L672.5,359.6 L674.0,359.1 L675.5,360.7 L677.0,359.8 L678.5,359.8 L680.0,360.4 L681.0,360.0" stroke="#B8763E"/><path d="M83.0,329.9 L84.5,328.5 L86.0,328.0 L87.5,326.6 L89.0,324.5 L90.5,324.1 L92.0,322.1 L93.5,319.8 L95.0,318.6 L96.5,316.7 L98.0,315.2 L99.5,311.8 L101.0,310.3 L102.5,307.6 L104.0,305.4 L105.5,302.5 L107.0,300.0 L108.5,297.6 L110.0,294.1 L111.5,290.9 L113.0,288.9 L114.5,285.8 L116.0,283.0 L117.5,280.3 L119.0,276.8 L120.5,274.3 L122.0,270.6 L123.5,267.5 L125.0,264.6 L126.5,261.2 L128.0,257.7 L129.5,254.5 L131.0,250.8 L132.5,247.5 L134.0,244.6 L135.5,241.6 L137.0,237.7 L138.5,235.0 L140.0,232.2 L141.5,229.0 L143.0,224.8 L144.5,222.0 L146.0,218.5 L147.5,215.4 L149.0,212.2 L150.5,208.9 L152.0,205.8 L153.5,202.4 L155.0,199.1 L156.5,196.2 L158.0,193.2 L159.5,190.5 L161.0,187.2 L162.5,184.4 L164.0,181.7 L165.5,177.8 L167.0,175.2 L168.5,172.7 L170.0,169.7 L171.5,166.5 L173.0,164.7 L174.5,161.5 L176.0,158.5 L177.5,157.2 L179.0,153.2 L180.5,151.3 L182.0,148.6 L183.5,146.5 L185.0,144.4 L186.5,141.5 L188.0,139.5 L189.5,137.3 L191.0,134.8 L192.5,133.7 L194.0,131.2 L195.5,128.9 L197.0,126.8 L198.5,125.1 L200.0,123.5 L201.5,121.4 L203.0,120.5 L204.5,117.1 L206.0,115.7 L207.5,115.1 L209.0,112.9 L210.5,112.3 L212.0,110.7 L213.5,110.0 L215.0,108.8 L216.5,108.1 L218.0,106.8 L219.5,106.0 L221.0,104.8 L222.5,104.2 L224.0,103.2 L225.5,102.0 L227.0,101.1 L228.5,100.6 L230.0,100.9 L231.5,99.2 L233.0,100.0 L234.5,99.4 L236.0,99.9 L237.5,99.6 L239.0,99.1 L240.5,99.6 L242.0,98.6 L243.5,100.0 L245.0,100.3 L246.5,99.7 L248.0,101.3 L249.5,101.4 L251.0,102.2 L252.5,102.1 L254.0,103.8 L255.5,104.6 L257.0,105.2 L258.5,105.8 L260.0,107.6 L261.5,108.9 L263.0,109.7 L264.5,111.2 L266.0,111.8 L267.5,113.5 L269.0,115.0 L270.5,116.4 L272.0,119.1 L273.5,119.6 L275.0,120.8 L276.5,123.1 L278.0,123.9 L279.5,126.3 L281.0,128.3 L282.5,129.6 L284.0,131.6 L285.5,133.2 L287.0,135.7 L288.5,137.3 L290.0,140.4 L291.5,142.0 L293.0,143.7 L294.5,145.2 L296.0,148.9 L297.5,150.7 L299.0,152.5 L300.5,154.6 L302.0,156.8 L303.5,158.8 L305.0,162.1 L306.5,163.6 L308.0,165.1 L309.5,167.8 L311.0,169.2 L312.5,172.9 L314.0,175.2 L315.5,178.0 L317.0,180.4 L318.5,181.3 L320.0,184.1 L321.5,186.6 L323.0,188.7 L324.5,190.4 L326.0,193.1 L327.5,195.2 L329.0,197.7 L330.5,199.2 L332.0,201.3 L333.5,203.3 L335.0,205.4 L336.5,207.4 L338.0,209.7 L339.5,212.1 L341.0,214.2 L342.5,216.7 L344.0,218.7 L345.5,220.5 L347.0,221.8 L348.5,224.7 L350.0,227.0 L351.5,228.0 L353.0,230.2 L354.5,232.4 L356.0,234.5 L357.5,236.9 L359.0,238.7 L360.5,241.4 L362.0,242.7 L363.5,245.2 L365.0,247.0 L366.5,248.7 L368.0,251.5 L369.5,252.9 L371.0,254.9 L372.5,256.3 L374.0,258.4 L375.5,260.1 L377.0,261.3 L378.5,262.2 L380.0,264.9 L381.5,266.4 L383.0,267.6 L384.5,269.1 L386.0,270.4 L387.5,271.8 L389.0,272.6 L390.5,274.3 L392.0,275.8 L393.5,276.6 L395.0,277.7 L396.5,280.2 L398.0,280.8 L399.5,281.6 L401.0,282.7 L402.5,282.8 L404.0,284.5 L405.5,286.2 L407.0,287.9 L408.5,287.5 L410.0,289.2 L411.5,291.4 L413.0,291.9 L414.5,292.9 L416.0,294.2 L417.5,294.7 L419.0,295.6 L420.5,297.0 L422.0,298.1 L423.5,298.2 L425.0,300.3 L426.5,299.8 L428.0,301.2 L429.5,303.8 L431.0,303.1 L432.5,304.5 L434.0,304.6 L435.5,305.8 L437.0,306.5 L438.5,307.5 L440.0,308.8 L441.5,310.2 L443.0,310.6 L444.5,311.7 L446.0,311.6 L447.5,313.3 L449.0,313.6 L450.5,314.8 L452.0,314.7 L453.5,315.6 L455.0,317.0 L456.5,317.4 L458.0,317.9 L459.5,318.3 L461.0,319.2 L462.5,320.2 L464.0,321.0 L465.5,321.1 L467.0,321.8 L468.5,322.8 L470.0,322.8 L471.5,324.3 L473.0,324.5 L474.5,325.1 L476.0,324.7 L477.5,325.7 L479.0,326.5 L480.5,327.3 L482.0,327.6 L483.5,328.9 L485.0,329.3 L486.5,329.7 L488.0,329.4 L489.5,331.5 L491.0,331.3 L492.5,332.2 L494.0,332.1 L495.5,332.9 L497.0,333.7 L498.5,334.0 L500.0,334.8 L501.5,334.8 L503.0,336.2 L504.5,334.9 L506.0,336.0 L507.5,337.1 L509.0,337.0 L510.5,337.4 L512.0,337.2 L513.5,338.9 L515.0,338.0 L516.5,339.4 L518.0,339.7 L519.5,340.4 L521.0,341.0 L522.5,340.4 L524.0,340.8 L525.5,341.3 L527.0,341.1 L528.5,342.6 L530.0,342.4 L531.5,343.0 L533.0,342.7 L534.5,343.5 L536.0,343.6 L537.5,344.1 L539.0,344.0 L540.5,345.3 L542.0,344.8 L543.5,344.2 L545.0,346.0 L546.5,345.8 L548.0,345.8 L549.5,347.6 L551.0,346.8 L552.5,346.5 L554.0,347.0 L555.5,347.7 L557.0,347.7 L558.5,348.6 L560.0,348.8 L561.5,348.2 L563.0,348.8 L564.5,349.3 L566.0,349.1 L567.5,349.3 L569.0,350.1 L570.5,350.1 L572.0,349.5 L573.5,350.1 L575.0,350.3 L576.5,350.7 L578.0,350.6 L579.5,351.7 L581.0,350.9 L582.5,351.0 L584.0,351.8 L585.5,350.8 L587.0,351.6 L588.5,352.5 L590.0,351.8 L591.5,352.2 L593.0,353.2 L594.5,353.1 L596.0,353.1 L597.5,353.3 L599.0,353.0 L600.5,353.6 L602.0,353.6 L603.5,354.9 L605.0,354.2 L606.5,353.9 L608.0,354.2 L609.5,354.4 L611.0,353.9 L612.5,354.3 L614.0,355.5 L615.5,354.3 L617.0,354.8 L618.5,355.7 L620.0,356.0 L621.5,355.0 L623.0,356.3 L624.5,355.6 L626.0,356.6 L627.5,356.2 L629.0,356.0 L630.5,356.6 L632.0,356.6 L633.5,356.1 L635.0,357.6 L636.5,356.6 L638.0,357.4 L639.5,356.8 L641.0,356.3 L642.5,356.7 L644.0,357.3 L645.5,357.8 L647.0,358.4 L648.5,357.7 L650.0,357.7 L651.5,357.4 L653.0,358.1 L654.5,358.3 L656.0,357.3 L657.5,359.0 L659.0,359.1 L660.5,359.7 L662.0,358.4 L663.5,359.0 L665.0,359.1 L666.5,358.6 L668.0,359.0 L669.5,359.1 L671.0,359.9 L672.5,360.0 L674.0,360.5 L675.5,359.9 L677.0,359.6 L678.5,360.5 L680.0,360.6 L681.0,360.9" stroke="#03640F" stroke-width="4.6" stroke-opacity="0.35"/><path d="M83.0,329.9 L84.5,328.5 L86.0,328.0 L87.5,326.6 L89.0,324.5 L90.5,324.1 L92.0,322.1 L93.5,319.8 L95.0,318.6 L96.5,316.7 L98.0,315.2 L99.5,311.8 L101.0,310.3 L102.5,307.6 L104.0,305.4 L105.5,302.5 L107.0,300.0 L108.5,297.6 L110.0,294.1 L111.5,290.9 L113.0,288.9 L114.5,285.8 L116.0,283.0 L117.5,280.3 L119.0,276.8 L120.5,274.3 L122.0,270.6 L123.5,267.5 L125.0,264.6 L126.5,261.2 L128.0,257.7 L129.5,254.5 L131.0,250.8 L132.5,247.5 L134.0,244.6 L135.5,241.6 L137.0,237.7 L138.5,235.0 L140.0,232.2 L141.5,229.0 L143.0,224.8 L144.5,222.0 L146.0,218.5 L147.5,215.4 L149.0,212.2 L150.5,208.9 L152.0,205.8 L153.5,202.4 L155.0,199.1 L156.5,196.2 L158.0,193.2 L159.5,190.5 L161.0,187.2 L162.5,184.4 L164.0,181.7 L165.5,177.8 L167.0,175.2 L168.5,172.7 L170.0,169.7 L171.5,166.5 L173.0,164.7 L174.5,161.5 L176.0,158.5 L177.5,157.2 L179.0,153.2 L180.5,151.3 L182.0,148.6 L183.5,146.5 L185.0,144.4 L186.5,141.5 L188.0,139.5 L189.5,137.3 L191.0,134.8 L192.5,133.7 L194.0,131.2 L195.5,128.9 L197.0,126.8 L198.5,125.1 L200.0,123.5 L201.5,121.4 L203.0,120.5 L204.5,117.1 L206.0,115.7 L207.5,115.1 L209.0,112.9 L210.5,112.3 L212.0,110.7 L213.5,110.0 L215.0,108.8 L216.5,108.1 L218.0,106.8 L219.5,106.0 L221.0,104.8 L222.5,104.2 L224.0,103.2 L225.5,102.0 L227.0,101.1 L228.5,100.6 L230.0,100.9 L231.5,99.2 L233.0,100.0 L234.5,99.4 L236.0,99.9 L237.5,99.6 L239.0,99.1 L240.5,99.6 L242.0,98.6 L243.5,100.0 L245.0,100.3 L246.5,99.7 L248.0,101.3 L249.5,101.4 L251.0,102.2 L252.5,102.1 L254.0,103.8 L255.5,104.6 L257.0,105.2 L258.5,105.8 L260.0,107.6 L261.5,108.9 L263.0,109.7 L264.5,111.2 L266.0,111.8 L267.5,113.5 L269.0,115.0 L270.5,116.4 L272.0,119.1 L273.5,119.6 L275.0,120.8 L276.5,123.1 L278.0,123.9 L279.5,126.3 L281.0,128.3 L282.5,129.6 L284.0,131.6 L285.5,133.2 L287.0,135.7 L288.5,137.3 L290.0,140.4 L291.5,142.0 L293.0,143.7 L294.5,145.2 L296.0,148.9 L297.5,150.7 L299.0,152.5 L300.5,154.6 L302.0,156.8 L303.5,158.8 L305.0,162.1 L306.5,163.6 L308.0,165.1 L309.5,167.8 L311.0,169.2 L312.5,172.9 L314.0,175.2 L315.5,178.0 L317.0,180.4 L318.5,181.3 L320.0,184.1 L321.5,186.6 L323.0,188.7 L324.5,190.4 L326.0,193.1 L327.5,195.2 L329.0,197.7 L330.5,199.2 L332.0,201.3 L333.5,203.3 L335.0,205.4 L336.5,207.4 L338.0,209.7 L339.5,212.1 L341.0,214.2 L342.5,216.7 L344.0,218.7 L345.5,220.5 L347.0,221.8 L348.5,224.7 L350.0,227.0 L351.5,228.0 L353.0,230.2 L354.5,232.4 L356.0,234.5 L357.5,236.9 L359.0,238.7 L360.5,241.4 L362.0,242.7 L363.5,245.2 L365.0,247.0 L366.5,248.7 L368.0,251.5 L369.5,252.9 L371.0,254.9 L372.5,256.3 L374.0,258.4 L375.5,260.1 L377.0,261.3 L378.5,262.2 L380.0,264.9 L381.5,266.4 L383.0,267.6 L384.5,269.1 L386.0,270.4 L387.5,271.8 L389.0,272.6 L390.5,274.3 L392.0,275.8 L393.5,276.6 L395.0,277.7 L396.5,280.2 L398.0,280.8 L399.5,281.6 L401.0,282.7 L402.5,282.8 L404.0,284.5 L405.5,286.2 L407.0,287.9 L408.5,287.5 L410.0,289.2 L411.5,291.4 L413.0,291.9 L414.5,292.9 L416.0,294.2 L417.5,294.7 L419.0,295.6 L420.5,297.0 L422.0,298.1 L423.5,298.2 L425.0,300.3 L426.5,299.8 L428.0,301.2 L429.5,303.8 L431.0,303.1 L432.5,304.5 L434.0,304.6 L435.5,305.8 L437.0,306.5 L438.5,307.5 L440.0,308.8 L441.5,310.2 L443.0,310.6 L444.5,311.7 L446.0,311.6 L447.5,313.3 L449.0,313.6 L450.5,314.8 L452.0,314.7 L453.5,315.6 L455.0,317.0 L456.5,317.4 L458.0,317.9 L459.5,318.3 L461.0,319.2 L462.5,320.2 L464.0,321.0 L465.5,321.1 L467.0,321.8 L468.5,322.8 L470.0,322.8 L471.5,324.3 L473.0,324.5 L474.5,325.1 L476.0,324.7 L477.5,325.7 L479.0,326.5 L480.5,327.3 L482.0,327.6 L483.5,328.9 L485.0,329.3 L486.5,329.7 L488.0,329.4 L489.5,331.5 L491.0,331.3 L492.5,332.2 L494.0,332.1 L495.5,332.9 L497.0,333.7 L498.5,334.0 L500.0,334.8 L501.5,334.8 L503.0,336.2 L504.5,334.9 L506.0,336.0 L507.5,337.1 L509.0,337.0 L510.5,337.4 L512.0,337.2 L513.5,338.9 L515.0,338.0 L516.5,339.4 L518.0,339.7 L519.5,340.4 L521.0,341.0 L522.5,340.4 L524.0,340.8 L525.5,341.3 L527.0,341.1 L528.5,342.6 L530.0,342.4 L531.5,343.0 L533.0,342.7 L534.5,343.5 L536.0,343.6 L537.5,344.1 L539.0,344.0 L540.5,345.3 L542.0,344.8 L543.5,344.2 L545.0,346.0 L546.5,345.8 L548.0,345.8 L549.5,347.6 L551.0,346.8 L552.5,346.5 L554.0,347.0 L555.5,347.7 L557.0,347.7 L558.5,348.6 L560.0,348.8 L561.5,348.2 L563.0,348.8 L564.5,349.3 L566.0,349.1 L567.5,349.3 L569.0,350.1 L570.5,350.1 L572.0,349.5 L573.5,350.1 L575.0,350.3 L576.5,350.7 L578.0,350.6 L579.5,351.7 L581.0,350.9 L582.5,351.0 L584.0,351.8 L585.5,350.8 L587.0,351.6 L588.5,352.5 L590.0,351.8 L591.5,352.2 L593.0,353.2 L594.5,353.1 L596.0,353.1 L597.5,353.3 L599.0,353.0 L600.5,353.6 L602.0,353.6 L603.5,354.9 L605.0,354.2 L606.5,353.9 L608.0,354.2 L609.5,354.4 L611.0,353.9 L612.5,354.3 L614.0,355.5 L615.5,354.3 L617.0,354.8 L618.5,355.7 L620.0,356.0 L621.5,355.0 L623.0,356.3 L624.5,355.6 L626.0,356.6 L627.5,356.2 L629.0,356.0 L630.5,356.6 L632.0,356.6 L633.5,356.1 L635.0,357.6 L636.5,356.6 L638.0,357.4 L639.5,356.8 L641.0,356.3 L642.5,356.7 L644.0,357.3 L645.5,357.8 L647.0,358.4 L648.5,357.7 L650.0,357.7 L651.5,357.4 L653.0,358.1 L654.5,358.3 L656.0,357.3 L657.5,359.0 L659.0,359.1 L660.5,359.7 L662.0,358.4 L663.5,359.0 L665.0,359.1 L666.5,358.6 L668.0,359.0 L669.5,359.1 L671.0,359.9 L672.5,360.0 L674.0,360.5 L675.5,359.9 L677.0,359.6 L678.5,360.5 L680.0,360.6 L681.0,360.9" stroke="#03640F"/><path d="M83.0,331.5 L84.5,329.8 L86.0,329.4 L87.5,327.4 L89.0,326.7 L90.5,325.5 L92.0,323.6 L93.5,322.1 L95.0,319.6 L96.5,318.1 L98.0,316.5 L99.5,313.8 L101.0,311.8 L102.5,311.0 L104.0,307.7 L105.5,304.8 L107.0,302.2 L108.5,300.7 L110.0,296.2 L111.5,294.6 L113.0,292.3 L114.5,288.9 L116.0,286.6 L117.5,282.9 L119.0,280.5 L120.5,277.5 L122.0,274.4 L123.5,271.4 L125.0,268.3 L126.5,265.7 L128.0,262.0 L129.5,258.7 L131.0,255.7 L132.5,252.5 L134.0,248.8 L135.5,245.5 L137.0,242.6 L138.5,240.2 L140.0,236.6 L141.5,233.6 L143.0,232.0 L144.5,228.1 L146.0,224.4 L147.5,221.1 L149.0,219.0 L150.5,215.0 L152.0,212.9 L153.5,209.6 L155.0,207.0 L156.5,203.1 L158.0,200.9 L159.5,196.8 L161.0,194.7 L162.5,192.4 L164.0,189.4 L165.5,185.5 L167.0,183.9 L168.5,181.1 L170.0,178.2 L171.5,175.3 L173.0,172.9 L174.5,170.3 L176.0,168.4 L177.5,165.8 L179.0,163.6 L180.5,161.1 L182.0,157.8 L183.5,156.2 L185.0,154.9 L186.5,151.2 L188.0,149.7 L189.5,147.1 L191.0,145.0 L192.5,143.4 L194.0,141.7 L195.5,139.7 L197.0,137.6 L198.5,136.0 L200.0,133.0 L201.5,132.4 L203.0,130.5 L204.5,128.6 L206.0,127.1 L207.5,125.2 L209.0,124.7 L210.5,122.5 L212.0,120.8 L213.5,120.2 L215.0,118.8 L216.5,117.9 L218.0,117.6 L219.5,115.9 L221.0,115.1 L222.5,115.2 L224.0,112.8 L225.5,112.8 L227.0,112.6 L228.5,112.2 L230.0,112.0 L231.5,110.3 L233.0,110.5 L234.5,109.9 L236.0,109.5 L237.5,109.3 L239.0,108.9 L240.5,109.7 L242.0,110.1 L243.5,109.6 L245.0,110.8 L246.5,110.6 L248.0,110.9 L249.5,110.8 L251.0,113.1 L252.5,113.7 L254.0,114.0 L255.5,114.9 L257.0,115.4 L258.5,117.2 L260.0,118.0 L261.5,119.4 L263.0,120.5 L264.5,121.0 L266.0,122.2 L267.5,124.5 L269.0,124.9 L270.5,127.3 L272.0,129.1 L273.5,129.7 L275.0,132.1 L276.5,133.5 L278.0,135.4 L279.5,136.6 L281.0,138.7 L282.5,140.7 L284.0,143.2 L285.5,144.5 L287.0,146.3 L288.5,147.5 L290.0,150.2 L291.5,151.7 L293.0,154.0 L294.5,156.2 L296.0,158.6 L297.5,160.5 L299.0,162.4 L300.5,164.4 L302.0,167.1 L303.5,168.1 L305.0,170.6 L306.5,173.3 L308.0,174.7 L309.5,177.3 L311.0,179.4 L312.5,182.1 L314.0,183.8 L315.5,184.7 L317.0,187.5 L318.5,189.8 L320.0,192.1 L321.5,194.1 L323.0,196.8 L324.5,198.6 L326.0,199.6 L327.5,201.9 L329.0,203.3 L330.5,207.1 L332.0,208.3 L333.5,210.3 L335.0,211.7 L336.5,214.2 L338.0,216.6 L339.5,218.2 L341.0,220.2 L342.5,222.1 L344.0,225.3 L345.5,226.1 L347.0,227.6 L348.5,230.0 L350.0,232.1 L351.5,234.2 L353.0,236.1 L354.5,237.7 L356.0,240.1 L357.5,242.4 L359.0,243.5 L360.5,247.0 L362.0,248.7 L363.5,249.0 L365.0,251.5 L366.5,254.0 L368.0,255.9 L369.5,257.8 L371.0,257.9 L372.5,259.8 L374.0,261.7 L375.5,263.8 L377.0,264.6 L378.5,266.8 L380.0,268.3 L381.5,269.8 L383.0,270.3 L384.5,272.4 L386.0,273.6 L387.5,274.7 L389.0,276.8 L390.5,277.3 L392.0,279.3 L393.5,279.6 L395.0,281.8 L396.5,282.9 L398.0,282.9 L399.5,284.6 L401.0,285.6 L402.5,286.1 L404.0,288.0 L405.5,289.0 L407.0,289.4 L408.5,290.8 L410.0,292.2 L411.5,292.7 L413.0,293.5 L414.5,295.5 L416.0,295.3 L417.5,296.9 L419.0,298.2 L420.5,299.0 L422.0,298.7 L423.5,300.3 L425.0,301.3 L426.5,302.2 L428.0,303.4 L429.5,304.3 L431.0,305.0 L432.5,305.9 L434.0,307.1 L435.5,308.0 L437.0,307.4 L438.5,310.1 L440.0,309.6 L441.5,311.0 L443.0,310.7 L444.5,312.0 L446.0,312.4 L447.5,314.3 L449.0,314.9 L450.5,315.2 L452.0,315.9 L453.5,316.9 L455.0,317.0 L456.5,317.8 L458.0,318.4 L459.5,319.8 L461.0,320.2 L462.5,320.2 L464.0,321.6 L465.5,322.4 L467.0,323.4 L468.5,323.1 L470.0,324.2 L471.5,325.6 L473.0,325.1 L474.5,325.6 L476.0,326.6 L477.5,326.7 L479.0,327.5 L480.5,327.9 L482.0,328.3 L483.5,329.6 L485.0,329.6 L486.5,329.8 L488.0,330.7 L489.5,331.3 L491.0,332.0 L492.5,332.8 L494.0,333.6 L495.5,332.8 L497.0,333.7 L498.5,333.4 L500.0,334.8 L501.5,335.4 L503.0,335.3 L504.5,335.7 L506.0,336.1 L507.5,336.3 L509.0,337.7 L510.5,338.7 L512.0,337.7 L513.5,339.4 L515.0,339.0 L516.5,338.8 L518.0,340.0 L519.5,340.5 L521.0,340.7 L522.5,340.8 L524.0,342.0 L525.5,341.5 L527.0,342.3 L528.5,342.6 L530.0,342.3 L531.5,342.2 L533.0,342.5 L534.5,343.5 L536.0,344.1 L537.5,343.5 L539.0,344.3 L540.5,345.6 L542.0,344.4 L543.5,345.7 L545.0,345.9 L546.5,346.4 L548.0,345.7 L549.5,346.8 L551.0,346.2 L552.5,347.7 L554.0,347.0 L555.5,347.8 L557.0,347.5 L558.5,348.2 L560.0,347.7 L561.5,348.8 L563.0,349.1 L564.5,349.1 L566.0,350.0 L567.5,349.7 L569.0,350.1 L570.5,350.2 L572.0,351.0 L573.5,350.1 L575.0,350.5 L576.5,350.7 L578.0,351.3 L579.5,351.3 L581.0,351.8 L582.5,351.7 L584.0,351.5 L585.5,351.9 L587.0,352.3 L588.5,351.3 L590.0,353.1 L591.5,352.4 L593.0,352.7 L594.5,353.1 L596.0,353.0 L597.5,352.6 L599.0,353.4 L600.5,354.3 L602.0,354.3 L603.5,354.5 L605.0,353.8 L606.5,354.1 L608.0,354.9 L609.5,355.2 L611.0,354.7 L612.5,354.4 L614.0,354.1 L615.5,355.8 L617.0,354.5 L618.5,355.6 L620.0,355.9 L621.5,357.1 L623.0,355.9 L624.5,355.9 L626.0,356.3 L627.5,356.4 L629.0,356.9 L630.5,356.7 L632.0,356.2 L633.5,355.7 L635.0,356.9 L636.5,356.6 L638.0,357.7 L639.5,356.6 L641.0,357.4 L642.5,357.1 L644.0,357.1 L645.5,358.4 L647.0,357.9 L648.5,357.8 L650.0,358.4 L651.5,357.8 L653.0,358.1 L654.5,358.1 L656.0,359.5 L657.5,358.8 L659.0,359.1 L660.5,359.4 L662.0,359.0 L663.5,359.1 L665.0,358.5 L666.5,359.6 L668.0,359.7 L669.5,359.5 L671.0,360.4 L672.5,359.1 L674.0,360.3 L675.5,359.6 L677.0,359.8 L678.5,360.4 L680.0,361.3 L681.0,360.2" stroke="#A24A4A" stroke-width="4.6" stroke-opacity="0.35"/><path d="M83.0,331.5 L84.5,329.8 L86.0,329.4 L87.5,327.4 L89.0,326.7 L90.5,325.5 L92.0,323.6 L93.5,322.1 L95.0,319.6 L96.5,318.1 L98.0,316.5 L99.5,313.8 L101.0,311.8 L102.5,311.0 L104.0,307.7 L105.5,304.8 L107.0,302.2 L108.5,300.7 L110.0,296.2 L111.5,294.6 L113.0,292.3 L114.5,288.9 L116.0,286.6 L117.5,282.9 L119.0,280.5 L120.5,277.5 L122.0,274.4 L123.5,271.4 L125.0,268.3 L126.5,265.7 L128.0,262.0 L129.5,258.7 L131.0,255.7 L132.5,252.5 L134.0,248.8 L135.5,245.5 L137.0,242.6 L138.5,240.2 L140.0,236.6 L141.5,233.6 L143.0,232.0 L144.5,228.1 L146.0,224.4 L147.5,221.1 L149.0,219.0 L150.5,215.0 L152.0,212.9 L153.5,209.6 L155.0,207.0 L156.5,203.1 L158.0,200.9 L159.5,196.8 L161.0,194.7 L162.5,192.4 L164.0,189.4 L165.5,185.5 L167.0,183.9 L168.5,181.1 L170.0,178.2 L171.5,175.3 L173.0,172.9 L174.5,170.3 L176.0,168.4 L177.5,165.8 L179.0,163.6 L180.5,161.1 L182.0,157.8 L183.5,156.2 L185.0,154.9 L186.5,151.2 L188.0,149.7 L189.5,147.1 L191.0,145.0 L192.5,143.4 L194.0,141.7 L195.5,139.7 L197.0,137.6 L198.5,136.0 L200.0,133.0 L201.5,132.4 L203.0,130.5 L204.5,128.6 L206.0,127.1 L207.5,125.2 L209.0,124.7 L210.5,122.5 L212.0,120.8 L213.5,120.2 L215.0,118.8 L216.5,117.9 L218.0,117.6 L219.5,115.9 L221.0,115.1 L222.5,115.2 L224.0,112.8 L225.5,112.8 L227.0,112.6 L228.5,112.2 L230.0,112.0 L231.5,110.3 L233.0,110.5 L234.5,109.9 L236.0,109.5 L237.5,109.3 L239.0,108.9 L240.5,109.7 L242.0,110.1 L243.5,109.6 L245.0,110.8 L246.5,110.6 L248.0,110.9 L249.5,110.8 L251.0,113.1 L252.5,113.7 L254.0,114.0 L255.5,114.9 L257.0,115.4 L258.5,117.2 L260.0,118.0 L261.5,119.4 L263.0,120.5 L264.5,121.0 L266.0,122.2 L267.5,124.5 L269.0,124.9 L270.5,127.3 L272.0,129.1 L273.5,129.7 L275.0,132.1 L276.5,133.5 L278.0,135.4 L279.5,136.6 L281.0,138.7 L282.5,140.7 L284.0,143.2 L285.5,144.5 L287.0,146.3 L288.5,147.5 L290.0,150.2 L291.5,151.7 L293.0,154.0 L294.5,156.2 L296.0,158.6 L297.5,160.5 L299.0,162.4 L300.5,164.4 L302.0,167.1 L303.5,168.1 L305.0,170.6 L306.5,173.3 L308.0,174.7 L309.5,177.3 L311.0,179.4 L312.5,182.1 L314.0,183.8 L315.5,184.7 L317.0,187.5 L318.5,189.8 L320.0,192.1 L321.5,194.1 L323.0,196.8 L324.5,198.6 L326.0,199.6 L327.5,201.9 L329.0,203.3 L330.5,207.1 L332.0,208.3 L333.5,210.3 L335.0,211.7 L336.5,214.2 L338.0,216.6 L339.5,218.2 L341.0,220.2 L342.5,222.1 L344.0,225.3 L345.5,226.1 L347.0,227.6 L348.5,230.0 L350.0,232.1 L351.5,234.2 L353.0,236.1 L354.5,237.7 L356.0,240.1 L357.5,242.4 L359.0,243.5 L360.5,247.0 L362.0,248.7 L363.5,249.0 L365.0,251.5 L366.5,254.0 L368.0,255.9 L369.5,257.8 L371.0,257.9 L372.5,259.8 L374.0,261.7 L375.5,263.8 L377.0,264.6 L378.5,266.8 L380.0,268.3 L381.5,269.8 L383.0,270.3 L384.5,272.4 L386.0,273.6 L387.5,274.7 L389.0,276.8 L390.5,277.3 L392.0,279.3 L393.5,279.6 L395.0,281.8 L396.5,282.9 L398.0,282.9 L399.5,284.6 L401.0,285.6 L402.5,286.1 L404.0,288.0 L405.5,289.0 L407.0,289.4 L408.5,290.8 L410.0,292.2 L411.5,292.7 L413.0,293.5 L414.5,295.5 L416.0,295.3 L417.5,296.9 L419.0,298.2 L420.5,299.0 L422.0,298.7 L423.5,300.3 L425.0,301.3 L426.5,302.2 L428.0,303.4 L429.5,304.3 L431.0,305.0 L432.5,305.9 L434.0,307.1 L435.5,308.0 L437.0,307.4 L438.5,310.1 L440.0,309.6 L441.5,311.0 L443.0,310.7 L444.5,312.0 L446.0,312.4 L447.5,314.3 L449.0,314.9 L450.5,315.2 L452.0,315.9 L453.5,316.9 L455.0,317.0 L456.5,317.8 L458.0,318.4 L459.5,319.8 L461.0,320.2 L462.5,320.2 L464.0,321.6 L465.5,322.4 L467.0,323.4 L468.5,323.1 L470.0,324.2 L471.5,325.6 L473.0,325.1 L474.5,325.6 L476.0,326.6 L477.5,326.7 L479.0,327.5 L480.5,327.9 L482.0,328.3 L483.5,329.6 L485.0,329.6 L486.5,329.8 L488.0,330.7 L489.5,331.3 L491.0,332.0 L492.5,332.8 L494.0,333.6 L495.5,332.8 L497.0,333.7 L498.5,333.4 L500.0,334.8 L501.5,335.4 L503.0,335.3 L504.5,335.7 L506.0,336.1 L507.5,336.3 L509.0,337.7 L510.5,338.7 L512.0,337.7 L513.5,339.4 L515.0,339.0 L516.5,338.8 L518.0,340.0 L519.5,340.5 L521.0,340.7 L522.5,340.8 L524.0,342.0 L525.5,341.5 L527.0,342.3 L528.5,342.6 L530.0,342.3 L531.5,342.2 L533.0,342.5 L534.5,343.5 L536.0,344.1 L537.5,343.5 L539.0,344.3 L540.5,345.6 L542.0,344.4 L543.5,345.7 L545.0,345.9 L546.5,346.4 L548.0,345.7 L549.5,346.8 L551.0,346.2 L552.5,347.7 L554.0,347.0 L555.5,347.8 L557.0,347.5 L558.5,348.2 L560.0,347.7 L561.5,348.8 L563.0,349.1 L564.5,349.1 L566.0,350.0 L567.5,349.7 L569.0,350.1 L570.5,350.2 L572.0,351.0 L573.5,350.1 L575.0,350.5 L576.5,350.7 L578.0,351.3 L579.5,351.3 L581.0,351.8 L582.5,351.7 L584.0,351.5 L585.5,351.9 L587.0,352.3 L588.5,351.3 L590.0,353.1 L591.5,352.4 L593.0,352.7 L594.5,353.1 L596.0,353.0 L597.5,352.6 L599.0,353.4 L600.5,354.3 L602.0,354.3 L603.5,354.5 L605.0,353.8 L606.5,354.1 L608.0,354.9 L609.5,355.2 L611.0,354.7 L612.5,354.4 L614.0,354.1 L615.5,355.8 L617.0,354.5 L618.5,355.6 L620.0,355.9 L621.5,357.1 L623.0,355.9 L624.5,355.9 L626.0,356.3 L627.5,356.4 L629.0,356.9 L630.5,356.7 L632.0,356.2 L633.5,355.7 L635.0,356.9 L636.5,356.6 L638.0,357.7 L639.5,356.6 L641.0,357.4 L642.5,357.1 L644.0,357.1 L645.5,358.4 L647.0,357.9 L648.5,357.8 L650.0,358.4 L651.5,357.8 L653.0,358.1 L654.5,358.1 L656.0,359.5 L657.5,358.8 L659.0,359.1 L660.5,359.4 L662.0,359.0 L663.5,359.1 L665.0,358.5 L666.5,359.6 L668.0,359.7 L669.5,359.5 L671.0,360.4 L672.5,359.1 L674.0,360.3 L675.5,359.6 L677.0,359.8 L678.5,360.4 L680.0,361.3 L681.0,360.2" stroke="#A24A4A"/><path d="M83.0,331.3 L84.5,330.4 L86.0,331.0 L87.5,329.2 L89.0,327.9 L90.5,327.4 L92.0,325.0 L93.5,322.4 L95.0,321.4 L96.5,319.3 L98.0,319.0 L99.5,315.4 L101.0,314.1 L102.5,311.5 L104.0,309.3 L105.5,307.2 L107.0,304.7 L108.5,302.0 L110.0,299.2 L111.5,296.9 L113.0,294.0 L114.5,291.4 L116.0,289.1 L117.5,286.1 L119.0,283.6 L120.5,280.4 L122.0,278.4 L123.5,274.3 L125.0,271.2 L126.5,269.1 L128.0,265.3 L129.5,262.7 L131.0,260.0 L132.5,256.5 L134.0,253.3 L135.5,250.9 L137.0,247.6 L138.5,244.2 L140.0,240.9 L141.5,238.3 L143.0,234.7 L144.5,232.1 L146.0,229.0 L147.5,226.7 L149.0,224.0 L150.5,220.4 L152.0,217.6 L153.5,214.5 L155.0,211.5 L156.5,209.1 L158.0,206.8 L159.5,203.9 L161.0,201.2 L162.5,198.1 L164.0,194.3 L165.5,193.3 L167.0,190.9 L168.5,188.1 L170.0,185.5 L171.5,183.1 L173.0,181.4 L174.5,177.8 L176.0,176.0 L177.5,173.3 L179.0,170.9 L180.5,168.2 L182.0,165.9 L183.5,163.3 L185.0,161.9 L186.5,159.4 L188.0,156.9 L189.5,155.1 L191.0,153.0 L192.5,152.4 L194.0,149.8 L195.5,148.2 L197.0,145.9 L198.5,144.3 L200.0,143.7 L201.5,141.6 L203.0,140.3 L204.5,139.6 L206.0,138.4 L207.5,136.5 L209.0,135.1 L210.5,133.9 L212.0,132.5 L213.5,132.6 L215.0,130.1 L216.5,129.7 L218.0,128.0 L219.5,127.5 L221.0,127.6 L222.5,127.0 L224.0,126.4 L225.5,125.5 L227.0,124.9 L228.5,124.6 L230.0,124.4 L231.5,124.9 L233.0,124.9 L234.5,124.3 L236.0,123.8 L237.5,123.7 L239.0,124.4 L240.5,124.2 L242.0,123.6 L243.5,125.3 L245.0,124.9 L246.5,125.1 L248.0,125.2 L249.5,125.7 L251.0,127.1 L252.5,126.8 L254.0,128.0 L255.5,129.0 L257.0,130.3 L258.5,130.6 L260.0,131.2 L261.5,132.0 L263.0,133.7 L264.5,134.8 L266.0,135.3 L267.5,137.0 L269.0,137.9 L270.5,138.5 L272.0,140.1 L273.5,142.3 L275.0,144.0 L276.5,145.2 L278.0,146.3 L279.5,147.6 L281.0,149.7 L282.5,151.3 L284.0,152.0 L285.5,154.7 L287.0,155.8 L288.5,158.2 L290.0,159.9 L291.5,161.8 L293.0,163.8 L294.5,165.5 L296.0,166.6 L297.5,168.5 L299.0,171.4 L300.5,173.1 L302.0,174.1 L303.5,175.9 L305.0,179.2 L306.5,181.9 L308.0,183.2 L309.5,184.8 L311.0,187.1 L312.5,187.7 L314.0,190.6 L315.5,193.6 L317.0,195.6 L318.5,196.3 L320.0,199.9 L321.5,201.6 L323.0,203.9 L324.5,205.4 L326.0,207.5 L327.5,209.1 L329.0,211.8 L330.5,214.1 L332.0,215.2 L333.5,217.8 L335.0,219.4 L336.5,222.1 L338.0,224.1 L339.5,224.5 L341.0,227.8 L342.5,230.0 L344.0,231.2 L345.5,233.2 L347.0,235.2 L348.5,236.6 L350.0,239.0 L351.5,241.6 L353.0,243.0 L354.5,245.4 L356.0,247.0 L357.5,248.9 L359.0,250.2 L360.5,252.3 L362.0,254.6 L363.5,256.1 L365.0,257.2 L366.5,258.4 L368.0,260.0 L369.5,262.1 L371.0,263.8 L372.5,264.3 L374.0,266.7 L375.5,268.3 L377.0,269.7 L378.5,270.7 L380.0,273.4 L381.5,274.1 L383.0,274.4 L384.5,275.9 L386.0,277.9 L387.5,279.0 L389.0,280.0 L390.5,281.1 L392.0,282.2 L393.5,283.2 L395.0,284.0 L396.5,285.8 L398.0,285.3 L399.5,287.3 L401.0,289.3 L402.5,289.3 L404.0,290.1 L405.5,292.5 L407.0,293.1 L408.5,293.5 L410.0,294.3 L411.5,295.4 L413.0,296.3 L414.5,297.2 L416.0,297.9 L417.5,299.4 L419.0,299.8 L420.5,300.1 L422.0,301.2 L423.5,302.6 L425.0,303.0 L426.5,303.2 L428.0,305.9 L429.5,306.2 L431.0,306.6 L432.5,307.4 L434.0,308.6 L435.5,309.8 L437.0,309.7 L438.5,310.9 L440.0,311.2 L441.5,312.4 L443.0,312.4 L444.5,312.8 L446.0,314.5 L447.5,315.1 L449.0,316.2 L450.5,316.2 L452.0,317.9 L453.5,317.9 L455.0,319.3 L456.5,319.1 L458.0,320.6 L459.5,320.5 L461.0,321.2 L462.5,322.2 L464.0,321.6 L465.5,322.5 L467.0,324.5 L468.5,323.5 L470.0,324.6 L471.5,325.7 L473.0,326.7 L474.5,326.3 L476.0,327.2 L477.5,327.1 L479.0,328.0 L480.5,329.2 L482.0,329.4 L483.5,329.8 L485.0,330.5 L486.5,330.9 L488.0,331.4 L489.5,331.7 L491.0,331.9 L492.5,333.1 L494.0,332.7 L495.5,334.2 L497.0,335.2 L498.5,335.4 L500.0,336.2 L501.5,335.1 L503.0,336.1 L504.5,336.0 L506.0,336.5 L507.5,336.5 L509.0,337.1 L510.5,338.5 L512.0,338.8 L513.5,339.4 L515.0,339.8 L516.5,340.0 L518.0,339.7 L519.5,340.4 L521.0,341.1 L522.5,341.7 L524.0,341.3 L525.5,341.6 L527.0,342.0 L528.5,343.3 L530.0,343.1 L531.5,343.0 L533.0,343.2 L534.5,344.0 L536.0,343.4 L537.5,344.3 L539.0,344.5 L540.5,344.8 L542.0,345.4 L543.5,345.8 L545.0,347.3 L546.5,346.3 L548.0,346.8 L549.5,346.4 L551.0,346.2 L552.5,347.8 L554.0,348.4 L555.5,347.3 L557.0,348.0 L558.5,348.8 L560.0,348.6 L561.5,347.7 L563.0,349.5 L564.5,349.2 L566.0,349.8 L567.5,349.2 L569.0,350.3 L570.5,350.6 L572.0,350.0 L573.5,350.8 L575.0,350.5 L576.5,350.7 L578.0,350.7 L579.5,351.2 L581.0,351.2 L582.5,352.3 L584.0,351.8 L585.5,351.6 L587.0,352.9 L588.5,352.7 L590.0,353.1 L591.5,352.8 L593.0,353.3 L594.5,353.1 L596.0,352.9 L597.5,353.6 L599.0,353.7 L600.5,353.9 L602.0,354.4 L603.5,353.3 L605.0,354.4 L606.5,354.1 L608.0,354.5 L609.5,355.0 L611.0,354.9 L612.5,354.7 L614.0,355.5 L615.5,355.3 L617.0,355.9 L618.5,356.2 L620.0,355.6 L621.5,355.4 L623.0,356.1 L624.5,356.5 L626.0,356.4 L627.5,355.9 L629.0,355.8 L630.5,356.2 L632.0,356.4 L633.5,357.2 L635.0,357.1 L636.5,357.6 L638.0,357.3 L639.5,358.2 L641.0,357.6 L642.5,358.0 L644.0,357.6 L645.5,358.1 L647.0,358.6 L648.5,358.5 L650.0,358.9 L651.5,358.2 L653.0,358.8 L654.5,359.5 L656.0,358.9 L657.5,358.9 L659.0,359.0 L660.5,358.9 L662.0,359.4 L663.5,360.1 L665.0,359.8 L666.5,359.7 L668.0,359.4 L669.5,359.4 L671.0,361.2 L672.5,360.0 L674.0,360.4 L675.5,360.2 L677.0,360.7 L678.5,360.5 L680.0,360.9 L681.0,361.6" stroke="#7D9A5A" stroke-width="4.6" stroke-opacity="0.35"/><path d="M83.0,331.3 L84.5,330.4 L86.0,331.0 L87.5,329.2 L89.0,327.9 L90.5,327.4 L92.0,325.0 L93.5,322.4 L95.0,321.4 L96.5,319.3 L98.0,319.0 L99.5,315.4 L101.0,314.1 L102.5,311.5 L104.0,309.3 L105.5,307.2 L107.0,304.7 L108.5,302.0 L110.0,299.2 L111.5,296.9 L113.0,294.0 L114.5,291.4 L116.0,289.1 L117.5,286.1 L119.0,283.6 L120.5,280.4 L122.0,278.4 L123.5,274.3 L125.0,271.2 L126.5,269.1 L128.0,265.3 L129.5,262.7 L131.0,260.0 L132.5,256.5 L134.0,253.3 L135.5,250.9 L137.0,247.6 L138.5,244.2 L140.0,240.9 L141.5,238.3 L143.0,234.7 L144.5,232.1 L146.0,229.0 L147.5,226.7 L149.0,224.0 L150.5,220.4 L152.0,217.6 L153.5,214.5 L155.0,211.5 L156.5,209.1 L158.0,206.8 L159.5,203.9 L161.0,201.2 L162.5,198.1 L164.0,194.3 L165.5,193.3 L167.0,190.9 L168.5,188.1 L170.0,185.5 L171.5,183.1 L173.0,181.4 L174.5,177.8 L176.0,176.0 L177.5,173.3 L179.0,170.9 L180.5,168.2 L182.0,165.9 L183.5,163.3 L185.0,161.9 L186.5,159.4 L188.0,156.9 L189.5,155.1 L191.0,153.0 L192.5,152.4 L194.0,149.8 L195.5,148.2 L197.0,145.9 L198.5,144.3 L200.0,143.7 L201.5,141.6 L203.0,140.3 L204.5,139.6 L206.0,138.4 L207.5,136.5 L209.0,135.1 L210.5,133.9 L212.0,132.5 L213.5,132.6 L215.0,130.1 L216.5,129.7 L218.0,128.0 L219.5,127.5 L221.0,127.6 L222.5,127.0 L224.0,126.4 L225.5,125.5 L227.0,124.9 L228.5,124.6 L230.0,124.4 L231.5,124.9 L233.0,124.9 L234.5,124.3 L236.0,123.8 L237.5,123.7 L239.0,124.4 L240.5,124.2 L242.0,123.6 L243.5,125.3 L245.0,124.9 L246.5,125.1 L248.0,125.2 L249.5,125.7 L251.0,127.1 L252.5,126.8 L254.0,128.0 L255.5,129.0 L257.0,130.3 L258.5,130.6 L260.0,131.2 L261.5,132.0 L263.0,133.7 L264.5,134.8 L266.0,135.3 L267.5,137.0 L269.0,137.9 L270.5,138.5 L272.0,140.1 L273.5,142.3 L275.0,144.0 L276.5,145.2 L278.0,146.3 L279.5,147.6 L281.0,149.7 L282.5,151.3 L284.0,152.0 L285.5,154.7 L287.0,155.8 L288.5,158.2 L290.0,159.9 L291.5,161.8 L293.0,163.8 L294.5,165.5 L296.0,166.6 L297.5,168.5 L299.0,171.4 L300.5,173.1 L302.0,174.1 L303.5,175.9 L305.0,179.2 L306.5,181.9 L308.0,183.2 L309.5,184.8 L311.0,187.1 L312.5,187.7 L314.0,190.6 L315.5,193.6 L317.0,195.6 L318.5,196.3 L320.0,199.9 L321.5,201.6 L323.0,203.9 L324.5,205.4 L326.0,207.5 L327.5,209.1 L329.0,211.8 L330.5,214.1 L332.0,215.2 L333.5,217.8 L335.0,219.4 L336.5,222.1 L338.0,224.1 L339.5,224.5 L341.0,227.8 L342.5,230.0 L344.0,231.2 L345.5,233.2 L347.0,235.2 L348.5,236.6 L350.0,239.0 L351.5,241.6 L353.0,243.0 L354.5,245.4 L356.0,247.0 L357.5,248.9 L359.0,250.2 L360.5,252.3 L362.0,254.6 L363.5,256.1 L365.0,257.2 L366.5,258.4 L368.0,260.0 L369.5,262.1 L371.0,263.8 L372.5,264.3 L374.0,266.7 L375.5,268.3 L377.0,269.7 L378.5,270.7 L380.0,273.4 L381.5,274.1 L383.0,274.4 L384.5,275.9 L386.0,277.9 L387.5,279.0 L389.0,280.0 L390.5,281.1 L392.0,282.2 L393.5,283.2 L395.0,284.0 L396.5,285.8 L398.0,285.3 L399.5,287.3 L401.0,289.3 L402.5,289.3 L404.0,290.1 L405.5,292.5 L407.0,293.1 L408.5,293.5 L410.0,294.3 L411.5,295.4 L413.0,296.3 L414.5,297.2 L416.0,297.9 L417.5,299.4 L419.0,299.8 L420.5,300.1 L422.0,301.2 L423.5,302.6 L425.0,303.0 L426.5,303.2 L428.0,305.9 L429.5,306.2 L431.0,306.6 L432.5,307.4 L434.0,308.6 L435.5,309.8 L437.0,309.7 L438.5,310.9 L440.0,311.2 L441.5,312.4 L443.0,312.4 L444.5,312.8 L446.0,314.5 L447.5,315.1 L449.0,316.2 L450.5,316.2 L452.0,317.9 L453.5,317.9 L455.0,319.3 L456.5,319.1 L458.0,320.6 L459.5,320.5 L461.0,321.2 L462.5,322.2 L464.0,321.6 L465.5,322.5 L467.0,324.5 L468.5,323.5 L470.0,324.6 L471.5,325.7 L473.0,326.7 L474.5,326.3 L476.0,327.2 L477.5,327.1 L479.0,328.0 L480.5,329.2 L482.0,329.4 L483.5,329.8 L485.0,330.5 L486.5,330.9 L488.0,331.4 L489.5,331.7 L491.0,331.9 L492.5,333.1 L494.0,332.7 L495.5,334.2 L497.0,335.2 L498.5,335.4 L500.0,336.2 L501.5,335.1 L503.0,336.1 L504.5,336.0 L506.0,336.5 L507.5,336.5 L509.0,337.1 L510.5,338.5 L512.0,338.8 L513.5,339.4 L515.0,339.8 L516.5,340.0 L518.0,339.7 L519.5,340.4 L521.0,341.1 L522.5,341.7 L524.0,341.3 L525.5,341.6 L527.0,342.0 L528.5,343.3 L530.0,343.1 L531.5,343.0 L533.0,343.2 L534.5,344.0 L536.0,343.4 L537.5,344.3 L539.0,344.5 L540.5,344.8 L542.0,345.4 L543.5,345.8 L545.0,347.3 L546.5,346.3 L548.0,346.8 L549.5,346.4 L551.0,346.2 L552.5,347.8 L554.0,348.4 L555.5,347.3 L557.0,348.0 L558.5,348.8 L560.0,348.6 L561.5,347.7 L563.0,349.5 L564.5,349.2 L566.0,349.8 L567.5,349.2 L569.0,350.3 L570.5,350.6 L572.0,350.0 L573.5,350.8 L575.0,350.5 L576.5,350.7 L578.0,350.7 L579.5,351.2 L581.0,351.2 L582.5,352.3 L584.0,351.8 L585.5,351.6 L587.0,352.9 L588.5,352.7 L590.0,353.1 L591.5,352.8 L593.0,353.3 L594.5,353.1 L596.0,352.9 L597.5,353.6 L599.0,353.7 L600.5,353.9 L602.0,354.4 L603.5,353.3 L605.0,354.4 L606.5,354.1 L608.0,354.5 L609.5,355.0 L611.0,354.9 L612.5,354.7 L614.0,355.5 L615.5,355.3 L617.0,355.9 L618.5,356.2 L620.0,355.6 L621.5,355.4 L623.0,356.1 L624.5,356.5 L626.0,356.4 L627.5,355.9 L629.0,355.8 L630.5,356.2 L632.0,356.4 L633.5,357.2 L635.0,357.1 L636.5,357.6 L638.0,357.3 L639.5,358.2 L641.0,357.6 L642.5,358.0 L644.0,357.6 L645.5,358.1 L647.0,358.6 L648.5,358.5 L650.0,358.9 L651.5,358.2 L653.0,358.8 L654.5,359.5 L656.0,358.9 L657.5,358.9 L659.0,359.0 L660.5,358.9 L662.0,359.4 L663.5,360.1 L665.0,359.8 L666.5,359.7 L668.0,359.4 L669.5,359.4 L671.0,361.2 L672.5,360.0 L674.0,360.4 L675.5,360.2 L677.0,360.7 L678.5,360.5 L680.0,360.9 L681.0,361.6" stroke="#7D9A5A"/><path d="M83.0,331.5 L84.5,331.2 L86.0,330.0 L87.5,329.3 L89.0,327.4 L90.5,326.5 L92.0,324.5 L93.5,322.5 L95.0,321.0 L96.5,319.4 L98.0,317.4 L99.5,315.8 L101.0,314.4 L102.5,311.2 L104.0,309.7 L105.5,307.2 L107.0,304.4 L108.5,301.8 L110.0,299.9 L111.5,297.3 L113.0,294.2 L114.5,291.6 L116.0,288.9 L117.5,285.5 L119.0,283.3 L120.5,280.5 L122.0,278.2 L123.5,273.9 L125.0,271.1 L126.5,268.5 L128.0,265.2 L129.5,262.3 L131.0,259.4 L132.5,256.2 L134.0,253.3 L135.5,250.5 L137.0,246.5 L138.5,244.5 L140.0,240.2 L141.5,239.0 L143.0,235.7 L144.5,232.0 L146.0,229.8 L147.5,226.3 L149.0,223.6 L150.5,220.8 L152.0,217.8 L153.5,214.7 L155.0,212.2 L156.5,209.0 L158.0,206.1 L159.5,203.0 L161.0,199.9 L162.5,198.7 L164.0,195.6 L165.5,192.0 L167.0,190.2 L168.5,187.5 L170.0,183.8 L171.5,181.9 L173.0,179.8 L174.5,178.1 L176.0,175.4 L177.5,173.1 L179.0,170.4 L180.5,168.4 L182.0,165.2 L183.5,163.8 L185.0,161.7 L186.5,158.6 L188.0,157.3 L189.5,155.8 L191.0,154.0 L192.5,151.7 L194.0,148.8 L195.5,147.2 L197.0,145.2 L198.5,144.1 L200.0,141.5 L201.5,139.7 L203.0,137.8 L204.5,137.0 L206.0,135.6 L207.5,133.7 L209.0,132.2 L210.5,131.2 L212.0,130.6 L213.5,128.2 L215.0,127.6 L216.5,126.6 L218.0,125.7 L219.5,125.1 L221.0,124.0 L222.5,123.0 L224.0,122.8 L225.5,121.9 L227.0,120.9 L228.5,120.4 L230.0,119.2 L231.5,119.4 L233.0,118.7 L234.5,118.2 L236.0,118.4 L237.5,117.6 L239.0,117.9 L240.5,118.2 L242.0,118.8 L243.5,118.8 L245.0,119.6 L246.5,120.6 L248.0,120.8 L249.5,120.5 L251.0,120.9 L252.5,122.1 L254.0,122.9 L255.5,123.3 L257.0,124.4 L258.5,125.4 L260.0,127.0 L261.5,129.0 L263.0,130.3 L264.5,130.3 L266.0,131.9 L267.5,132.8 L269.0,134.1 L270.5,136.2 L272.0,137.8 L273.5,139.0 L275.0,141.1 L276.5,142.3 L278.0,144.6 L279.5,145.6 L281.0,147.9 L282.5,149.2 L284.0,151.1 L285.5,153.2 L287.0,154.2 L288.5,156.3 L290.0,158.5 L291.5,160.4 L293.0,162.5 L294.5,164.0 L296.0,165.8 L297.5,168.4 L299.0,170.6 L300.5,172.1 L302.0,175.0 L303.5,176.7 L305.0,178.8 L306.5,180.8 L308.0,182.1 L309.5,185.5 L311.0,186.2 L312.5,188.8 L314.0,191.0 L315.5,192.9 L317.0,194.9 L318.5,196.5 L320.0,198.7 L321.5,201.0 L323.0,203.6 L324.5,204.8 L326.0,207.5 L327.5,209.4 L329.0,211.3 L330.5,213.0 L332.0,215.2 L333.5,216.5 L335.0,219.3 L336.5,221.4 L338.0,223.0 L339.5,225.4 L341.0,227.3 L342.5,228.8 L344.0,231.4 L345.5,232.7 L347.0,235.9 L348.5,236.3 L350.0,238.2 L351.5,240.2 L353.0,242.5 L354.5,244.8 L356.0,246.2 L357.5,247.8 L359.0,250.6 L360.5,252.0 L362.0,253.2 L363.5,255.0 L365.0,256.1 L366.5,258.5 L368.0,260.9 L369.5,261.2 L371.0,262.7 L372.5,264.9 L374.0,265.3 L375.5,268.5 L377.0,268.6 L378.5,270.4 L380.0,272.0 L381.5,274.0 L383.0,274.9 L384.5,275.2 L386.0,276.5 L387.5,278.6 L389.0,278.8 L390.5,280.7 L392.0,281.7 L393.5,283.5 L395.0,284.8 L396.5,284.2 L398.0,286.6 L399.5,287.7 L401.0,288.1 L402.5,289.2 L404.0,289.9 L405.5,291.3 L407.0,292.6 L408.5,294.0 L410.0,295.0 L411.5,295.2 L413.0,295.9 L414.5,297.6 L416.0,296.8 L417.5,298.4 L419.0,300.2 L420.5,301.8 L422.0,301.3 L423.5,302.5 L425.0,302.8 L426.5,304.2 L428.0,305.0 L429.5,305.5 L431.0,306.9 L432.5,307.4 L434.0,308.5 L435.5,309.0 L437.0,309.3 L438.5,310.7 L440.0,311.8 L441.5,311.8 L443.0,313.5 L444.5,313.8 L446.0,314.2 L447.5,315.1 L449.0,315.6 L450.5,316.1 L452.0,317.6 L453.5,318.2 L455.0,318.3 L456.5,319.1 L458.0,319.7 L459.5,320.8 L461.0,321.8 L462.5,321.5 L464.0,322.5 L465.5,323.0 L467.0,323.9 L468.5,324.9 L470.0,324.4 L471.5,324.5 L473.0,325.9 L474.5,325.8 L476.0,327.9 L477.5,327.3 L479.0,328.1 L480.5,328.9 L482.0,329.4 L483.5,329.6 L485.0,330.3 L486.5,331.3 L488.0,331.2 L489.5,332.7 L491.0,332.5 L492.5,331.8 L494.0,333.7 L495.5,333.0 L497.0,334.4 L498.5,335.7 L500.0,335.6 L501.5,335.1 L503.0,335.6 L504.5,336.5 L506.0,337.5 L507.5,337.0 L509.0,338.2 L510.5,338.2 L512.0,338.5 L513.5,338.8 L515.0,340.0 L516.5,339.0 L518.0,339.5 L519.5,340.8 L521.0,341.2 L522.5,340.6 L524.0,341.1 L525.5,341.3 L527.0,342.4 L528.5,342.2 L530.0,343.5 L531.5,343.5 L533.0,343.6 L534.5,343.9 L536.0,344.4 L537.5,344.8 L539.0,344.8 L540.5,345.2 L542.0,345.7 L543.5,345.6 L545.0,346.4 L546.5,346.1 L548.0,346.1 L549.5,346.8 L551.0,347.8 L552.5,348.0 L554.0,346.8 L555.5,347.9 L557.0,347.8 L558.5,348.1 L560.0,348.4 L561.5,348.7 L563.0,348.8 L564.5,349.1 L566.0,349.6 L567.5,349.1 L569.0,349.3 L570.5,349.6 L572.0,349.8 L573.5,350.8 L575.0,350.2 L576.5,350.9 L578.0,351.2 L579.5,351.7 L581.0,351.5 L582.5,352.2 L584.0,351.9 L585.5,352.2 L587.0,352.6 L588.5,351.8 L590.0,352.8 L591.5,353.5 L593.0,353.0 L594.5,353.0 L596.0,354.2 L597.5,353.5 L599.0,354.2 L600.5,352.7 L602.0,354.0 L603.5,353.9 L605.0,354.4 L606.5,355.0 L608.0,354.5 L609.5,354.6 L611.0,353.6 L612.5,355.4 L614.0,355.8 L615.5,355.4 L617.0,355.2 L618.5,355.7 L620.0,356.2 L621.5,356.1 L623.0,356.9 L624.5,355.9 L626.0,355.6 L627.5,356.6 L629.0,357.1 L630.5,356.4 L632.0,356.8 L633.5,356.6 L635.0,356.5 L636.5,356.8 L638.0,356.3 L639.5,357.5 L641.0,357.7 L642.5,358.1 L644.0,357.4 L645.5,357.6 L647.0,357.3 L648.5,357.5 L650.0,358.7 L651.5,359.7 L653.0,358.0 L654.5,358.5 L656.0,359.2 L657.5,358.6 L659.0,359.3 L660.5,359.0 L662.0,359.1 L663.5,359.8 L665.0,359.4 L666.5,359.1 L668.0,360.1 L669.5,359.9 L671.0,359.8 L672.5,359.8 L674.0,360.5 L675.5,360.1 L677.0,360.6 L678.5,361.1 L680.0,360.8 L681.0,361.4" stroke="#0000AA" stroke-width="4.6" stroke-opacity="0.35"/><path d="M83.0,331.5 L84.5,331.2 L86.0,330.0 L87.5,329.3 L89.0,327.4 L90.5,326.5 L92.0,324.5 L93.5,322.5 L95.0,321.0 L96.5,319.4 L98.0,317.4 L99.5,315.8 L101.0,314.4 L102.5,311.2 L104.0,309.7 L105.5,307.2 L107.0,304.4 L108.5,301.8 L110.0,299.9 L111.5,297.3 L113.0,294.2 L114.5,291.6 L116.0,288.9 L117.5,285.5 L119.0,283.3 L120.5,280.5 L122.0,278.2 L123.5,273.9 L125.0,271.1 L126.5,268.5 L128.0,265.2 L129.5,262.3 L131.0,259.4 L132.5,256.2 L134.0,253.3 L135.5,250.5 L137.0,246.5 L138.5,244.5 L140.0,240.2 L141.5,239.0 L143.0,235.7 L144.5,232.0 L146.0,229.8 L147.5,226.3 L149.0,223.6 L150.5,220.8 L152.0,217.8 L153.5,214.7 L155.0,212.2 L156.5,209.0 L158.0,206.1 L159.5,203.0 L161.0,199.9 L162.5,198.7 L164.0,195.6 L165.5,192.0 L167.0,190.2 L168.5,187.5 L170.0,183.8 L171.5,181.9 L173.0,179.8 L174.5,178.1 L176.0,175.4 L177.5,173.1 L179.0,170.4 L180.5,168.4 L182.0,165.2 L183.5,163.8 L185.0,161.7 L186.5,158.6 L188.0,157.3 L189.5,155.8 L191.0,154.0 L192.5,151.7 L194.0,148.8 L195.5,147.2 L197.0,145.2 L198.5,144.1 L200.0,141.5 L201.5,139.7 L203.0,137.8 L204.5,137.0 L206.0,135.6 L207.5,133.7 L209.0,132.2 L210.5,131.2 L212.0,130.6 L213.5,128.2 L215.0,127.6 L216.5,126.6 L218.0,125.7 L219.5,125.1 L221.0,124.0 L222.5,123.0 L224.0,122.8 L225.5,121.9 L227.0,120.9 L228.5,120.4 L230.0,119.2 L231.5,119.4 L233.0,118.7 L234.5,118.2 L236.0,118.4 L237.5,117.6 L239.0,117.9 L240.5,118.2 L242.0,118.8 L243.5,118.8 L245.0,119.6 L246.5,120.6 L248.0,120.8 L249.5,120.5 L251.0,120.9 L252.5,122.1 L254.0,122.9 L255.5,123.3 L257.0,124.4 L258.5,125.4 L260.0,127.0 L261.5,129.0 L263.0,130.3 L264.5,130.3 L266.0,131.9 L267.5,132.8 L269.0,134.1 L270.5,136.2 L272.0,137.8 L273.5,139.0 L275.0,141.1 L276.5,142.3 L278.0,144.6 L279.5,145.6 L281.0,147.9 L282.5,149.2 L284.0,151.1 L285.5,153.2 L287.0,154.2 L288.5,156.3 L290.0,158.5 L291.5,160.4 L293.0,162.5 L294.5,164.0 L296.0,165.8 L297.5,168.4 L299.0,170.6 L300.5,172.1 L302.0,175.0 L303.5,176.7 L305.0,178.8 L306.5,180.8 L308.0,182.1 L309.5,185.5 L311.0,186.2 L312.5,188.8 L314.0,191.0 L315.5,192.9 L317.0,194.9 L318.5,196.5 L320.0,198.7 L321.5,201.0 L323.0,203.6 L324.5,204.8 L326.0,207.5 L327.5,209.4 L329.0,211.3 L330.5,213.0 L332.0,215.2 L333.5,216.5 L335.0,219.3 L336.5,221.4 L338.0,223.0 L339.5,225.4 L341.0,227.3 L342.5,228.8 L344.0,231.4 L345.5,232.7 L347.0,235.9 L348.5,236.3 L350.0,238.2 L351.5,240.2 L353.0,242.5 L354.5,244.8 L356.0,246.2 L357.5,247.8 L359.0,250.6 L360.5,252.0 L362.0,253.2 L363.5,255.0 L365.0,256.1 L366.5,258.5 L368.0,260.9 L369.5,261.2 L371.0,262.7 L372.5,264.9 L374.0,265.3 L375.5,268.5 L377.0,268.6 L378.5,270.4 L380.0,272.0 L381.5,274.0 L383.0,274.9 L384.5,275.2 L386.0,276.5 L387.5,278.6 L389.0,278.8 L390.5,280.7 L392.0,281.7 L393.5,283.5 L395.0,284.8 L396.5,284.2 L398.0,286.6 L399.5,287.7 L401.0,288.1 L402.5,289.2 L404.0,289.9 L405.5,291.3 L407.0,292.6 L408.5,294.0 L410.0,295.0 L411.5,295.2 L413.0,295.9 L414.5,297.6 L416.0,296.8 L417.5,298.4 L419.0,300.2 L420.5,301.8 L422.0,301.3 L423.5,302.5 L425.0,302.8 L426.5,304.2 L428.0,305.0 L429.5,305.5 L431.0,306.9 L432.5,307.4 L434.0,308.5 L435.5,309.0 L437.0,309.3 L438.5,310.7 L440.0,311.8 L441.5,311.8 L443.0,313.5 L444.5,313.8 L446.0,314.2 L447.5,315.1 L449.0,315.6 L450.5,316.1 L452.0,317.6 L453.5,318.2 L455.0,318.3 L456.5,319.1 L458.0,319.7 L459.5,320.8 L461.0,321.8 L462.5,321.5 L464.0,322.5 L465.5,323.0 L467.0,323.9 L468.5,324.9 L470.0,324.4 L471.5,324.5 L473.0,325.9 L474.5,325.8 L476.0,327.9 L477.5,327.3 L479.0,328.1 L480.5,328.9 L482.0,329.4 L483.5,329.6 L485.0,330.3 L486.5,331.3 L488.0,331.2 L489.5,332.7 L491.0,332.5 L492.5,331.8 L494.0,333.7 L495.5,333.0 L497.0,334.4 L498.5,335.7 L500.0,335.6 L501.5,335.1 L503.0,335.6 L504.5,336.5 L506.0,337.5 L507.5,337.0 L509.0,338.2 L510.5,338.2 L512.0,338.5 L513.5,338.8 L515.0,340.0 L516.5,339.0 L518.0,339.5 L519.5,340.8 L521.0,341.2 L522.5,340.6 L524.0,341.1 L525.5,341.3 L527.0,342.4 L528.5,342.2 L530.0,343.5 L531.5,343.5 L533.0,343.6 L534.5,343.9 L536.0,344.4 L537.5,344.8 L539.0,344.8 L540.5,345.2 L542.0,345.7 L543.5,345.6 L545.0,346.4 L546.5,346.1 L548.0,346.1 L549.5,346.8 L551.0,347.8 L552.5,348.0 L554.0,346.8 L555.5,347.9 L557.0,347.8 L558.5,348.1 L560.0,348.4 L561.5,348.7 L563.0,348.8 L564.5,349.1 L566.0,349.6 L567.5,349.1 L569.0,349.3 L570.5,349.6 L572.0,349.8 L573.5,350.8 L575.0,350.2 L576.5,350.9 L578.0,351.2 L579.5,351.7 L581.0,351.5 L582.5,352.2 L584.0,351.9 L585.5,352.2 L587.0,352.6 L588.5,351.8 L590.0,352.8 L591.5,353.5 L593.0,353.0 L594.5,353.0 L596.0,354.2 L597.5,353.5 L599.0,354.2 L600.5,352.7 L602.0,354.0 L603.5,353.9 L605.0,354.4 L606.5,355.0 L608.0,354.5 L609.5,354.6 L611.0,353.6 L612.5,355.4 L614.0,355.8 L615.5,355.4 L617.0,355.2 L618.5,355.7 L620.0,356.2 L621.5,356.1 L623.0,356.9 L624.5,355.9 L626.0,355.6 L627.5,356.6 L629.0,357.1 L630.5,356.4 L632.0,356.8 L633.5,356.6 L635.0,356.5 L636.5,356.8 L638.0,356.3 L639.5,357.5 L641.0,357.7 L642.5,358.1 L644.0,357.4 L645.5,357.6 L647.0,357.3 L648.5,357.5 L650.0,358.7 L651.5,359.7 L653.0,358.0 L654.5,358.5 L656.0,359.2 L657.5,358.6 L659.0,359.3 L660.5,359.0 L662.0,359.1 L663.5,359.8 L665.0,359.4 L666.5,359.1 L668.0,360.1 L669.5,359.9 L671.0,359.8 L672.5,359.8 L674.0,360.5 L675.5,360.1 L677.0,360.6 L678.5,361.1 L680.0,360.8 L681.0,361.4" stroke="#0000AA"/><path d="M83.0,331.9 L84.5,332.0 L86.0,331.1 L87.5,330.7 L89.0,328.7 L90.5,327.8 L92.0,325.9 L93.5,324.0 L95.0,322.5 L96.5,320.8 L98.0,319.7 L99.5,317.0 L101.0,315.4 L102.5,313.7 L104.0,311.7 L105.5,309.3 L107.0,307.2 L108.5,303.6 L110.0,301.4 L111.5,299.3 L113.0,297.0 L114.5,294.1 L116.0,290.9 L117.5,288.4 L119.0,285.0 L120.5,283.3 L122.0,279.2 L123.5,277.3 L125.0,274.8 L126.5,271.8 L128.0,267.8 L129.5,265.7 L131.0,262.5 L132.5,259.6 L134.0,257.5 L135.5,254.0 L137.0,250.3 L138.5,247.5 L140.0,245.4 L141.5,242.3 L143.0,238.8 L144.5,235.7 L146.0,233.3 L147.5,230.6 L149.0,228.3 L150.5,224.8 L152.0,222.6 L153.5,220.1 L155.0,216.1 L156.5,213.8 L158.0,212.1 L159.5,208.5 L161.0,206.0 L162.5,203.8 L164.0,200.5 L165.5,198.0 L167.0,194.9 L168.5,193.4 L170.0,190.5 L171.5,188.1 L173.0,184.7 L174.5,183.9 L176.0,181.4 L177.5,178.5 L179.0,177.1 L180.5,173.3 L182.0,172.2 L183.5,169.3 L185.0,169.2 L186.5,164.7 L188.0,163.4 L189.5,161.6 L191.0,160.4 L192.5,158.6 L194.0,156.6 L195.5,154.5 L197.0,153.9 L198.5,151.0 L200.0,149.9 L201.5,149.0 L203.0,146.1 L204.5,144.9 L206.0,144.4 L207.5,142.8 L209.0,140.7 L210.5,140.2 L212.0,139.9 L213.5,137.9 L215.0,137.3 L216.5,136.1 L218.0,134.8 L219.5,135.1 L221.0,134.0 L222.5,133.5 L224.0,132.2 L225.5,131.8 L227.0,131.4 L228.5,131.1 L230.0,130.4 L231.5,130.0 L233.0,130.6 L234.5,129.3 L236.0,129.6 L237.5,129.6 L239.0,129.6 L240.5,129.4 L242.0,129.7 L243.5,130.7 L245.0,130.5 L246.5,130.7 L248.0,132.3 L249.5,131.4 L251.0,133.1 L252.5,133.5 L254.0,133.4 L255.5,134.6 L257.0,135.5 L258.5,137.1 L260.0,137.9 L261.5,138.4 L263.0,139.0 L264.5,139.9 L266.0,141.8 L267.5,142.4 L269.0,144.2 L270.5,145.5 L272.0,147.1 L273.5,148.8 L275.0,149.8 L276.5,151.5 L278.0,152.7 L279.5,154.8 L281.0,156.2 L282.5,158.2 L284.0,159.7 L285.5,160.5 L287.0,161.8 L288.5,164.5 L290.0,166.5 L291.5,167.5 L293.0,170.3 L294.5,171.4 L296.0,173.2 L297.5,175.3 L299.0,176.4 L300.5,178.2 L302.0,180.7 L303.5,182.2 L305.0,184.7 L306.5,186.7 L308.0,187.5 L309.5,190.3 L311.0,192.9 L312.5,193.6 L314.0,196.5 L315.5,198.1 L317.0,199.8 L318.5,203.2 L320.0,205.3 L321.5,206.6 L323.0,208.6 L324.5,211.5 L326.0,213.4 L327.5,214.9 L329.0,217.3 L330.5,219.0 L332.0,220.8 L333.5,223.2 L335.0,224.7 L336.5,227.1 L338.0,228.7 L339.5,230.5 L341.0,232.4 L342.5,234.8 L344.0,236.9 L345.5,238.6 L347.0,239.8 L348.5,242.3 L350.0,243.5 L351.5,245.2 L353.0,247.4 L354.5,249.6 L356.0,251.3 L357.5,252.9 L359.0,255.0 L360.5,256.4 L362.0,257.5 L363.5,259.7 L365.0,260.8 L366.5,262.7 L368.0,264.3 L369.5,265.5 L371.0,266.4 L372.5,268.5 L374.0,269.8 L375.5,271.3 L377.0,272.5 L378.5,273.6 L380.0,274.7 L381.5,277.0 L383.0,278.3 L384.5,279.3 L386.0,280.3 L387.5,282.4 L389.0,282.9 L390.5,283.7 L392.0,285.2 L393.5,285.9 L395.0,287.3 L396.5,288.1 L398.0,289.2 L399.5,290.0 L401.0,290.7 L402.5,292.1 L404.0,293.4 L405.5,293.4 L407.0,294.5 L408.5,295.1 L410.0,296.9 L411.5,297.3 L413.0,298.7 L414.5,298.8 L416.0,300.4 L417.5,300.6 L419.0,301.5 L420.5,302.8 L422.0,303.2 L423.5,304.0 L425.0,305.4 L426.5,305.8 L428.0,307.2 L429.5,308.5 L431.0,307.9 L432.5,308.8 L434.0,309.0 L435.5,309.9 L437.0,311.5 L438.5,312.1 L440.0,312.8 L441.5,313.6 L443.0,313.7 L444.5,314.0 L446.0,316.0 L447.5,316.3 L449.0,317.3 L450.5,317.5 L452.0,318.5 L453.5,318.6 L455.0,319.5 L456.5,320.0 L458.0,320.9 L459.5,322.0 L461.0,322.2 L462.5,321.3 L464.0,323.1 L465.5,323.8 L467.0,324.7 L468.5,325.0 L470.0,325.2 L471.5,325.7 L473.0,326.4 L474.5,326.8 L476.0,328.3 L477.5,328.5 L479.0,328.8 L480.5,329.7 L482.0,330.7 L483.5,330.2 L485.0,330.8 L486.5,331.1 L488.0,331.2 L489.5,332.0 L491.0,332.3 L492.5,333.4 L494.0,333.8 L495.5,334.5 L497.0,334.2 L498.5,335.4 L500.0,335.0 L501.5,335.8 L503.0,336.9 L504.5,337.3 L506.0,337.6 L507.5,338.5 L509.0,338.4 L510.5,338.2 L512.0,338.6 L513.5,338.8 L515.0,339.6 L516.5,339.5 L518.0,339.9 L519.5,340.2 L521.0,340.2 L522.5,342.4 L524.0,342.0 L525.5,341.1 L527.0,342.5 L528.5,342.4 L530.0,342.0 L531.5,343.2 L533.0,343.7 L534.5,344.2 L536.0,344.7 L537.5,344.2 L539.0,344.8 L540.5,345.4 L542.0,345.7 L543.5,345.9 L545.0,346.1 L546.5,346.8 L548.0,346.0 L549.5,346.2 L551.0,347.9 L552.5,347.5 L554.0,348.1 L555.5,348.0 L557.0,348.0 L558.5,348.2 L560.0,348.7 L561.5,348.6 L563.0,349.1 L564.5,349.3 L566.0,349.9 L567.5,350.1 L569.0,350.7 L570.5,349.9 L572.0,350.4 L573.5,351.1 L575.0,351.0 L576.5,350.0 L578.0,351.4 L579.5,351.5 L581.0,351.4 L582.5,351.7 L584.0,351.7 L585.5,352.7 L587.0,352.7 L588.5,352.7 L590.0,353.3 L591.5,353.4 L593.0,352.8 L594.5,352.8 L596.0,353.0 L597.5,354.0 L599.0,353.8 L600.5,354.5 L602.0,354.4 L603.5,354.2 L605.0,353.9 L606.5,354.5 L608.0,355.8 L609.5,354.6 L611.0,354.7 L612.5,355.1 L614.0,356.0 L615.5,355.5 L617.0,355.2 L618.5,355.5 L620.0,355.9 L621.5,356.1 L623.0,356.7 L624.5,357.4 L626.0,357.1 L627.5,356.9 L629.0,356.7 L630.5,356.5 L632.0,357.3 L633.5,357.7 L635.0,357.6 L636.5,357.3 L638.0,357.8 L639.5,357.5 L641.0,357.7 L642.5,357.8 L644.0,358.0 L645.5,358.1 L647.0,358.7 L648.5,358.4 L650.0,358.5 L651.5,359.1 L653.0,359.1 L654.5,359.4 L656.0,358.7 L657.5,359.7 L659.0,359.2 L660.5,358.9 L662.0,359.4 L663.5,359.1 L665.0,359.3 L666.5,359.7 L668.0,360.4 L669.5,359.5 L671.0,360.3 L672.5,360.2 L674.0,361.2 L675.5,360.7 L677.0,361.0 L678.5,361.5 L680.0,360.5 L681.0,360.9" stroke="#D81020" stroke-width="4.6" stroke-opacity="0.35"/><path d="M83.0,331.9 L84.5,332.0 L86.0,331.1 L87.5,330.7 L89.0,328.7 L90.5,327.8 L92.0,325.9 L93.5,324.0 L95.0,322.5 L96.5,320.8 L98.0,319.7 L99.5,317.0 L101.0,315.4 L102.5,313.7 L104.0,311.7 L105.5,309.3 L107.0,307.2 L108.5,303.6 L110.0,301.4 L111.5,299.3 L113.0,297.0 L114.5,294.1 L116.0,290.9 L117.5,288.4 L119.0,285.0 L120.5,283.3 L122.0,279.2 L123.5,277.3 L125.0,274.8 L126.5,271.8 L128.0,267.8 L129.5,265.7 L131.0,262.5 L132.5,259.6 L134.0,257.5 L135.5,254.0 L137.0,250.3 L138.5,247.5 L140.0,245.4 L141.5,242.3 L143.0,238.8 L144.5,235.7 L146.0,233.3 L147.5,230.6 L149.0,228.3 L150.5,224.8 L152.0,222.6 L153.5,220.1 L155.0,216.1 L156.5,213.8 L158.0,212.1 L159.5,208.5 L161.0,206.0 L162.5,203.8 L164.0,200.5 L165.5,198.0 L167.0,194.9 L168.5,193.4 L170.0,190.5 L171.5,188.1 L173.0,184.7 L174.5,183.9 L176.0,181.4 L177.5,178.5 L179.0,177.1 L180.5,173.3 L182.0,172.2 L183.5,169.3 L185.0,169.2 L186.5,164.7 L188.0,163.4 L189.5,161.6 L191.0,160.4 L192.5,158.6 L194.0,156.6 L195.5,154.5 L197.0,153.9 L198.5,151.0 L200.0,149.9 L201.5,149.0 L203.0,146.1 L204.5,144.9 L206.0,144.4 L207.5,142.8 L209.0,140.7 L210.5,140.2 L212.0,139.9 L213.5,137.9 L215.0,137.3 L216.5,136.1 L218.0,134.8 L219.5,135.1 L221.0,134.0 L222.5,133.5 L224.0,132.2 L225.5,131.8 L227.0,131.4 L228.5,131.1 L230.0,130.4 L231.5,130.0 L233.0,130.6 L234.5,129.3 L236.0,129.6 L237.5,129.6 L239.0,129.6 L240.5,129.4 L242.0,129.7 L243.5,130.7 L245.0,130.5 L246.5,130.7 L248.0,132.3 L249.5,131.4 L251.0,133.1 L252.5,133.5 L254.0,133.4 L255.5,134.6 L257.0,135.5 L258.5,137.1 L260.0,137.9 L261.5,138.4 L263.0,139.0 L264.5,139.9 L266.0,141.8 L267.5,142.4 L269.0,144.2 L270.5,145.5 L272.0,147.1 L273.5,148.8 L275.0,149.8 L276.5,151.5 L278.0,152.7 L279.5,154.8 L281.0,156.2 L282.5,158.2 L284.0,159.7 L285.5,160.5 L287.0,161.8 L288.5,164.5 L290.0,166.5 L291.5,167.5 L293.0,170.3 L294.5,171.4 L296.0,173.2 L297.5,175.3 L299.0,176.4 L300.5,178.2 L302.0,180.7 L303.5,182.2 L305.0,184.7 L306.5,186.7 L308.0,187.5 L309.5,190.3 L311.0,192.9 L312.5,193.6 L314.0,196.5 L315.5,198.1 L317.0,199.8 L318.5,203.2 L320.0,205.3 L321.5,206.6 L323.0,208.6 L324.5,211.5 L326.0,213.4 L327.5,214.9 L329.0,217.3 L330.5,219.0 L332.0,220.8 L333.5,223.2 L335.0,224.7 L336.5,227.1 L338.0,228.7 L339.5,230.5 L341.0,232.4 L342.5,234.8 L344.0,236.9 L345.5,238.6 L347.0,239.8 L348.5,242.3 L350.0,243.5 L351.5,245.2 L353.0,247.4 L354.5,249.6 L356.0,251.3 L357.5,252.9 L359.0,255.0 L360.5,256.4 L362.0,257.5 L363.5,259.7 L365.0,260.8 L366.5,262.7 L368.0,264.3 L369.5,265.5 L371.0,266.4 L372.5,268.5 L374.0,269.8 L375.5,271.3 L377.0,272.5 L378.5,273.6 L380.0,274.7 L381.5,277.0 L383.0,278.3 L384.5,279.3 L386.0,280.3 L387.5,282.4 L389.0,282.9 L390.5,283.7 L392.0,285.2 L393.5,285.9 L395.0,287.3 L396.5,288.1 L398.0,289.2 L399.5,290.0 L401.0,290.7 L402.5,292.1 L404.0,293.4 L405.5,293.4 L407.0,294.5 L408.5,295.1 L410.0,296.9 L411.5,297.3 L413.0,298.7 L414.5,298.8 L416.0,300.4 L417.5,300.6 L419.0,301.5 L420.5,302.8 L422.0,303.2 L423.5,304.0 L425.0,305.4 L426.5,305.8 L428.0,307.2 L429.5,308.5 L431.0,307.9 L432.5,308.8 L434.0,309.0 L435.5,309.9 L437.0,311.5 L438.5,312.1 L440.0,312.8 L441.5,313.6 L443.0,313.7 L444.5,314.0 L446.0,316.0 L447.5,316.3 L449.0,317.3 L450.5,317.5 L452.0,318.5 L453.5,318.6 L455.0,319.5 L456.5,320.0 L458.0,320.9 L459.5,322.0 L461.0,322.2 L462.5,321.3 L464.0,323.1 L465.5,323.8 L467.0,324.7 L468.5,325.0 L470.0,325.2 L471.5,325.7 L473.0,326.4 L474.5,326.8 L476.0,328.3 L477.5,328.5 L479.0,328.8 L480.5,329.7 L482.0,330.7 L483.5,330.2 L485.0,330.8 L486.5,331.1 L488.0,331.2 L489.5,332.0 L491.0,332.3 L492.5,333.4 L494.0,333.8 L495.5,334.5 L497.0,334.2 L498.5,335.4 L500.0,335.0 L501.5,335.8 L503.0,336.9 L504.5,337.3 L506.0,337.6 L507.5,338.5 L509.0,338.4 L510.5,338.2 L512.0,338.6 L513.5,338.8 L515.0,339.6 L516.5,339.5 L518.0,339.9 L519.5,340.2 L521.0,340.2 L522.5,342.4 L524.0,342.0 L525.5,341.1 L527.0,342.5 L528.5,342.4 L530.0,342.0 L531.5,343.2 L533.0,343.7 L534.5,344.2 L536.0,344.7 L537.5,344.2 L539.0,344.8 L540.5,345.4 L542.0,345.7 L543.5,345.9 L545.0,346.1 L546.5,346.8 L548.0,346.0 L549.5,346.2 L551.0,347.9 L552.5,347.5 L554.0,348.1 L555.5,348.0 L557.0,348.0 L558.5,348.2 L560.0,348.7 L561.5,348.6 L563.0,349.1 L564.5,349.3 L566.0,349.9 L567.5,350.1 L569.0,350.7 L570.5,349.9 L572.0,350.4 L573.5,351.1 L575.0,351.0 L576.5,350.0 L578.0,351.4 L579.5,351.5 L581.0,351.4 L582.5,351.7 L584.0,351.7 L585.5,352.7 L587.0,352.7 L588.5,352.7 L590.0,353.3 L591.5,353.4 L593.0,352.8 L594.5,352.8 L596.0,353.0 L597.5,354.0 L599.0,353.8 L600.5,354.5 L602.0,354.4 L603.5,354.2 L605.0,353.9 L606.5,354.5 L608.0,355.8 L609.5,354.6 L611.0,354.7 L612.5,355.1 L614.0,356.0 L615.5,355.5 L617.0,355.2 L618.5,355.5 L620.0,355.9 L621.5,356.1 L623.0,356.7 L624.5,357.4 L626.0,357.1 L627.5,356.9 L629.0,356.7 L630.5,356.5 L632.0,357.3 L633.5,357.7 L635.0,357.6 L636.5,357.3 L638.0,357.8 L639.5,357.5 L641.0,357.7 L642.5,357.8 L644.0,358.0 L645.5,358.1 L647.0,358.7 L648.5,358.4 L650.0,358.5 L651.5,359.1 L653.0,359.1 L654.5,359.4 L656.0,358.7 L657.5,359.7 L659.0,359.2 L660.5,358.9 L662.0,359.4 L663.5,359.1 L665.0,359.3 L666.5,359.7 L668.0,360.4 L669.5,359.5 L671.0,360.3 L672.5,360.2 L674.0,361.2 L675.5,360.7 L677.0,361.0 L678.5,361.5 L680.0,360.5 L681.0,360.9" stroke="#D81020"/>
<path d="M83.0,362.8 L84.5,362.8 L86.0,362.8 L87.5,362.7 L89.0,362.6 L90.5,362.5 L92.0,362.4 L93.5,362.2 L95.0,361.8 L96.5,361.4 L98.0,360.9 L99.5,360.5 L101.0,359.9 L102.5,359.3 L104.0,358.6 L105.5,357.9 L107.0,357.3 L108.5,356.7 L110.0,356.1 L111.5,355.5 L113.0,355.0 L114.5,354.4 L116.0,353.9 L117.5,353.3 L119.0,352.8 L120.5,352.3 L122.0,351.9 L123.5,351.5 L125.0,351.1 L126.5,350.7 L128.0,350.3 L129.5,350.0 L131.0,349.6 L132.5,349.3 L134.0,349.0 L135.5,348.7 L137.0,348.4 L138.5,348.1 L140.0,347.9 L141.5,347.7 L143.0,347.5 L144.5,347.4 L146.0,347.3 L147.5,347.2 L149.0,347.1 L150.5,347.0 L152.0,346.9 L153.5,346.8 L155.0,346.7 L156.5,346.7 L158.0,346.6 L159.5,346.5 L161.0,346.4 L162.5,346.3 L164.0,346.2 L165.5,346.1 L167.0,345.9 L168.5,345.8 L170.0,345.6 L171.5,345.5 L173.0,345.4 L174.5,345.3 L176.0,345.2 L177.5,345.1 L179.0,345.0 L180.5,344.9 L182.0,344.9 L183.5,344.9 L185.0,344.9 L186.5,344.9 L188.0,344.9 L189.5,344.9 L191.0,344.9 L192.5,344.9 L194.0,344.9 L195.5,344.9 L197.0,344.9 L198.5,344.9 L200.0,344.9 L201.5,344.9 L203.0,344.9 L204.5,344.9 L206.0,344.9 L207.5,344.9 L209.0,344.9 L210.5,344.9 L212.0,344.9 L213.5,344.9 L215.0,344.9 L216.5,344.9 L218.0,344.9 L219.5,344.9 L221.0,344.9 L222.5,344.9 L224.0,344.9 L225.5,344.9 L227.0,344.9 L228.5,344.9 L230.0,344.9 L231.5,344.9 L233.0,344.9 L234.5,345.0 L236.0,345.1 L237.5,345.2 L239.0,345.3 L240.5,345.4 L242.0,345.5 L243.5,345.6 L245.0,345.8 L246.5,345.9 L248.0,346.1 L249.5,346.2 L251.0,346.3 L252.5,346.5 L254.0,346.6 L255.5,346.7 L257.0,346.9 L258.5,347.1 L260.0,347.2 L261.5,347.4 L263.0,347.6 L264.5,347.8 L266.0,347.9 L267.5,348.1 L269.0,348.3 L270.5,348.5 L272.0,348.6 L273.5,348.8 L275.0,348.9 L276.5,349.1 L278.0,349.3 L279.5,349.4 L281.0,349.6 L282.5,349.8 L284.0,350.0 L285.5,350.2 L287.0,350.3 L288.5,350.5 L290.0,350.6 L291.5,350.7 L293.0,350.7 L294.5,350.8 L296.0,350.8 L297.5,350.8 L299.0,350.8 L300.5,350.7 L302.0,350.7 L303.5,350.6 L305.0,350.6 L306.5,350.5 L308.0,350.4 L309.5,350.4 L311.0,350.3 L312.5,350.2 L314.0,350.1 L315.5,350.0 L317.0,349.9 L318.5,349.8 L320.0,349.7 L321.5,349.6 L323.0,349.5 L324.5,349.3 L326.0,349.1 L327.5,349.0 L329.0,348.8 L330.5,348.6 L332.0,348.4 L333.5,348.2 L335.0,348.0 L336.5,347.8 L338.0,347.7 L339.5,347.5 L341.0,347.3 L342.5,347.2 L344.0,347.0 L345.5,346.8 L347.0,346.7 L348.5,346.5 L350.0,346.4 L351.5,346.2 L353.0,346.0 L354.5,345.9 L356.0,345.7 L357.5,345.6 L359.0,345.5 L360.5,345.4 L362.0,345.3 L363.5,345.2 L365.0,345.1 L366.5,345.0 L368.0,344.9 L369.5,344.8 L371.0,344.7 L372.5,344.7 L374.0,344.6 L375.5,344.5 L377.0,344.4 L378.5,344.4 L380.0,344.3 L381.5,344.2 L383.0,344.1 L384.5,344.0 L386.0,344.0 L387.5,343.9 L389.0,343.8 L390.5,343.8 L392.0,343.8 L393.5,343.8 L395.0,343.8 L396.5,343.8 L398.0,343.8 L399.5,343.8 L401.0,343.8 L402.5,343.8 L404.0,343.8 L405.5,343.8 L407.0,343.8 L408.5,343.8 L410.0,343.8 L411.5,343.8 L413.0,343.8 L414.5,343.8 L416.0,343.8 L417.5,343.8 L419.0,343.8 L420.5,343.8 L422.0,343.8 L423.5,343.9 L425.0,344.0 L426.5,344.1 L428.0,344.3 L429.5,344.4 L431.0,344.6 L432.5,344.8 L434.0,344.9 L435.5,345.1 L437.0,345.3 L438.5,345.5 L440.0,345.7 L441.5,345.8 L443.0,346.0 L444.5,346.2 L446.0,346.4 L447.5,346.6 L449.0,346.8 L450.5,347.0 L452.0,347.2 L453.5,347.4 L455.0,347.6 L456.5,347.8 L458.0,348.0 L459.5,348.3 L461.0,348.5 L462.5,348.7 L464.0,348.9 L465.5,349.1 L467.0,349.2 L468.5,349.4 L470.0,349.6 L471.5,349.7 L473.0,349.9 L474.5,350.0 L476.0,350.2 L477.5,350.3 L479.0,350.5 L480.5,350.6 L482.0,350.8 L483.5,350.9 L485.0,351.1 L486.5,351.2 L488.0,351.4 L489.5,351.5 L491.0,351.6 L492.5,351.8 L494.0,351.9 L495.5,352.1 L497.0,352.2 L498.5,352.3 L500.0,352.5 L501.5,352.6 L503.0,352.8 L504.5,352.9 L506.0,353.0 L507.5,353.2 L509.0,353.3 L510.5,353.5 L512.0,353.7 L513.5,353.8 L515.0,354.0 L516.5,354.2 L518.0,354.5 L519.5,354.7 L521.0,354.9 L522.5,355.1 L524.0,355.3 L525.5,355.5 L527.0,355.7 L528.5,355.9 L530.0,356.0 L531.5,356.1 L533.0,356.3 L534.5,356.4 L536.0,356.5 L537.5,356.6 L539.0,356.7 L540.5,356.8 L542.0,356.9 L543.5,357.0 L545.0,357.1 L546.5,357.2 L548.0,357.3 L549.5,357.4 L551.0,357.5 L552.5,357.6 L554.0,357.7 L555.5,357.8 L557.0,358.0 L558.5,358.1 L560.0,358.2 L561.5,358.4 L563.0,358.5 L564.5,358.6 L566.0,358.8 L567.5,358.9 L569.0,359.1 L570.5,359.2 L572.0,359.3 L573.5,359.5 L575.0,359.6 L576.5,359.7 L578.0,359.9 L579.5,360.0 L581.0,360.1 L582.5,360.2 L584.0,360.3 L585.5,360.4 L587.0,360.5 L588.5,360.6 L590.0,360.7 L591.5,360.8 L593.0,360.9 L594.5,360.9 L596.0,361.0 L597.5,361.1 L599.0,361.1 L600.5,361.2 L602.0,361.3 L603.5,361.3 L605.0,361.4 L606.5,361.5 L608.0,361.5 L609.5,361.6 L611.0,361.6 L612.5,361.7 L614.0,361.8 L615.5,361.8 L617.0,361.9 L618.5,362.0 L620.0,362.1 L621.5,362.2 L623.0,362.2 L624.5,362.3 L626.0,362.5 L627.5,362.6 L629.0,362.7 L630.5,362.8 L632.0,362.9 L633.5,363.0 L635.0,363.1 L636.5,363.2 L638.0,363.3 L639.5,363.4 L641.0,363.4 L642.5,363.5 L644.0,363.5 L645.5,363.6 L647.0,363.6 L648.5,363.6 L650.0,363.6 L651.5,363.7 L653.0,363.7 L654.5,363.7 L656.0,363.8 L657.5,363.8 L659.0,363.8 L660.5,363.8 L662.0,363.9 L663.5,363.9 L665.0,363.9 L666.5,363.9 L668.0,363.9 L669.5,363.9 L671.0,364.0 L672.5,364.0 L674.0,364.0 L675.5,364.0 L677.0,364.0 L678.5,364.0 L680.0,364.0 L681.0,364.0" stroke="#C80AD2" stroke-width="4.6" stroke-opacity="0.35"/><path d="M83.0,362.8 L84.5,362.8 L86.0,362.8 L87.5,362.7 L89.0,362.6 L90.5,362.5 L92.0,362.4 L93.5,362.2 L95.0,361.8 L96.5,361.4 L98.0,360.9 L99.5,360.5 L101.0,359.9 L102.5,359.3 L104.0,358.6 L105.5,357.9 L107.0,357.3 L108.5,356.7 L110.0,356.1 L111.5,355.5 L113.0,355.0 L114.5,354.4 L116.0,353.9 L117.5,353.3 L119.0,352.8 L120.5,352.3 L122.0,351.9 L123.5,351.5 L125.0,351.1 L126.5,350.7 L128.0,350.3 L129.5,350.0 L131.0,349.6 L132.5,349.3 L134.0,349.0 L135.5,348.7 L137.0,348.4 L138.5,348.1 L140.0,347.9 L141.5,347.7 L143.0,347.5 L144.5,347.4 L146.0,347.3 L147.5,347.2 L149.0,347.1 L150.5,347.0 L152.0,346.9 L153.5,346.8 L155.0,346.7 L156.5,346.7 L158.0,346.6 L159.5,346.5 L161.0,346.4 L162.5,346.3 L164.0,346.2 L165.5,346.1 L167.0,345.9 L168.5,345.8 L170.0,345.6 L171.5,345.5 L173.0,345.4 L174.5,345.3 L176.0,345.2 L177.5,345.1 L179.0,345.0 L180.5,344.9 L182.0,344.9 L183.5,344.9 L185.0,344.9 L186.5,344.9 L188.0,344.9 L189.5,344.9 L191.0,344.9 L192.5,344.9 L194.0,344.9 L195.5,344.9 L197.0,344.9 L198.5,344.9 L200.0,344.9 L201.5,344.9 L203.0,344.9 L204.5,344.9 L206.0,344.9 L207.5,344.9 L209.0,344.9 L210.5,344.9 L212.0,344.9 L213.5,344.9 L215.0,344.9 L216.5,344.9 L218.0,344.9 L219.5,344.9 L221.0,344.9 L222.5,344.9 L224.0,344.9 L225.5,344.9 L227.0,344.9 L228.5,344.9 L230.0,344.9 L231.5,344.9 L233.0,344.9 L234.5,345.0 L236.0,345.1 L237.5,345.2 L239.0,345.3 L240.5,345.4 L242.0,345.5 L243.5,345.6 L245.0,345.8 L246.5,345.9 L248.0,346.1 L249.5,346.2 L251.0,346.3 L252.5,346.5 L254.0,346.6 L255.5,346.7 L257.0,346.9 L258.5,347.1 L260.0,347.2 L261.5,347.4 L263.0,347.6 L264.5,347.8 L266.0,347.9 L267.5,348.1 L269.0,348.3 L270.5,348.5 L272.0,348.6 L273.5,348.8 L275.0,348.9 L276.5,349.1 L278.0,349.3 L279.5,349.4 L281.0,349.6 L282.5,349.8 L284.0,350.0 L285.5,350.2 L287.0,350.3 L288.5,350.5 L290.0,350.6 L291.5,350.7 L293.0,350.7 L294.5,350.8 L296.0,350.8 L297.5,350.8 L299.0,350.8 L300.5,350.7 L302.0,350.7 L303.5,350.6 L305.0,350.6 L306.5,350.5 L308.0,350.4 L309.5,350.4 L311.0,350.3 L312.5,350.2 L314.0,350.1 L315.5,350.0 L317.0,349.9 L318.5,349.8 L320.0,349.7 L321.5,349.6 L323.0,349.5 L324.5,349.3 L326.0,349.1 L327.5,349.0 L329.0,348.8 L330.5,348.6 L332.0,348.4 L333.5,348.2 L335.0,348.0 L336.5,347.8 L338.0,347.7 L339.5,347.5 L341.0,347.3 L342.5,347.2 L344.0,347.0 L345.5,346.8 L347.0,346.7 L348.5,346.5 L350.0,346.4 L351.5,346.2 L353.0,346.0 L354.5,345.9 L356.0,345.7 L357.5,345.6 L359.0,345.5 L360.5,345.4 L362.0,345.3 L363.5,345.2 L365.0,345.1 L366.5,345.0 L368.0,344.9 L369.5,344.8 L371.0,344.7 L372.5,344.7 L374.0,344.6 L375.5,344.5 L377.0,344.4 L378.5,344.4 L380.0,344.3 L381.5,344.2 L383.0,344.1 L384.5,344.0 L386.0,344.0 L387.5,343.9 L389.0,343.8 L390.5,343.8 L392.0,343.8 L393.5,343.8 L395.0,343.8 L396.5,343.8 L398.0,343.8 L399.5,343.8 L401.0,343.8 L402.5,343.8 L404.0,343.8 L405.5,343.8 L407.0,343.8 L408.5,343.8 L410.0,343.8 L411.5,343.8 L413.0,343.8 L414.5,343.8 L416.0,343.8 L417.5,343.8 L419.0,343.8 L420.5,343.8 L422.0,343.8 L423.5,343.9 L425.0,344.0 L426.5,344.1 L428.0,344.3 L429.5,344.4 L431.0,344.6 L432.5,344.8 L434.0,344.9 L435.5,345.1 L437.0,345.3 L438.5,345.5 L440.0,345.7 L441.5,345.8 L443.0,346.0 L444.5,346.2 L446.0,346.4 L447.5,346.6 L449.0,346.8 L450.5,347.0 L452.0,347.2 L453.5,347.4 L455.0,347.6 L456.5,347.8 L458.0,348.0 L459.5,348.3 L461.0,348.5 L462.5,348.7 L464.0,348.9 L465.5,349.1 L467.0,349.2 L468.5,349.4 L470.0,349.6 L471.5,349.7 L473.0,349.9 L474.5,350.0 L476.0,350.2 L477.5,350.3 L479.0,350.5 L480.5,350.6 L482.0,350.8 L483.5,350.9 L485.0,351.1 L486.5,351.2 L488.0,351.4 L489.5,351.5 L491.0,351.6 L492.5,351.8 L494.0,351.9 L495.5,352.1 L497.0,352.2 L498.5,352.3 L500.0,352.5 L501.5,352.6 L503.0,352.8 L504.5,352.9 L506.0,353.0 L507.5,353.2 L509.0,353.3 L510.5,353.5 L512.0,353.7 L513.5,353.8 L515.0,354.0 L516.5,354.2 L518.0,354.5 L519.5,354.7 L521.0,354.9 L522.5,355.1 L524.0,355.3 L525.5,355.5 L527.0,355.7 L528.5,355.9 L530.0,356.0 L531.5,356.1 L533.0,356.3 L534.5,356.4 L536.0,356.5 L537.5,356.6 L539.0,356.7 L540.5,356.8 L542.0,356.9 L543.5,357.0 L545.0,357.1 L546.5,357.2 L548.0,357.3 L549.5,357.4 L551.0,357.5 L552.5,357.6 L554.0,357.7 L555.5,357.8 L557.0,358.0 L558.5,358.1 L560.0,358.2 L561.5,358.4 L563.0,358.5 L564.5,358.6 L566.0,358.8 L567.5,358.9 L569.0,359.1 L570.5,359.2 L572.0,359.3 L573.5,359.5 L575.0,359.6 L576.5,359.7 L578.0,359.9 L579.5,360.0 L581.0,360.1 L582.5,360.2 L584.0,360.3 L585.5,360.4 L587.0,360.5 L588.5,360.6 L590.0,360.7 L591.5,360.8 L593.0,360.9 L594.5,360.9 L596.0,361.0 L597.5,361.1 L599.0,361.1 L600.5,361.2 L602.0,361.3 L603.5,361.3 L605.0,361.4 L606.5,361.5 L608.0,361.5 L609.5,361.6 L611.0,361.6 L612.5,361.7 L614.0,361.8 L615.5,361.8 L617.0,361.9 L618.5,362.0 L620.0,362.1 L621.5,362.2 L623.0,362.2 L624.5,362.3 L626.0,362.5 L627.5,362.6 L629.0,362.7 L630.5,362.8 L632.0,362.9 L633.5,363.0 L635.0,363.1 L636.5,363.2 L638.0,363.3 L639.5,363.4 L641.0,363.4 L642.5,363.5 L644.0,363.5 L645.5,363.6 L647.0,363.6 L648.5,363.6 L650.0,363.6 L651.5,363.7 L653.0,363.7 L654.5,363.7 L656.0,363.8 L657.5,363.8 L659.0,363.8 L660.5,363.8 L662.0,363.9 L663.5,363.9 L665.0,363.9 L666.5,363.9 L668.0,363.9 L669.5,363.9 L671.0,364.0 L672.5,364.0 L674.0,364.0 L675.5,364.0 L677.0,364.0 L678.5,364.0 L680.0,364.0 L681.0,364.0" stroke="#C80AD2" stroke-width="3.4"/>
</g>
<rect x="76" y="368.00" width="7" height="2" fill="#3a3a3a"/><rect x="76" y="316.43" width="7" height="2" fill="#3a3a3a"/><rect x="76" y="264.86" width="7" height="2" fill="#3a3a3a"/><rect x="76" y="213.29" width="7" height="2" fill="#3a3a3a"/><rect x="76" y="161.72" width="7" height="2" fill="#3a3a3a"/><rect x="76" y="110.15" width="7" height="2" fill="#3a3a3a"/><rect x="76" y="58.58" width="7" height="2" fill="#3a3a3a"/><rect x="76" y="7.01" width="7" height="2" fill="#3a3a3a"/><rect x="82.00" y="369" width="2" height="6.5" fill="#3a3a3a"/><rect x="158.35" y="369" width="2" height="6.5" fill="#3a3a3a"/><rect x="234.70" y="369" width="2" height="6.5" fill="#3a3a3a"/><rect x="311.05" y="369" width="2" height="6.5" fill="#3a3a3a"/><rect x="387.40" y="369" width="2" height="6.5" fill="#3a3a3a"/><rect x="463.75" y="369" width="2" height="6.5" fill="#3a3a3a"/><rect x="540.10" y="369" width="2" height="6.5" fill="#3a3a3a"/><rect x="616.45" y="369" width="2" height="6.5" fill="#3a3a3a"/>
<text x="64.3" y="374.6" text-anchor="end" class="b17">0</text><text x="64.3" y="323.0" text-anchor="end" class="b17" textLength="28.8" lengthAdjust="spacingAndGlyphs">100</text><text x="64.3" y="271.5" text-anchor="end" class="b17" textLength="28.8" lengthAdjust="spacingAndGlyphs">200</text><text x="64.3" y="219.9" text-anchor="end" class="b17" textLength="28.8" lengthAdjust="spacingAndGlyphs">300</text><text x="64.3" y="168.3" text-anchor="end" class="b17" textLength="28.8" lengthAdjust="spacingAndGlyphs">400</text><text x="64.3" y="116.7" text-anchor="end" class="b17" textLength="28.8" lengthAdjust="spacingAndGlyphs">500</text><text x="64.3" y="65.2" text-anchor="end" class="b17" textLength="28.8" lengthAdjust="spacingAndGlyphs">600</text><text x="64.3" y="13.6" text-anchor="end" class="b17" textLength="28.8" lengthAdjust="spacingAndGlyphs">700</text><text x="83.9" y="407.7" text-anchor="middle" class="b17" textLength="29.8" lengthAdjust="spacingAndGlyphs">300</text><text x="160.2" y="407.7" text-anchor="middle" class="b17" textLength="29.8" lengthAdjust="spacingAndGlyphs">325</text><text x="236.6" y="407.7" text-anchor="middle" class="b17" textLength="29.8" lengthAdjust="spacingAndGlyphs">350</text><text x="312.9" y="407.7" text-anchor="middle" class="b17" textLength="29.8" lengthAdjust="spacingAndGlyphs">375</text><text x="389.3" y="407.7" text-anchor="middle" class="b17" textLength="29.8" lengthAdjust="spacingAndGlyphs">400</text><text x="465.6" y="407.7" text-anchor="middle" class="b17" textLength="29.8" lengthAdjust="spacingAndGlyphs">425</text><text x="542.0" y="407.7" text-anchor="middle" class="b17" textLength="29.8" lengthAdjust="spacingAndGlyphs">450</text><text x="618.3" y="407.7" text-anchor="middle" class="b17" textLength="29.8" lengthAdjust="spacingAndGlyphs">475</text>
<rect x="440" y="25" width="220" height="160" fill="#fff"/><line x1="447" y1="31.9" x2="447" y2="149.3" stroke="#333" stroke-width="1.6"/><line x1="442" y1="148.5" x2="654.2" y2="148.5" stroke="#333" stroke-width="1.6"/><line x1="442" y1="148.50" x2="447" y2="148.50" stroke="#333" stroke-width="1.6"/><text x="431.5" y="153.6" text-anchor="end" class="b13" textLength="29.7" lengthAdjust="spacingAndGlyphs">0.00</text><line x1="442" y1="109.63" x2="447" y2="109.63" stroke="#333" stroke-width="1.6"/><text x="431.5" y="114.7" text-anchor="end" class="b13" textLength="34.5" lengthAdjust="spacingAndGlyphs">-0.50</text><line x1="442" y1="70.76" x2="447" y2="70.76" stroke="#333" stroke-width="1.6"/><text x="431.5" y="75.9" text-anchor="end" class="b13" textLength="35" lengthAdjust="spacingAndGlyphs">-1.00</text><line x1="442" y1="31.89" x2="447" y2="31.89" stroke="#333" stroke-width="1.6"/><text x="431.5" y="37.0" text-anchor="end" class="b13" textLength="35" lengthAdjust="spacingAndGlyphs">-1.50</text><line x1="447.00" y1="148.5" x2="447.00" y2="153.8" stroke="#333" stroke-width="1.6"/><text x="447.2" y="180.7" text-anchor="middle" class="b13" textLength="36.2" lengthAdjust="spacingAndGlyphs">-1.50</text><line x1="515.80" y1="148.5" x2="515.80" y2="153.8" stroke="#333" stroke-width="1.6"/><text x="516.0" y="180.7" text-anchor="middle" class="b13" textLength="36.2" lengthAdjust="spacingAndGlyphs">-2.00</text><line x1="584.60" y1="148.5" x2="584.60" y2="153.8" stroke="#333" stroke-width="1.6"/><text x="584.8" y="180.7" text-anchor="middle" class="b13" textLength="36.2" lengthAdjust="spacingAndGlyphs">-2.50</text><line x1="653.40" y1="148.5" x2="653.40" y2="153.8" stroke="#333" stroke-width="1.6"/><text x="653.6" y="180.7" text-anchor="middle" class="b13" textLength="36.2" lengthAdjust="spacingAndGlyphs">-3.00</text><path d="M522.0,108.2 L528.0,114.2 L522.0,120.2 L516.0,114.2 Z" fill="#E83CD6"/><path d="M529.1,101.2 L535.1,107.2 L529.1,113.2 L523.1,107.2 Z" fill="#E83CD6"/><path d="M537.4,105.1 L543.4,111.1 L537.4,117.1 L531.4,111.1 Z" fill="#E83CD6"/><path d="M546.4,96.8 L552.4,102.8 L546.4,108.8 L540.4,102.8 Z" fill="#E83CD6"/><path d="M557.4,88.9 L563.4,94.9 L557.4,100.9 L551.4,94.9 Z" fill="#E83CD6"/><path d="M570.4,76.0 L576.4,82.0 L570.4,88.0 L564.4,82.0 Z" fill="#E83CD6"/><path d="M586.5,81.5 L592.5,87.5 L586.5,93.5 L580.5,87.5 Z" fill="#E83CD6"/><path d="M610.9,66.9 L616.9,72.9 L610.9,78.9 L604.9,72.9 Z" fill="#E83CD6"/><path d="M652.8,43.6 L658.8,49.6 L652.8,55.6 L646.8,49.6 Z" fill="#E83CD6"/><line x1="452.8" y1="148.5" x2="651.8" y2="51.6" stroke="#2a2a2a" stroke-width="1.3"/><text transform="translate(542.90,199.7) scale(0.845,1)" x="-0.96" y="0" font-size="14.3" font-weight="bold">L</text><text transform="translate(550.30,199.7) scale(0.919,1)" x="-0.56" y="0" font-size="14.3" font-weight="bold">o</text><text transform="translate(558.30,199.7) scale(0.973,1)" x="-0.59" y="0" font-size="14.3" font-weight="bold">g</text><text transform="translate(569.20,199.7) scale(1.087,1)" x="-0.59" y="0" font-size="14.3" font-weight="bold">Q</text><text transform="translate(396.2,145) rotate(-90)" class="b14" textLength="64" lengthAdjust="spacingAndGlyphs">log (dF/F)</text><text transform="translate(468.10,36.5) scale(0.871,1)" x="-1.15" y="0" font-size="14" font-weight="normal" stroke="#111" stroke-width="0.25">K</text><text transform="translate(475.50,38.9) scale(0.928,1)" x="-0.40" y="0" font-size="10" font-weight="normal" stroke="#111" stroke-width="0.35">5</text><text transform="translate(480.80,38.9) scale(0.931,1)" x="-0.82" y="0" font-size="10" font-weight="normal" stroke="#111" stroke-width="0.35">H</text><text transform="translate(487.30,38.9) scale(1.241,1)" x="-0.82" y="0" font-size="10" font-weight="normal" stroke="#111" stroke-width="0.14">M</text><text transform="translate(496.50,38.9) scale(1.165,1)" x="-0.82" y="0" font-size="10" font-weight="normal" stroke="#111" stroke-width="0.14">P</text><text transform="translate(509.70,36.5) scale(0.941,1)" x="-0.68" y="0" font-size="14" font-weight="normal" stroke="#111" stroke-width="0.25">=</text><text transform="translate(518.70,36.5) scale(1.003,1)" x="-0.70" y="0" font-size="14" font-weight="normal" stroke="#111" stroke-width="0.25">2</text><text transform="translate(527.50,36.5) scale(1.275,1)" x="-1.28" y="0" font-size="14" font-weight="normal" stroke="#111" stroke-width="0.10">.</text><text transform="translate(531.30,36.5) scale(1.020,1)" x="-0.61" y="0" font-size="14" font-weight="normal" stroke="#111" stroke-width="0.25">8</text><text transform="translate(542.40,36.5) scale(1.029,1)" x="-0.44" y="0" font-size="14" font-weight="normal" stroke="#111" stroke-width="0.25">±</text><text transform="translate(554.30,36.5) scale(1.011,1)" x="-1.07" y="0" font-size="14" font-weight="normal" stroke="#111" stroke-width="0.25">1</text><text transform="translate(562.60,36.5) scale(1.650,1)" x="-1.28" y="0" font-size="14" font-weight="normal" stroke="#111" stroke-width="0.10">.</text><text transform="translate(566.10,36.5) scale(1.049,1)" x="-0.32" y="0" font-size="14" font-weight="normal" stroke="#111" stroke-width="0.25">4</text><text transform="translate(577.90,36.5) scale(1.186,1)" x="-0.97" y="0" font-size="14" font-weight="normal" stroke="#111" stroke-width="0.10">×</text><text transform="translate(591.20,36.5) scale(0.795,1)" x="-1.07" y="0" font-size="14" font-weight="normal" stroke="#111" stroke-width="0.25">1</text><text transform="translate(598.40,36.5) scale(1.031,1)" x="-0.55" y="0" font-size="14" font-weight="normal" stroke="#111" stroke-width="0.25">0</text><text transform="translate(606.90,30.6) scale(1.147,1)" x="-0.21" y="0" font-size="9" font-weight="normal" stroke="#111" stroke-width="0.10">4</text><text transform="translate(614.10,36.3) scale(1.292,1)" x="-1.15" y="0" font-size="14" font-weight="normal" stroke="#111" stroke-width="0.10">M</text><text transform="translate(628.20,30.9) scale(1.006,1)" x="-0.44" y="0" font-size="9" font-weight="normal" stroke="#111" stroke-width="0.25">−</text><text transform="translate(634.20,30.9) scale(1.340,1)" x="-0.69" y="0" font-size="9" font-weight="normal" stroke="#111" stroke-width="0.10">1</text><text transform="translate(490.60,56.6) scale(0.926,1)" x="-1.15" y="0" font-size="14" font-weight="normal" stroke="#111" stroke-width="0.25">R</text><text transform="translate(499.30,49.9) scale(1.188,1)" x="-0.43" y="0" font-size="8.5" font-weight="normal" stroke="#111" stroke-width="0.10">2</text><text transform="translate(508.00,56.6) scale(1.044,1)" x="-0.68" y="0" font-size="14" font-weight="normal" stroke="#111" stroke-width="0.25">=</text><text transform="translate(519.20,56.6) scale(1.001,1)" x="-0.55" y="0" font-size="14" font-weight="normal" stroke="#111" stroke-width="0.25">0</text><text transform="translate(527.90,56.6) scale(1.575,1)" x="-1.28" y="0" font-size="14" font-weight="normal" stroke="#111" stroke-width="0.10">.</text><text transform="translate(532.00,56.6) scale(1.113,1)" x="-0.66" y="0" font-size="14" font-weight="normal" stroke="#111" stroke-width="0.25">9</text><text transform="translate(541.20,56.6) scale(1.115,1)" x="-0.71" y="0" font-size="14" font-weight="normal" stroke="#111" stroke-width="0.25">6</text><text transform="translate(550.00,56.6) scale(1.053,1)" x="-0.72" y="0" font-size="14" font-weight="normal" stroke="#111" stroke-width="0.25">7</text><text transform="translate(558.70,56.6) scale(1.892,1)" x="-1.26" y="0" font-size="14" font-weight="normal" stroke="#111" stroke-width="0.10">;</text><text transform="translate(566.90,56.6) scale(1.110,1)" x="-0.93" y="0" font-size="14" font-weight="normal" stroke="#111" stroke-width="0.25">n</text><text transform="translate(575.10,56.6) scale(1.044,1)" x="-0.68" y="0" font-size="14" font-weight="normal" stroke="#111" stroke-width="0.25">=</text><text transform="translate(587.30,56.6) scale(1.001,1)" x="-0.55" y="0" font-size="14" font-weight="normal" stroke="#111" stroke-width="0.25">0</text><text transform="translate(596.00,56.6) scale(1.500,1)" x="-1.28" y="0" font-size="14" font-weight="normal" stroke="#111" stroke-width="0.10">.</text><text transform="translate(600.10,56.6) scale(1.096,1)" x="-0.61" y="0" font-size="14" font-weight="normal" stroke="#111" stroke-width="0.25">8</text><text transform="translate(608.30,56.6) scale(1.134,1)" x="-0.32" y="0" font-size="14" font-weight="normal" stroke="#111" stroke-width="0.10">4</text>
<text transform="translate(288.10,32.8) scale(1.010,1)" x="-1.21" y="0" font-size="14.7" font-weight="normal" stroke="#111" stroke-width="0.25">B</text><text transform="translate(297.80,32.8) scale(0.815,1)" x="-0.67" y="0" font-size="14.7" font-weight="normal" stroke="#111" stroke-width="0.25">S</text><text transform="translate(306.50,32.8) scale(0.995,1)" x="-0.03" y="0" font-size="14.7" font-weight="normal" stroke="#111" stroke-width="0.25">A</text><text transform="translate(240.40,326.8) scale(1.141,1)" x="-0.58" y="0" font-size="14.6" font-weight="normal" stroke="#111" stroke-width="0.10">5</text><text transform="translate(250.20,326.8) scale(1.234,1)" x="-0.65" y="0" font-size="14.6" font-weight="normal" stroke="#111" stroke-width="0.10">-</text><text transform="translate(257.00,326.8) scale(1.128,1)" x="-1.20" y="0" font-size="14.6" font-weight="normal" stroke="#111" stroke-width="0.10">H</text><text transform="translate(268.80,326.8) scale(1.218,1)" x="-1.20" y="0" font-size="14.6" font-weight="normal" stroke="#111" stroke-width="0.10">M</text><text transform="translate(283.70,326.8) scale(1.068,1)" x="-1.20" y="0" font-size="14.6" font-weight="normal" stroke="#111" stroke-width="0.25">P</text><text transform="translate(494.30,234.4) scale(0.957,1)" x="-0.60" y="0" font-size="15.3" font-weight="normal" stroke="#111" stroke-width="0.25">0</text><text transform="translate(504.10,234.4) scale(1.304,1)" x="-1.40" y="0" font-size="15.3" font-weight="normal" stroke="#111" stroke-width="0.10">.</text><text transform="translate(508.60,234.4) scale(0.957,1)" x="-0.60" y="0" font-size="15.3" font-weight="normal" stroke="#111" stroke-width="0.25">0</text><text transform="translate(517.80,234.4) scale(0.957,1)" x="-0.60" y="0" font-size="15.3" font-weight="normal" stroke="#111" stroke-width="0.25">0</text><text transform="translate(527.00,234.4) scale(0.849,1)" x="-1.17" y="0" font-size="15.3" font-weight="normal" stroke="#111" stroke-width="0.25">1</text><text transform="translate(540.30,234.4) scale(1.166,1)" x="-1.02" y="0" font-size="15.3" font-weight="normal" stroke="#111" stroke-width="0.10">m</text><text transform="translate(556.00,234.4) scale(1.280,1)" x="-1.26" y="0" font-size="15.3" font-weight="normal" stroke="#111" stroke-width="0.10">M</text><text transform="translate(495.70,311.9) scale(0.943,1)" x="-0.60" y="0" font-size="15.3" font-weight="normal" stroke="#111" stroke-width="0.25">0</text><text transform="translate(505.10,311.9) scale(1.442,1)" x="-1.40" y="0" font-size="15.3" font-weight="normal" stroke="#111" stroke-width="0.10">.</text><text transform="translate(510.00,311.9) scale(0.902,1)" x="-0.60" y="0" font-size="15.3" font-weight="normal" stroke="#111" stroke-width="0.25">0</text><text transform="translate(519.10,311.9) scale(0.902,1)" x="-0.60" y="0" font-size="15.3" font-weight="normal" stroke="#111" stroke-width="0.25">0</text><text transform="translate(527.80,311.9) scale(0.934,1)" x="-0.72" y="0" font-size="15.3" font-weight="normal" stroke="#111" stroke-width="0.25">9</text><text transform="translate(541.80,311.9) scale(1.194,1)" x="-1.02" y="0" font-size="15.3" font-weight="normal" stroke="#111" stroke-width="0.10">m</text><text transform="translate(557.30,311.9) scale(1.270,1)" x="-1.26" y="0" font-size="15.3" font-weight="normal" stroke="#111" stroke-width="0.10">M</text><g stroke="#222" stroke-width="1.3" fill="none" stroke-linecap="round"><path d="M249.6,45.8 L285,23.7 M273.5,24.3 L285,23.7 L279.6,34.1"/><path d="M199.7,343.8 L235.8,321.2 M223.8,321.9 L235.8,321.2 L230.8,332.4"/><path d="M533.6,247.2 L534.7,289 M528.2,279.6 L534.7,289 L540.9,279.6"/></g>
<text x="265.6" y="439.5" class="b18" textLength="147.4" lengthAdjust="spacingAndGlyphs">Wavelength (nm)</text><text transform="translate(15.5,239.3) rotate(-90)" class="b18" textLength="102" lengthAdjust="spacingAndGlyphs">Absorbance</text>
</svg>
</body></html>
